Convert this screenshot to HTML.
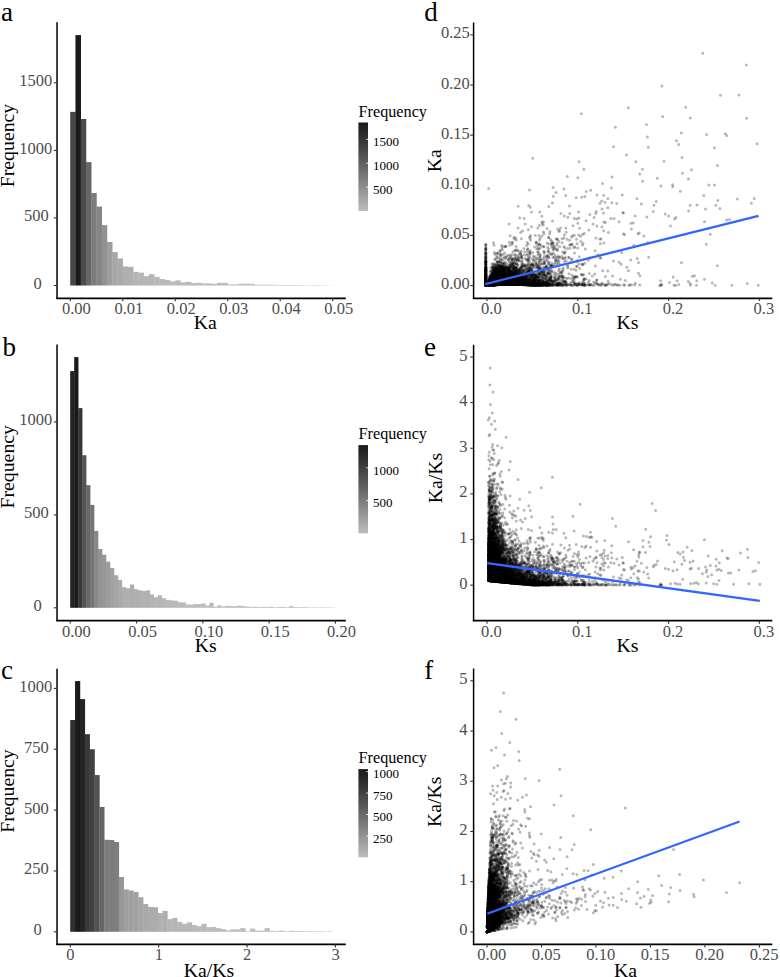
<!DOCTYPE html>
<html><head><meta charset="utf-8"><style>
html,body{margin:0;padding:0;background:#fff;overflow:hidden;width:780px;height:977px;}
svg{display:block;}
text{font-family:"Liberation Serif", serif;}
</style></head><body>
<svg width="780" height="977" viewBox="0 0 780 977">
<rect width="780" height="977" fill="#fff"/>
<rect x="70.20" y="111.85" width="5.55" height="173.65" fill="#474747"/>
<rect x="75.45" y="35.09" width="5.55" height="250.41" fill="#1a1a1a"/>
<rect x="80.70" y="119.01" width="5.55" height="166.49" fill="#4b4b4b"/>
<rect x="85.94" y="162.12" width="5.55" height="123.38" fill="#676767"/>
<rect x="91.19" y="193.06" width="5.55" height="92.44" fill="#7c7c7c"/>
<rect x="96.44" y="206.58" width="5.55" height="78.92" fill="#858585"/>
<rect x="101.69" y="225.09" width="5.55" height="60.41" fill="#929292"/>
<rect x="106.94" y="241.98" width="5.55" height="43.52" fill="#9e9e9e"/>
<rect x="112.18" y="252.12" width="5.55" height="33.38" fill="#a6a6a6"/>
<rect x="117.43" y="258.47" width="5.55" height="27.03" fill="#aaaaaa"/>
<rect x="122.68" y="266.45" width="5.55" height="19.05" fill="#b0b0b0"/>
<rect x="127.93" y="266.85" width="5.55" height="18.65" fill="#b0b0b0"/>
<rect x="133.18" y="271.85" width="5.55" height="13.65" fill="#b4b4b4"/>
<rect x="138.42" y="272.66" width="5.55" height="12.84" fill="#b5b5b5"/>
<rect x="143.67" y="276.18" width="5.55" height="9.32" fill="#b7b7b7"/>
<rect x="148.92" y="274.15" width="5.55" height="11.35" fill="#b6b6b6"/>
<rect x="154.17" y="276.85" width="5.55" height="8.65" fill="#b8b8b8"/>
<rect x="159.42" y="279.01" width="5.55" height="6.49" fill="#b9b9b9"/>
<rect x="164.66" y="279.96" width="5.55" height="5.54" fill="#bababa"/>
<rect x="169.91" y="281.31" width="5.55" height="4.19" fill="#bbbbbb"/>
<rect x="175.16" y="280.36" width="5.55" height="5.14" fill="#bababa"/>
<rect x="180.41" y="282.26" width="5.55" height="3.24" fill="#bcbcbc"/>
<rect x="185.66" y="281.85" width="5.55" height="3.65" fill="#bbbbbb"/>
<rect x="190.90" y="283.07" width="5.55" height="2.43" fill="#bcbcbc"/>
<rect x="196.15" y="282.80" width="5.55" height="2.70" fill="#bcbcbc"/>
<rect x="201.40" y="283.34" width="5.55" height="2.16" fill="#bcbcbc"/>
<rect x="206.65" y="283.34" width="5.55" height="2.16" fill="#bcbcbc"/>
<rect x="211.90" y="283.74" width="5.55" height="1.76" fill="#bdbdbd"/>
<rect x="217.14" y="282.80" width="5.55" height="2.70" fill="#bcbcbc"/>
<rect x="222.39" y="282.80" width="5.55" height="2.70" fill="#bcbcbc"/>
<rect x="227.64" y="284.42" width="5.55" height="1.08" fill="#bdbdbd"/>
<rect x="232.89" y="284.42" width="5.55" height="1.08" fill="#bdbdbd"/>
<rect x="238.14" y="283.74" width="5.55" height="1.76" fill="#bdbdbd"/>
<rect x="243.38" y="283.74" width="5.55" height="1.76" fill="#bdbdbd"/>
<rect x="248.63" y="283.74" width="5.55" height="1.76" fill="#bdbdbd"/>
<rect x="253.88" y="284.69" width="5.55" height="0.81" fill="#bdbdbd"/>
<rect x="259.13" y="284.69" width="5.55" height="0.81" fill="#bdbdbd"/>
<rect x="264.38" y="284.69" width="5.55" height="0.81" fill="#bdbdbd"/>
<rect x="269.62" y="284.69" width="5.55" height="0.81" fill="#bdbdbd"/>
<rect x="274.87" y="284.96" width="5.55" height="0.54" fill="#bebebe"/>
<rect x="280.12" y="284.96" width="5.55" height="0.54" fill="#bebebe"/>
<rect x="285.37" y="285.09" width="5.55" height="0.41" fill="#bebebe"/>
<rect x="290.62" y="284.96" width="5.55" height="0.54" fill="#bebebe"/>
<rect x="295.86" y="285.09" width="5.55" height="0.41" fill="#bebebe"/>
<rect x="301.11" y="285.09" width="5.55" height="0.41" fill="#bebebe"/>
<rect x="306.36" y="285.23" width="5.55" height="0.27" fill="#bebebe"/>
<rect x="311.61" y="285.09" width="5.55" height="0.41" fill="#bebebe"/>
<rect x="316.86" y="285.23" width="5.55" height="0.27" fill="#bebebe"/>
<rect x="322.10" y="285.23" width="5.55" height="0.27" fill="#bebebe"/>
<rect x="327.35" y="285.36" width="5.55" height="0.14" fill="#bebebe"/>
<path d="M57.03 22.30V298.80" fill="none" stroke="#000" stroke-width="1.5"/>
<path d="M56.28 298.30H345.80" fill="none" stroke="#000" stroke-width="1.7"/>
<line x1="53.80" y1="285.50" x2="57.00" y2="285.50" stroke="#333" stroke-width="1.1"/>
<text x="41.65" y="289.00" font-size="16.5" fill="#4D4D4D" text-anchor="end" >0</text>
<line x1="53.80" y1="217.90" x2="57.00" y2="217.90" stroke="#333" stroke-width="1.1"/>
<text x="48.85" y="221.40" font-size="16.5" fill="#4D4D4D" text-anchor="end" >500</text>
<line x1="53.80" y1="150.40" x2="57.00" y2="150.40" stroke="#333" stroke-width="1.1"/>
<text x="52.15" y="153.90" font-size="16.5" fill="#4D4D4D" text-anchor="end" >1000</text>
<line x1="53.80" y1="82.80" x2="57.00" y2="82.80" stroke="#333" stroke-width="1.1"/>
<text x="52.15" y="86.30" font-size="16.5" fill="#4D4D4D" text-anchor="end" >1500</text>
<line x1="70.30" y1="298.00" x2="70.30" y2="301.20" stroke="#333" stroke-width="1.1"/>
<text x="61.90" y="314.10" font-size="16.5" fill="#4D4D4D" text-anchor="start" >0.00</text>
<line x1="122.78" y1="298.00" x2="122.78" y2="301.20" stroke="#333" stroke-width="1.1"/>
<text x="114.38" y="314.10" font-size="16.5" fill="#4D4D4D" text-anchor="start" >0.01</text>
<line x1="175.26" y1="298.00" x2="175.26" y2="301.20" stroke="#333" stroke-width="1.1"/>
<text x="166.86" y="314.10" font-size="16.5" fill="#4D4D4D" text-anchor="start" >0.02</text>
<line x1="227.74" y1="298.00" x2="227.74" y2="301.20" stroke="#333" stroke-width="1.1"/>
<text x="219.34" y="314.10" font-size="16.5" fill="#4D4D4D" text-anchor="start" >0.03</text>
<line x1="280.22" y1="298.00" x2="280.22" y2="301.20" stroke="#333" stroke-width="1.1"/>
<text x="271.82" y="314.10" font-size="16.5" fill="#4D4D4D" text-anchor="start" >0.04</text>
<line x1="332.70" y1="298.00" x2="332.70" y2="301.20" stroke="#333" stroke-width="1.1"/>
<text x="324.30" y="314.10" font-size="16.5" fill="#4D4D4D" text-anchor="start" >0.05</text>
<text x="358.60" y="117.10" font-size="16.2" fill="#000" text-anchor="start" >Frequency</text>
<defs><linearGradient id="g122" x1="0" y1="1" x2="0" y2="0">
<stop offset="0.00" stop-color="#bebebe"/>
<stop offset="0.10" stop-color="#acacac"/>
<stop offset="0.20" stop-color="#9a9a9a"/>
<stop offset="0.30" stop-color="#888888"/>
<stop offset="0.40" stop-color="#777777"/>
<stop offset="0.50" stop-color="#666666"/>
<stop offset="0.60" stop-color="#555555"/>
<stop offset="0.70" stop-color="#464646"/>
<stop offset="0.80" stop-color="#363636"/>
<stop offset="0.90" stop-color="#282828"/>
<stop offset="1.00" stop-color="#1a1a1a"/>
</linearGradient></defs>
<rect x="358.4" y="122.50" width="9.6" height="88.50" fill="url(#g122)"/>
<line x1="366.1" y1="187.12" x2="368" y2="187.12" stroke="#fff" stroke-width="0.8"/>
<text x="373.00" y="193.92" font-size="13.0" fill="#000" text-anchor="start" >500</text>
<line x1="366.1" y1="163.24" x2="368" y2="163.24" stroke="#fff" stroke-width="0.8"/>
<text x="373.00" y="170.04" font-size="13.0" fill="#000" text-anchor="start" >1000</text>
<line x1="366.1" y1="139.36" x2="368" y2="139.36" stroke="#fff" stroke-width="0.8"/>
<text x="373.00" y="146.16" font-size="13.0" fill="#000" text-anchor="start" >1500</text>
<rect x="70.20" y="371.08" width="4.28" height="236.72" fill="#222222"/>
<rect x="74.18" y="357.12" width="4.28" height="250.68" fill="#1a1a1a"/>
<rect x="78.15" y="408.11" width="4.28" height="199.69" fill="#373737"/>
<rect x="82.13" y="455.20" width="4.28" height="152.60" fill="#545454"/>
<rect x="86.11" y="485.16" width="4.28" height="122.64" fill="#686868"/>
<rect x="90.09" y="504.89" width="4.28" height="102.91" fill="#757575"/>
<rect x="94.06" y="530.94" width="4.28" height="76.86" fill="#878787"/>
<rect x="98.04" y="548.99" width="4.28" height="58.81" fill="#939393"/>
<rect x="102.02" y="554.76" width="4.28" height="53.04" fill="#979797"/>
<rect x="105.99" y="561.65" width="4.28" height="46.15" fill="#9c9c9c"/>
<rect x="109.97" y="567.97" width="4.28" height="39.83" fill="#a1a1a1"/>
<rect x="113.95" y="575.23" width="4.28" height="32.57" fill="#a6a6a6"/>
<rect x="117.92" y="579.88" width="4.28" height="27.91" fill="#aaaaaa"/>
<rect x="121.90" y="587.14" width="4.28" height="20.66" fill="#afafaf"/>
<rect x="125.88" y="588.26" width="4.28" height="19.54" fill="#b0b0b0"/>
<rect x="129.86" y="584.54" width="4.28" height="23.26" fill="#adadad"/>
<rect x="133.83" y="589.19" width="4.28" height="18.61" fill="#b0b0b0"/>
<rect x="137.81" y="590.31" width="4.28" height="17.49" fill="#b1b1b1"/>
<rect x="141.79" y="591.05" width="4.28" height="16.75" fill="#b2b2b2"/>
<rect x="145.76" y="590.31" width="4.28" height="17.49" fill="#b1b1b1"/>
<rect x="149.74" y="594.40" width="4.28" height="13.40" fill="#b4b4b4"/>
<rect x="153.72" y="597.19" width="4.28" height="10.61" fill="#b6b6b6"/>
<rect x="157.69" y="595.33" width="4.28" height="12.47" fill="#b5b5b5"/>
<rect x="161.67" y="598.12" width="4.28" height="9.68" fill="#b7b7b7"/>
<rect x="165.65" y="599.80" width="4.28" height="8.00" fill="#b8b8b8"/>
<rect x="169.62" y="600.36" width="4.28" height="7.44" fill="#b8b8b8"/>
<rect x="173.60" y="600.73" width="4.28" height="7.07" fill="#b9b9b9"/>
<rect x="177.58" y="602.22" width="4.28" height="5.58" fill="#bababa"/>
<rect x="181.56" y="602.40" width="4.28" height="5.40" fill="#bababa"/>
<rect x="185.53" y="604.45" width="4.28" height="3.35" fill="#bcbcbc"/>
<rect x="189.51" y="604.64" width="4.28" height="3.16" fill="#bcbcbc"/>
<rect x="193.49" y="604.08" width="4.28" height="3.72" fill="#bbbbbb"/>
<rect x="197.46" y="604.08" width="4.28" height="3.72" fill="#bbbbbb"/>
<rect x="201.44" y="603.52" width="4.28" height="4.28" fill="#bbbbbb"/>
<rect x="205.42" y="605.57" width="4.28" height="2.23" fill="#bcbcbc"/>
<rect x="209.39" y="602.78" width="4.28" height="5.02" fill="#bababa"/>
<rect x="213.37" y="606.68" width="4.28" height="1.12" fill="#bdbdbd"/>
<rect x="217.35" y="605.38" width="4.28" height="2.42" fill="#bcbcbc"/>
<rect x="221.33" y="606.50" width="4.28" height="1.30" fill="#bdbdbd"/>
<rect x="225.30" y="605.94" width="4.28" height="1.86" fill="#bdbdbd"/>
<rect x="229.28" y="605.94" width="4.28" height="1.86" fill="#bdbdbd"/>
<rect x="233.26" y="606.13" width="4.28" height="1.67" fill="#bdbdbd"/>
<rect x="237.23" y="605.57" width="4.28" height="2.23" fill="#bcbcbc"/>
<rect x="241.21" y="606.13" width="4.28" height="1.67" fill="#bdbdbd"/>
<rect x="245.19" y="606.50" width="4.28" height="1.30" fill="#bdbdbd"/>
<rect x="249.17" y="606.87" width="4.28" height="0.93" fill="#bdbdbd"/>
<rect x="253.14" y="606.68" width="4.28" height="1.12" fill="#bdbdbd"/>
<rect x="257.12" y="607.06" width="4.28" height="0.74" fill="#bdbdbd"/>
<rect x="261.10" y="606.87" width="4.28" height="0.93" fill="#bdbdbd"/>
<rect x="265.07" y="607.06" width="4.28" height="0.74" fill="#bdbdbd"/>
<rect x="269.05" y="606.68" width="4.28" height="1.12" fill="#bdbdbd"/>
<rect x="273.03" y="607.24" width="4.28" height="0.56" fill="#bebebe"/>
<rect x="277.00" y="607.06" width="4.28" height="0.74" fill="#bdbdbd"/>
<rect x="280.98" y="606.87" width="4.28" height="0.93" fill="#bdbdbd"/>
<rect x="284.96" y="607.24" width="4.28" height="0.56" fill="#bebebe"/>
<rect x="288.94" y="606.13" width="4.28" height="1.67" fill="#bdbdbd"/>
<rect x="292.91" y="607.06" width="4.28" height="0.74" fill="#bdbdbd"/>
<rect x="296.89" y="607.24" width="4.28" height="0.56" fill="#bebebe"/>
<rect x="300.87" y="607.06" width="4.28" height="0.74" fill="#bdbdbd"/>
<rect x="304.84" y="607.24" width="4.28" height="0.56" fill="#bebebe"/>
<rect x="308.82" y="607.43" width="4.28" height="0.37" fill="#bebebe"/>
<rect x="312.80" y="607.24" width="4.28" height="0.56" fill="#bebebe"/>
<rect x="316.77" y="607.43" width="4.28" height="0.37" fill="#bebebe"/>
<rect x="320.75" y="607.24" width="4.28" height="0.56" fill="#bebebe"/>
<rect x="324.73" y="607.43" width="4.28" height="0.37" fill="#bebebe"/>
<rect x="328.70" y="607.43" width="4.28" height="0.37" fill="#bebebe"/>
<rect x="332.68" y="607.61" width="4.28" height="0.19" fill="#bebebe"/>
<path d="M57.03 344.50V621.15" fill="none" stroke="#000" stroke-width="1.5"/>
<path d="M56.28 620.65H345.80" fill="none" stroke="#000" stroke-width="1.7"/>
<line x1="53.80" y1="607.80" x2="57.00" y2="607.80" stroke="#333" stroke-width="1.1"/>
<text x="41.65" y="611.30" font-size="16.5" fill="#4D4D4D" text-anchor="end" >0</text>
<line x1="53.80" y1="514.90" x2="57.00" y2="514.90" stroke="#333" stroke-width="1.1"/>
<text x="48.85" y="518.40" font-size="16.5" fill="#4D4D4D" text-anchor="end" >500</text>
<line x1="53.80" y1="421.90" x2="57.00" y2="421.90" stroke="#333" stroke-width="1.1"/>
<text x="52.15" y="425.40" font-size="16.5" fill="#4D4D4D" text-anchor="end" >1000</text>
<line x1="70.30" y1="620.40" x2="70.30" y2="623.60" stroke="#333" stroke-width="1.1"/>
<text x="61.90" y="636.50" font-size="16.5" fill="#4D4D4D" text-anchor="start" >0.00</text>
<line x1="136.59" y1="620.40" x2="136.59" y2="623.60" stroke="#333" stroke-width="1.1"/>
<text x="128.19" y="636.50" font-size="16.5" fill="#4D4D4D" text-anchor="start" >0.05</text>
<line x1="202.88" y1="620.40" x2="202.88" y2="623.60" stroke="#333" stroke-width="1.1"/>
<text x="194.48" y="636.50" font-size="16.5" fill="#4D4D4D" text-anchor="start" >0.10</text>
<line x1="269.17" y1="620.40" x2="269.17" y2="623.60" stroke="#333" stroke-width="1.1"/>
<text x="260.77" y="636.50" font-size="16.5" fill="#4D4D4D" text-anchor="start" >0.15</text>
<line x1="335.46" y1="620.40" x2="335.46" y2="623.60" stroke="#333" stroke-width="1.1"/>
<text x="327.06" y="636.50" font-size="16.5" fill="#4D4D4D" text-anchor="start" >0.20</text>
<text x="358.60" y="439.10" font-size="16.2" fill="#000" text-anchor="start" >Frequency</text>
<defs><linearGradient id="g445" x1="0" y1="1" x2="0" y2="0">
<stop offset="0.00" stop-color="#bebebe"/>
<stop offset="0.10" stop-color="#acacac"/>
<stop offset="0.20" stop-color="#9a9a9a"/>
<stop offset="0.30" stop-color="#888888"/>
<stop offset="0.40" stop-color="#777777"/>
<stop offset="0.50" stop-color="#666666"/>
<stop offset="0.60" stop-color="#555555"/>
<stop offset="0.70" stop-color="#464646"/>
<stop offset="0.80" stop-color="#363636"/>
<stop offset="0.90" stop-color="#282828"/>
<stop offset="1.00" stop-color="#1a1a1a"/>
</linearGradient></defs>
<rect x="358.4" y="445.10" width="9.6" height="88.30" fill="url(#g445)"/>
<line x1="366.1" y1="500.62" x2="368" y2="500.62" stroke="#fff" stroke-width="0.8"/>
<text x="373.00" y="507.42" font-size="13.0" fill="#000" text-anchor="start" >500</text>
<line x1="366.1" y1="467.85" x2="368" y2="467.85" stroke="#fff" stroke-width="0.8"/>
<text x="373.00" y="474.65" font-size="13.0" fill="#000" text-anchor="start" >1000</text>
<rect x="70.20" y="720.04" width="5.16" height="211.76" fill="#303030"/>
<rect x="75.06" y="681.10" width="5.16" height="250.70" fill="#1a1a1a"/>
<rect x="79.92" y="699.11" width="5.16" height="232.69" fill="#242424"/>
<rect x="84.78" y="734.16" width="5.16" height="197.64" fill="#383838"/>
<rect x="89.64" y="749.25" width="5.16" height="182.55" fill="#414141"/>
<rect x="94.50" y="775.05" width="5.16" height="156.75" fill="#515151"/>
<rect x="99.36" y="806.94" width="5.16" height="124.86" fill="#666666"/>
<rect x="104.22" y="839.79" width="5.16" height="92.01" fill="#7c7c7c"/>
<rect x="109.08" y="840.04" width="5.16" height="91.76" fill="#7c7c7c"/>
<rect x="113.94" y="841.99" width="5.16" height="89.81" fill="#7e7e7e"/>
<rect x="118.80" y="877.03" width="5.16" height="54.77" fill="#969696"/>
<rect x="123.66" y="889.45" width="5.16" height="42.35" fill="#9f9f9f"/>
<rect x="128.52" y="890.42" width="5.16" height="41.38" fill="#a0a0a0"/>
<rect x="133.38" y="891.88" width="5.16" height="39.92" fill="#a1a1a1"/>
<rect x="138.24" y="897.24" width="5.16" height="34.56" fill="#a5a5a5"/>
<rect x="143.10" y="904.05" width="5.16" height="27.75" fill="#aaaaaa"/>
<rect x="147.96" y="906.97" width="5.16" height="24.83" fill="#acacac"/>
<rect x="152.82" y="907.22" width="5.16" height="24.58" fill="#acacac"/>
<rect x="157.68" y="913.06" width="5.16" height="18.74" fill="#b0b0b0"/>
<rect x="162.54" y="910.87" width="5.16" height="20.93" fill="#afafaf"/>
<rect x="167.40" y="919.14" width="5.16" height="12.66" fill="#b5b5b5"/>
<rect x="172.26" y="917.93" width="5.16" height="13.87" fill="#b4b4b4"/>
<rect x="177.12" y="921.82" width="5.16" height="9.98" fill="#b7b7b7"/>
<rect x="181.98" y="923.77" width="5.16" height="8.03" fill="#b8b8b8"/>
<rect x="186.84" y="922.31" width="5.16" height="9.49" fill="#b7b7b7"/>
<rect x="191.70" y="924.98" width="5.16" height="6.82" fill="#b9b9b9"/>
<rect x="196.56" y="926.20" width="5.16" height="5.60" fill="#bababa"/>
<rect x="201.42" y="923.77" width="5.16" height="8.03" fill="#b8b8b8"/>
<rect x="206.28" y="927.18" width="5.16" height="4.62" fill="#bbbbbb"/>
<rect x="211.14" y="926.93" width="5.16" height="4.87" fill="#bababa"/>
<rect x="216.00" y="928.15" width="5.16" height="3.65" fill="#bbbbbb"/>
<rect x="220.86" y="929.12" width="5.16" height="2.68" fill="#bcbcbc"/>
<rect x="225.72" y="930.34" width="5.16" height="1.46" fill="#bdbdbd"/>
<rect x="230.58" y="929.37" width="5.16" height="2.43" fill="#bcbcbc"/>
<rect x="235.44" y="929.37" width="5.16" height="2.43" fill="#bcbcbc"/>
<rect x="240.30" y="928.15" width="5.16" height="3.65" fill="#bbbbbb"/>
<rect x="245.16" y="931.07" width="5.16" height="0.73" fill="#bdbdbd"/>
<rect x="250.02" y="928.64" width="5.16" height="3.16" fill="#bcbcbc"/>
<rect x="254.88" y="930.58" width="5.16" height="1.22" fill="#bdbdbd"/>
<rect x="259.74" y="930.58" width="5.16" height="1.22" fill="#bdbdbd"/>
<rect x="264.60" y="928.15" width="5.16" height="3.65" fill="#bbbbbb"/>
<rect x="269.46" y="930.83" width="5.16" height="0.97" fill="#bdbdbd"/>
<rect x="274.32" y="931.07" width="5.16" height="0.73" fill="#bdbdbd"/>
<rect x="279.18" y="930.58" width="5.16" height="1.22" fill="#bdbdbd"/>
<rect x="284.04" y="931.31" width="5.16" height="0.49" fill="#bebebe"/>
<rect x="288.90" y="930.83" width="5.16" height="0.97" fill="#bdbdbd"/>
<rect x="293.76" y="931.07" width="5.16" height="0.73" fill="#bdbdbd"/>
<rect x="298.62" y="931.07" width="5.16" height="0.73" fill="#bdbdbd"/>
<rect x="303.48" y="931.31" width="5.16" height="0.49" fill="#bebebe"/>
<rect x="308.34" y="931.07" width="5.16" height="0.73" fill="#bdbdbd"/>
<rect x="313.20" y="931.31" width="5.16" height="0.49" fill="#bebebe"/>
<rect x="318.06" y="931.31" width="5.16" height="0.49" fill="#bebebe"/>
<rect x="322.92" y="931.56" width="5.16" height="0.24" fill="#bebebe"/>
<rect x="327.78" y="931.31" width="5.16" height="0.49" fill="#bebebe"/>
<path d="M57.03 668.70V944.80" fill="none" stroke="#000" stroke-width="1.5"/>
<path d="M56.28 944.30H345.80" fill="none" stroke="#000" stroke-width="1.7"/>
<line x1="53.80" y1="931.80" x2="57.00" y2="931.80" stroke="#333" stroke-width="1.1"/>
<text x="41.65" y="935.30" font-size="16.5" fill="#4D4D4D" text-anchor="end" >0</text>
<line x1="53.80" y1="870.95" x2="57.00" y2="870.95" stroke="#333" stroke-width="1.1"/>
<text x="48.85" y="874.45" font-size="16.5" fill="#4D4D4D" text-anchor="end" >250</text>
<line x1="53.80" y1="810.10" x2="57.00" y2="810.10" stroke="#333" stroke-width="1.1"/>
<text x="48.85" y="813.60" font-size="16.5" fill="#4D4D4D" text-anchor="end" >500</text>
<line x1="53.80" y1="749.25" x2="57.00" y2="749.25" stroke="#333" stroke-width="1.1"/>
<text x="48.85" y="752.75" font-size="16.5" fill="#4D4D4D" text-anchor="end" >750</text>
<line x1="53.80" y1="688.40" x2="57.00" y2="688.40" stroke="#333" stroke-width="1.1"/>
<text x="52.15" y="691.90" font-size="16.5" fill="#4D4D4D" text-anchor="end" >1000</text>
<line x1="70.30" y1="944.30" x2="70.30" y2="947.50" stroke="#333" stroke-width="1.1"/>
<text x="70.40" y="960.40" font-size="16.5" fill="#4D4D4D" text-anchor="middle" >0</text>
<line x1="158.68" y1="944.30" x2="158.68" y2="947.50" stroke="#333" stroke-width="1.1"/>
<text x="158.78" y="960.40" font-size="16.5" fill="#4D4D4D" text-anchor="middle" >1</text>
<line x1="247.06" y1="944.30" x2="247.06" y2="947.50" stroke="#333" stroke-width="1.1"/>
<text x="247.16" y="960.40" font-size="16.5" fill="#4D4D4D" text-anchor="middle" >2</text>
<line x1="335.44" y1="944.30" x2="335.44" y2="947.50" stroke="#333" stroke-width="1.1"/>
<text x="335.54" y="960.40" font-size="16.5" fill="#4D4D4D" text-anchor="middle" >3</text>
<text x="358.60" y="762.90" font-size="16.2" fill="#000" text-anchor="start" >Frequency</text>
<defs><linearGradient id="g769" x1="0" y1="1" x2="0" y2="0">
<stop offset="0.00" stop-color="#bebebe"/>
<stop offset="0.10" stop-color="#acacac"/>
<stop offset="0.20" stop-color="#9a9a9a"/>
<stop offset="0.30" stop-color="#888888"/>
<stop offset="0.40" stop-color="#777777"/>
<stop offset="0.50" stop-color="#666666"/>
<stop offset="0.60" stop-color="#555555"/>
<stop offset="0.70" stop-color="#464646"/>
<stop offset="0.80" stop-color="#363636"/>
<stop offset="0.90" stop-color="#282828"/>
<stop offset="1.00" stop-color="#1a1a1a"/>
</linearGradient></defs>
<rect x="358.4" y="769.10" width="9.6" height="88.30" fill="url(#g769)"/>
<line x1="366.1" y1="835.97" x2="368" y2="835.97" stroke="#fff" stroke-width="0.8"/>
<text x="373.00" y="842.77" font-size="13.0" fill="#000" text-anchor="start" >250</text>
<line x1="366.1" y1="814.54" x2="368" y2="814.54" stroke="#fff" stroke-width="0.8"/>
<text x="373.00" y="821.34" font-size="13.0" fill="#000" text-anchor="start" >500</text>
<line x1="366.1" y1="793.10" x2="368" y2="793.10" stroke="#fff" stroke-width="0.8"/>
<text x="373.00" y="799.90" font-size="13.0" fill="#000" text-anchor="start" >750</text>
<line x1="366.1" y1="771.67" x2="368" y2="771.67" stroke="#fff" stroke-width="0.8"/>
<text x="373.00" y="778.47" font-size="13.0" fill="#000" text-anchor="start" >1000</text>
<g fill="none" stroke="#000" stroke-opacity="0.28" stroke-width="3.0" stroke-linecap="round">
<path d="M518.0 228.0h0M501.7 265.9h0M496.4 271.4h0M497.7 283.2h0M538.3 285.5h0M534.4 279.6h0M549.3 279.1h0M548.8 267.8h0M502.0 284.5h0M564.3 216.1h0M485.8 285.4h0M536.5 258.6h0M538.5 284.0h0M510.0 280.5h0M498.6 281.8h0M581.8 264.2h0M499.1 273.0h0M521.2 251.0h0M542.2 283.1h0M493.4 266.5h0M492.3 285.1h0M489.5 279.7h0M548.7 263.9h0M519.8 270.9h0M485.8 264.1h0M525.4 274.8h0M499.7 284.3h0M491.0 285.2h0M517.1 279.0h0M501.5 245.6h0M528.0 283.3h0M505.0 259.1h0M492.3 273.8h0M491.4 283.7h0M512.9 277.8h0M507.5 268.8h0M489.2 280.5h0M489.7 282.3h0M512.5 284.1h0M527.8 273.5h0M574.3 284.2h0M512.4 282.5h0M533.9 283.0h0M509.9 284.3h0M497.9 273.5h0M527.9 282.5h0M488.7 283.1h0M496.4 279.4h0M577.9 177.8h0M524.7 266.1h0M560.6 273.1h0M544.7 282.4h0M491.7 276.7h0M536.3 243.4h0M491.7 277.2h0M546.9 284.2h0M491.3 276.6h0M530.6 240.2h0M491.0 285.2h0M492.4 274.9h0M499.0 277.7h0M533.5 274.0h0M537.4 245.9h0M485.8 281.7h0M560.6 284.2h0M514.4 274.1h0M508.9 284.3h0M490.2 285.2h0M505.9 272.9h0M550.0 284.2h0M494.6 283.8h0M508.7 283.3h0M485.8 276.3h0M497.4 266.0h0M532.4 264.9h0M494.0 263.7h0M496.0 281.7h0M533.4 284.1h0M489.5 283.0h0M533.9 258.1h0M505.1 279.6h0M545.2 275.9h0"/>
<path d="M593.0 224.1h0M524.6 278.2h0M527.6 274.0h0M491.2 282.2h0M521.9 282.1h0M544.5 275.3h0M535.5 282.8h0M577.2 260.8h0M504.5 284.3h0M489.3 283.0h0M506.7 284.3h0M510.3 275.1h0M490.2 284.8h0M504.1 280.8h0M501.7 284.5h0M508.1 275.8h0M571.6 237.1h0M509.6 278.3h0M519.1 278.8h0M513.8 277.2h0M519.6 283.2h0M712.2 282.9h0M516.8 284.4h0M485.8 268.9h0M485.8 278.0h0M548.7 244.0h0M485.8 280.8h0M507.7 280.2h0M496.8 256.1h0M508.4 284.2h0M496.1 277.7h0M520.9 274.4h0M562.9 271.1h0M493.9 275.1h0M485.8 285.2h0M549.8 265.4h0M557.4 283.3h0M515.4 267.0h0M492.0 279.0h0M508.5 280.7h0M531.9 258.9h0M502.1 284.3h0M485.8 284.3h0M505.6 273.5h0M565.7 281.5h0M534.4 278.9h0M500.0 283.5h0M637.9 233.7h0M510.2 278.1h0M501.9 248.4h0M503.3 275.7h0M514.6 283.5h0M491.2 282.3h0M503.0 278.4h0M513.9 283.1h0M492.3 273.4h0M515.6 284.4h0M515.7 280.7h0M530.1 271.8h0M583.5 284.5h0M538.1 248.2h0M560.3 264.6h0M527.4 284.6h0M505.5 278.7h0M611.8 202.8h0M536.0 283.2h0M545.1 283.3h0M509.9 275.1h0M513.9 282.4h0M525.6 284.4h0M519.0 283.0h0M568.0 266.2h0M539.5 273.8h0M528.6 284.7h0M489.0 282.6h0M497.0 273.4h0M509.1 282.0h0M497.5 276.8h0M485.8 272.2h0M551.6 241.0h0M610.9 218.4h0M517.3 272.6h0"/>
<path d="M541.2 271.6h0M537.5 284.1h0M488.6 284.9h0M527.1 242.6h0M494.8 284.8h0M510.1 273.7h0M516.4 284.3h0M493.6 281.4h0M497.9 277.2h0M514.2 280.8h0M506.4 284.3h0M515.6 272.7h0M637.3 258.6h0M522.0 268.1h0M518.8 276.1h0M485.8 283.4h0M564.4 261.6h0M522.6 280.1h0M510.6 283.5h0M521.3 238.7h0M616.7 203.6h0M508.8 278.6h0M550.2 284.8h0M562.8 269.6h0M491.5 279.9h0M485.8 285.0h0M519.3 284.1h0M490.8 278.6h0M506.0 283.3h0M538.0 255.0h0M489.2 284.1h0M531.5 275.6h0M511.3 279.8h0M490.0 285.3h0M492.8 277.1h0M513.5 268.6h0M489.6 285.3h0M485.8 273.2h0M717.4 165.6h0M513.2 271.3h0M506.0 284.3h0M539.3 284.6h0M513.5 276.6h0M506.8 279.4h0M523.5 284.7h0M539.0 275.7h0M555.8 257.7h0M505.0 279.2h0M614.0 218.6h0M499.1 278.5h0M565.2 251.8h0M510.4 271.1h0M681.4 133.1h0M521.5 278.9h0M546.6 265.6h0M485.8 271.6h0M514.7 273.1h0M517.7 274.7h0M581.3 284.6h0M508.2 279.7h0M501.6 284.2h0M503.4 281.9h0M494.0 271.8h0M544.7 274.1h0M522.4 278.2h0M499.5 265.5h0M507.8 282.4h0M485.8 279.2h0M537.7 284.4h0M559.6 284.9h0M495.4 272.9h0M507.8 282.7h0M507.2 281.8h0M503.4 284.4h0M520.6 275.9h0M496.7 273.0h0M496.9 283.7h0M485.8 261.6h0M507.5 255.3h0M513.1 273.0h0M510.1 268.4h0M520.2 273.0h0"/>
<path d="M502.3 250.1h0M512.4 283.9h0M502.6 271.7h0M544.8 274.2h0M491.0 277.5h0M517.1 264.2h0M528.3 260.9h0M501.3 266.9h0M552.5 285.0h0M583.6 280.3h0M541.1 259.0h0M500.6 269.9h0M529.5 281.3h0M515.4 260.3h0M522.6 271.1h0M516.1 282.9h0M495.8 273.0h0M497.6 274.3h0M485.8 264.2h0M549.1 272.7h0M527.5 272.5h0M490.0 285.0h0M522.5 283.3h0M512.4 263.0h0M500.0 284.5h0M485.8 261.4h0M543.0 272.7h0M559.0 281.4h0M494.1 275.2h0M497.7 267.4h0M523.0 278.7h0M517.0 278.1h0M520.4 279.9h0M508.4 271.0h0M523.1 284.0h0M527.3 284.7h0M504.7 271.0h0M493.4 284.9h0M536.0 263.7h0M534.2 276.9h0M550.3 273.8h0M489.6 283.9h0M530.7 284.7h0M518.1 283.1h0M529.5 283.1h0M525.1 284.8h0M751.4 203.3h0M606.3 284.5h0M518.1 284.3h0M512.8 279.4h0M495.2 278.9h0M509.5 284.1h0M525.7 278.9h0M499.0 284.5h0M552.9 271.8h0M512.6 284.0h0M508.9 280.8h0M518.9 280.2h0M500.9 278.6h0M494.0 245.3h0M503.3 281.1h0M521.5 280.9h0M596.6 283.2h0M547.3 284.9h0M520.1 276.1h0M513.4 275.3h0M512.6 270.1h0M493.9 280.9h0M499.7 275.4h0M516.1 284.3h0M526.0 281.9h0M510.0 284.1h0M506.0 282.9h0M567.3 176.6h0M543.3 260.4h0M528.2 282.1h0M500.3 278.5h0M533.9 280.1h0M502.6 269.5h0M500.2 250.8h0M489.6 281.5h0M659.7 285.5h0"/>
<path d="M523.3 283.1h0M485.8 282.4h0M547.0 284.0h0M513.7 280.5h0M506.1 270.0h0M541.8 264.0h0M491.7 278.1h0M639.8 285.0h0M509.4 242.2h0M509.1 224.0h0M500.3 284.4h0M569.6 240.3h0M503.1 280.3h0M558.8 283.1h0M504.3 284.2h0M498.4 277.1h0M503.4 284.3h0M583.7 274.4h0M516.4 284.4h0M508.4 265.2h0M515.5 284.4h0M532.1 276.0h0M738.9 95.1h0M520.6 254.2h0M494.4 282.2h0M500.7 269.4h0M677.1 280.7h0M516.5 276.8h0M508.1 269.5h0M496.2 272.0h0M489.2 284.9h0M511.3 279.6h0M533.3 267.9h0M531.0 284.9h0M503.2 267.7h0M503.2 275.8h0M491.5 281.4h0M530.1 277.4h0M558.4 278.4h0M501.6 266.6h0M491.0 282.9h0M495.8 265.6h0M567.9 217.3h0M500.6 279.7h0M491.8 279.7h0M527.5 279.8h0M499.2 284.4h0M572.5 281.4h0M596.3 211.6h0M504.8 282.5h0M536.6 285.3h0M520.1 282.4h0M512.9 284.3h0M485.8 276.7h0M571.0 269.2h0M506.7 273.6h0M546.2 266.6h0M485.8 269.7h0M522.6 272.5h0M518.0 283.9h0M497.1 271.1h0M519.2 284.5h0M519.9 284.2h0M647.6 242.5h0M546.2 275.2h0M539.1 266.1h0M507.3 275.8h0M546.8 282.1h0M603.9 242.9h0M603.6 230.8h0M639.2 233.0h0M580.8 241.6h0M643.8 236.0h0M587.1 284.8h0M509.5 280.9h0M485.8 275.0h0M517.1 259.9h0M517.7 278.1h0M513.0 278.1h0M503.2 283.0h0M492.8 270.8h0M485.8 271.2h0"/>
<path d="M510.5 260.1h0M542.7 285.3h0M508.5 282.8h0M494.6 281.0h0M691.5 169.7h0M551.4 254.3h0M527.9 275.7h0M531.5 226.8h0M488.9 281.6h0M510.6 275.0h0M547.6 284.1h0M518.3 284.5h0M485.8 277.4h0M491.9 282.2h0M559.5 230.4h0M497.4 279.3h0M528.3 272.1h0M503.9 274.3h0M485.8 283.4h0M590.7 285.0h0M542.0 284.8h0M508.8 284.3h0M557.7 239.5h0M510.9 265.1h0M571.1 285.1h0M485.8 284.6h0M548.4 280.8h0M564.7 281.2h0M518.4 282.3h0M504.5 270.7h0M540.6 259.9h0M509.5 272.6h0M502.1 284.4h0M512.6 242.3h0M692.4 276.3h0M531.5 283.0h0M508.8 260.9h0M497.7 280.5h0M509.0 278.4h0M494.3 270.5h0M485.8 262.4h0M519.1 260.3h0M523.2 280.6h0M524.0 280.7h0M497.2 273.9h0M502.9 278.7h0M501.2 272.9h0M531.7 269.7h0M495.0 280.4h0M493.5 284.9h0M497.9 273.2h0M524.0 280.4h0M562.3 258.4h0M519.8 284.1h0M536.1 242.0h0M522.5 274.3h0M485.8 253.4h0M531.9 282.0h0M521.8 267.3h0M523.3 275.2h0M499.9 284.5h0M520.7 268.0h0M491.0 285.0h0M510.3 265.0h0M510.1 258.7h0M590.6 190.3h0M520.2 254.0h0M505.1 277.7h0M496.3 283.4h0M554.3 246.1h0M526.8 278.5h0M504.4 278.9h0M499.6 284.3h0M543.6 246.7h0M539.5 284.9h0M488.8 285.4h0M520.9 279.0h0M495.3 276.7h0M503.5 284.4h0M512.6 264.7h0M529.2 284.9h0"/>
<path d="M506.8 279.5h0M536.8 284.4h0M498.5 274.9h0M561.9 256.2h0M510.8 266.5h0M520.5 284.4h0M559.0 231.4h0M576.1 270.3h0M490.4 277.6h0M537.6 284.5h0M527.0 282.2h0M642.4 169.3h0M497.9 273.4h0M500.7 277.1h0M521.5 265.4h0M511.9 272.7h0M505.6 282.1h0M509.5 280.0h0M499.0 276.9h0M491.3 282.0h0M499.4 279.8h0M491.6 282.1h0M494.4 267.5h0M567.5 284.8h0M485.8 269.5h0M493.9 284.6h0M518.8 274.6h0M518.3 270.5h0M502.3 280.8h0M518.4 284.2h0M526.7 283.1h0M525.2 271.4h0M580.7 236.3h0M508.8 284.2h0M547.1 273.0h0M525.3 284.6h0M534.9 277.6h0M526.4 265.8h0M503.0 270.6h0M563.9 246.4h0M495.7 270.4h0M560.5 228.0h0M492.0 280.9h0M505.8 279.6h0M517.9 277.7h0M675.7 285.3h0M497.7 281.0h0M538.1 273.9h0M509.7 273.6h0M513.6 282.7h0M521.5 284.5h0M503.2 264.6h0M492.4 282.9h0M492.9 284.9h0M682.0 157.4h0M492.5 284.7h0M574.8 247.0h0M532.4 284.3h0M494.5 273.4h0M485.8 262.7h0M485.8 267.4h0M490.5 274.8h0M581.3 274.5h0M506.7 284.4h0M510.3 276.4h0M504.5 278.6h0M527.9 283.8h0M503.4 276.4h0M503.6 284.1h0M545.9 285.5h0M492.1 269.6h0M500.3 262.6h0M518.3 284.3h0M590.3 284.5h0M505.9 274.8h0M553.7 266.5h0M513.0 282.6h0M490.9 279.6h0M535.6 283.4h0M509.8 267.6h0M485.8 260.4h0"/>
<path d="M485.8 266.0h0M485.8 279.0h0M504.3 282.8h0M704.5 221.8h0M508.8 270.4h0M493.7 268.6h0M528.7 259.7h0M519.3 275.9h0M539.7 280.7h0M514.7 258.3h0M546.6 258.6h0M485.8 270.3h0M530.0 280.9h0M489.2 285.3h0M500.7 284.3h0M523.5 284.6h0M485.8 273.8h0M564.6 281.8h0M527.5 271.4h0M505.4 275.8h0M511.3 283.6h0M502.2 280.9h0M508.1 277.5h0M533.1 285.2h0M493.9 276.6h0M549.1 285.3h0M497.2 281.5h0M502.8 273.8h0M505.2 284.3h0M485.8 282.7h0M485.8 255.2h0M534.7 247.1h0M544.4 281.3h0M515.0 284.3h0M502.5 264.8h0M493.6 284.8h0M510.5 255.8h0M558.2 284.3h0M488.9 284.5h0M536.0 280.1h0M489.4 280.7h0M514.4 275.7h0M485.8 269.7h0M543.6 285.2h0M547.1 268.0h0M496.5 268.6h0M522.5 283.1h0M499.8 279.5h0M534.5 274.5h0M696.5 285.3h0M485.8 247.9h0M535.0 285.5h0M485.8 264.6h0M526.3 279.7h0M528.3 229.8h0M517.0 284.3h0M508.1 274.3h0M546.7 285.4h0M516.5 256.0h0M485.8 283.4h0M532.8 285.4h0M494.5 284.4h0M534.9 280.6h0M576.5 266.5h0M520.1 282.8h0M626.8 267.2h0M492.6 272.0h0M495.8 271.6h0M505.3 284.4h0M543.9 271.7h0M498.3 282.7h0M504.6 266.0h0M531.2 265.1h0M509.1 276.5h0M506.7 277.4h0M532.9 282.8h0M519.3 283.7h0M488.6 188.4h0M669.5 282.5h0M535.7 277.6h0M504.6 278.5h0"/>
<path d="M544.9 282.3h0M485.8 276.0h0M485.8 249.8h0M501.7 276.1h0M528.6 263.9h0M495.2 275.2h0M488.6 282.9h0M501.3 272.4h0M557.6 279.5h0M512.7 259.4h0M485.8 267.0h0M517.3 277.3h0M571.9 244.9h0M518.3 269.8h0M531.9 276.0h0M553.4 253.2h0M529.3 280.1h0M523.7 274.3h0M494.9 279.8h0M642.6 181.2h0M485.8 276.5h0M498.3 273.2h0M494.9 284.9h0M490.7 279.0h0M504.3 284.3h0M488.7 282.3h0M507.1 279.1h0M485.8 274.8h0M544.6 267.9h0M595.9 238.0h0M485.8 272.3h0M490.2 285.3h0M515.7 237.7h0M494.8 276.7h0M499.2 261.6h0M535.2 275.3h0M514.0 284.3h0M612.6 276.1h0M489.3 280.9h0M501.5 277.3h0M529.2 279.7h0M542.9 283.1h0M500.4 259.7h0M485.8 276.4h0M503.4 284.4h0M565.8 195.4h0M543.6 282.0h0M544.1 251.4h0M532.6 263.0h0M511.4 284.0h0M524.8 276.0h0M515.1 283.0h0M511.7 284.2h0M500.0 267.5h0M489.3 281.1h0M589.7 257.7h0M514.5 283.8h0M521.7 280.4h0M512.1 282.1h0M485.8 267.3h0M510.6 282.5h0M525.4 284.3h0M520.6 282.4h0M485.8 275.1h0M536.7 276.8h0M546.4 276.2h0M542.1 280.2h0M503.1 277.0h0M550.8 277.6h0M529.3 272.8h0M495.3 284.8h0M502.4 284.5h0M550.3 279.6h0M524.6 264.8h0M532.0 274.8h0M498.3 284.6h0M565.5 284.3h0M543.7 284.8h0M528.7 284.4h0M513.8 271.5h0M607.7 284.5h0"/>
<path d="M485.8 282.0h0M485.8 269.8h0M545.8 284.7h0M563.2 277.0h0M501.6 284.4h0M495.5 275.3h0M537.2 265.3h0M516.8 282.6h0M514.9 281.2h0M497.4 281.0h0M490.7 279.1h0M523.4 275.7h0M488.7 285.1h0M528.4 269.9h0M548.7 269.4h0M528.6 272.0h0M506.0 284.4h0M485.8 267.9h0M494.9 284.8h0M488.5 284.9h0M489.2 285.0h0M485.8 251.5h0M543.2 285.2h0M515.3 284.1h0M511.9 284.3h0M536.1 285.4h0M530.4 274.9h0M498.0 280.4h0M516.2 271.0h0M511.8 242.7h0M533.9 264.7h0M493.1 284.8h0M488.8 284.8h0M510.0 284.3h0M488.6 285.3h0M512.1 272.4h0M491.2 274.9h0M485.8 277.6h0M491.2 280.4h0M485.8 271.2h0M497.6 269.5h0M510.0 267.8h0M719.9 208.5h0M490.9 284.8h0M539.8 280.1h0M492.9 271.9h0M505.4 284.3h0M494.5 266.4h0M489.8 283.9h0M513.5 279.6h0M547.7 285.6h0M528.0 249.3h0M506.9 279.0h0M505.3 276.7h0M492.2 275.7h0M498.5 277.9h0M492.1 274.8h0M489.9 279.6h0M485.8 268.6h0M528.0 281.5h0M528.7 282.9h0M548.2 283.4h0M540.4 284.6h0M558.5 274.1h0M514.9 276.1h0M512.6 271.9h0M559.3 268.8h0M516.8 283.3h0M494.8 264.5h0M490.9 281.4h0M534.0 274.7h0M488.7 285.2h0M500.1 284.5h0M521.8 261.8h0M517.9 282.0h0M507.7 269.3h0M509.7 278.1h0M551.7 247.3h0M502.5 284.4h0M543.4 284.9h0M592.3 276.0h0"/>
<path d="M499.0 269.3h0M569.2 257.6h0M526.5 245.5h0M492.5 284.4h0M512.6 277.9h0M508.8 267.3h0M543.9 251.8h0M534.3 280.1h0M528.8 273.3h0M521.1 278.9h0M537.6 268.1h0M494.7 270.0h0M550.9 276.6h0M576.5 239.2h0M485.8 275.9h0M496.8 279.8h0M499.3 282.9h0M540.1 279.6h0M629.8 284.9h0M558.2 278.8h0M518.4 277.5h0M534.1 285.1h0M541.1 272.4h0M546.7 276.1h0M558.3 284.6h0M497.2 282.6h0M556.8 284.6h0M497.6 284.4h0M489.9 281.3h0M521.8 282.8h0M551.2 281.3h0M510.9 281.8h0M485.8 281.6h0M485.8 281.9h0M529.3 273.0h0M501.5 284.4h0M521.6 255.7h0M525.3 281.0h0M488.5 281.8h0M512.3 283.0h0M531.0 268.7h0M510.8 284.2h0M500.7 284.4h0M490.0 285.3h0M495.5 267.4h0M581.7 284.5h0M595.4 265.9h0M527.3 248.7h0M503.4 279.2h0M516.9 278.3h0M503.0 266.7h0M500.9 284.4h0M562.5 282.9h0M521.4 284.1h0M600.9 285.3h0M516.5 282.1h0M550.0 231.4h0M547.9 277.2h0M521.5 284.1h0M553.1 187.6h0M551.8 254.2h0M485.8 256.3h0M502.3 275.9h0M574.8 276.9h0M512.7 270.6h0M516.3 273.9h0M526.5 275.8h0M535.6 285.4h0M506.1 277.4h0M547.1 260.4h0M493.6 284.9h0M489.4 282.1h0M506.6 284.0h0M498.2 258.3h0M588.9 284.9h0M497.9 271.8h0M532.9 280.5h0M513.2 283.8h0M515.1 274.8h0M490.4 278.5h0M525.3 280.9h0"/>
<path d="M485.8 277.2h0M550.5 283.0h0M556.1 280.4h0M485.8 277.3h0M521.1 284.3h0M539.0 284.6h0M555.2 260.3h0M497.7 277.0h0M523.2 283.1h0M489.5 283.7h0M521.5 269.9h0M509.4 279.1h0M489.2 285.3h0M546.2 266.5h0M505.6 284.2h0M505.4 278.5h0M538.6 284.7h0M493.6 284.8h0M602.5 183.5h0M530.0 282.2h0M485.8 278.1h0M510.5 276.7h0M485.8 281.1h0M514.5 269.1h0M646.5 124.5h0M514.9 250.2h0M516.3 240.1h0M493.4 283.6h0M499.1 280.8h0M502.6 280.1h0M586.1 220.7h0M537.6 267.3h0M527.2 283.6h0M516.6 273.2h0M510.0 284.3h0M485.8 270.0h0M501.9 276.9h0M502.1 284.3h0M493.2 280.3h0M536.7 285.4h0M501.1 282.3h0M517.7 250.5h0M505.9 246.2h0M688.3 281.5h0M515.1 261.5h0M557.8 284.0h0M506.4 266.8h0M490.0 285.1h0M529.2 284.4h0M492.3 279.5h0M500.3 267.5h0M518.5 284.5h0M543.6 258.5h0M511.7 276.0h0M495.3 284.2h0M503.3 280.3h0M503.5 271.1h0M548.9 274.0h0M517.8 282.5h0M503.9 270.9h0M510.2 275.7h0M542.6 282.2h0M498.2 275.5h0M494.6 271.1h0M548.9 285.5h0M522.6 231.0h0M519.4 270.1h0M523.4 279.1h0M537.1 278.7h0M494.2 283.4h0M528.3 244.0h0M546.6 277.0h0M506.7 284.2h0M485.8 275.2h0M526.4 284.5h0M597.3 283.8h0M515.4 283.8h0M506.8 282.1h0M495.0 271.9h0M536.8 285.4h0M491.2 276.5h0"/>
<path d="M551.5 284.8h0M540.4 277.1h0M584.9 284.9h0M538.0 264.5h0M485.8 258.4h0M496.2 280.3h0M504.4 278.8h0M577.0 266.3h0M638.5 262.8h0M493.2 275.1h0M624.5 285.3h0M496.0 280.4h0M500.4 267.9h0M514.8 284.2h0M505.8 283.1h0M547.2 256.0h0M498.4 276.6h0M536.8 285.3h0M485.8 264.2h0M532.6 275.8h0M530.0 238.2h0M654.0 205.2h0M501.0 281.0h0M505.2 284.4h0M533.8 285.4h0M534.7 284.2h0M525.9 273.0h0M518.8 273.1h0M521.3 273.1h0M538.0 284.8h0M518.7 284.0h0M490.5 285.0h0M543.8 274.8h0M536.1 276.3h0M509.8 271.9h0M489.5 284.0h0M508.6 277.3h0M509.6 269.9h0M488.5 285.4h0M538.8 277.3h0M563.4 281.1h0M503.3 280.9h0M506.5 271.9h0M556.2 262.1h0M524.1 218.4h0M531.8 270.7h0M485.8 285.0h0M504.1 284.4h0M496.0 276.6h0M489.4 285.3h0M503.9 284.3h0M497.3 284.7h0M540.3 247.7h0M521.2 284.3h0M535.6 284.3h0M507.6 284.3h0M514.4 283.1h0M515.6 284.4h0M489.7 285.0h0M490.4 279.2h0M497.6 278.3h0M507.0 282.8h0M488.7 280.5h0M527.5 284.8h0M485.8 272.8h0M489.5 280.3h0M503.3 275.9h0M529.1 282.9h0M533.8 282.8h0M529.6 261.8h0M518.3 284.5h0M542.9 281.5h0M503.8 278.4h0M522.0 276.7h0M485.8 280.5h0M488.5 283.3h0M485.8 274.7h0M528.8 279.8h0M499.6 279.9h0M544.6 262.8h0M551.3 274.3h0"/>
<path d="M509.9 283.4h0M508.7 278.7h0M582.5 282.0h0M520.6 276.7h0M548.6 257.3h0M521.4 257.4h0M546.6 284.6h0M488.5 284.0h0M516.1 267.8h0M536.2 284.5h0M493.9 283.5h0M538.9 281.7h0M505.7 270.5h0M520.5 281.9h0M569.5 205.9h0M496.3 272.7h0M532.6 285.5h0M485.8 284.1h0M511.3 273.0h0M573.7 278.6h0M556.2 280.9h0M523.6 283.8h0M492.8 264.1h0M561.4 271.8h0M490.9 284.5h0M509.8 272.2h0M533.0 282.6h0M489.6 280.3h0M518.6 282.0h0M499.3 277.7h0M559.9 283.4h0M577.2 285.4h0M491.7 282.9h0M554.3 277.9h0M518.3 280.8h0M536.2 276.6h0M490.9 271.0h0M508.3 284.2h0M531.2 278.0h0M530.7 282.4h0M548.0 274.5h0M513.4 267.2h0M515.2 271.6h0M545.7 284.6h0M493.9 270.8h0M515.1 282.3h0M511.8 284.3h0M498.9 271.2h0M622.3 195.0h0M601.9 284.4h0M567.4 248.6h0M507.0 270.5h0M485.8 282.7h0M491.5 281.9h0M582.9 264.2h0M496.6 268.1h0M536.1 282.4h0M567.8 284.6h0M523.9 284.4h0M550.4 279.8h0M567.3 284.5h0M539.8 269.1h0M493.3 284.0h0M522.3 277.6h0M529.5 279.6h0M492.3 277.1h0M508.0 284.3h0M534.7 281.0h0M502.6 263.1h0M556.2 239.1h0M706.7 134.4h0M630.8 260.1h0M524.9 284.5h0M546.4 278.8h0M506.9 264.1h0M516.1 281.5h0M531.1 280.1h0M516.6 271.6h0M547.9 251.4h0M485.8 281.1h0M534.4 280.5h0"/>
<path d="M496.8 284.7h0M561.1 276.2h0M519.1 281.2h0M491.6 280.0h0M497.9 275.2h0M527.2 264.6h0M496.7 272.0h0M526.9 277.2h0M485.8 274.6h0M611.2 284.6h0M497.4 281.5h0M524.2 284.5h0M497.7 276.1h0M488.7 284.0h0M522.3 283.0h0M499.4 273.7h0M497.6 272.0h0M485.8 279.9h0M533.2 256.0h0M497.7 274.1h0M485.8 285.3h0M495.6 259.1h0M523.6 277.3h0M498.5 276.6h0M538.1 281.5h0M512.4 282.5h0M605.1 285.3h0M485.8 263.7h0M502.4 268.8h0M518.6 284.2h0M546.3 281.9h0M488.5 284.2h0M660.6 285.5h0M525.5 267.8h0M494.4 273.8h0M519.6 276.3h0M488.5 284.5h0M499.7 275.9h0M497.9 268.5h0M508.8 280.6h0M526.1 284.0h0M524.7 278.1h0M551.6 283.6h0M530.5 235.4h0M509.0 284.2h0M494.2 281.0h0M639.7 174.0h0M502.7 284.3h0M491.4 285.0h0M558.2 284.0h0M494.5 278.1h0M533.6 260.3h0M563.8 284.9h0M516.2 284.4h0M524.9 281.1h0M562.2 242.7h0M493.8 284.9h0M512.5 268.9h0M551.8 284.6h0M513.1 284.3h0M497.2 270.0h0M508.0 259.4h0M513.6 280.1h0M562.9 279.0h0M496.2 280.6h0M557.6 263.9h0M530.9 282.5h0M521.2 283.8h0M485.8 274.9h0M618.1 285.1h0M527.1 259.8h0M489.2 282.8h0M505.1 275.4h0M485.8 276.9h0M512.9 278.3h0M493.8 278.5h0M499.1 283.3h0M524.7 283.2h0M494.5 281.5h0M507.4 276.3h0M509.7 273.3h0"/>
<path d="M509.6 273.1h0M521.5 281.3h0M508.8 266.5h0M601.8 283.1h0M485.8 275.8h0M491.9 279.2h0M584.9 285.3h0M502.6 284.3h0M505.3 284.4h0M542.1 223.7h0M525.3 274.4h0M550.3 285.2h0M539.0 267.9h0M515.8 271.9h0M518.1 265.0h0M532.6 285.1h0M535.5 268.2h0M533.0 282.5h0M543.1 284.6h0M493.9 279.9h0M523.0 284.2h0M510.4 284.1h0M576.2 197.7h0M529.6 284.1h0M532.3 285.2h0M685.7 107.3h0M523.5 284.8h0M507.8 275.2h0M545.2 282.7h0M496.8 272.3h0M485.8 284.6h0M498.6 265.0h0M501.2 271.2h0M528.2 284.6h0M547.4 282.3h0M519.5 278.1h0M540.5 264.2h0M549.6 233.7h0M512.5 278.8h0M540.3 283.5h0M545.3 271.8h0M506.8 283.8h0M507.2 279.2h0M502.7 279.8h0M493.7 273.8h0M527.0 284.6h0M503.0 277.3h0M502.9 283.9h0M571.1 278.7h0M527.2 284.5h0M493.1 284.0h0M509.8 265.4h0M568.6 278.0h0M522.1 260.8h0M514.2 273.6h0M502.3 273.7h0M504.9 284.1h0M534.9 284.8h0M489.8 281.3h0M493.1 272.4h0M502.6 273.6h0M489.0 282.9h0M504.7 253.0h0M504.8 284.3h0M488.8 284.9h0M485.8 277.8h0M515.6 284.3h0M726.7 220.0h0M504.9 246.7h0M556.3 284.4h0M498.3 278.2h0M553.5 284.6h0M513.9 268.6h0M520.0 275.9h0M496.2 283.0h0M543.1 285.6h0M557.5 250.5h0M534.0 260.7h0M553.9 257.3h0M503.7 275.7h0M500.4 279.2h0"/>
<path d="M546.8 281.8h0M538.4 281.2h0M538.1 277.3h0M511.9 284.1h0M529.4 271.1h0M514.5 239.1h0M491.4 278.6h0M528.0 276.8h0M528.5 284.2h0M499.1 273.0h0M563.3 268.1h0M504.6 277.6h0M506.2 275.9h0M485.8 278.8h0M514.5 280.3h0M548.6 249.0h0M489.2 280.3h0M548.2 283.7h0M522.1 284.3h0M494.3 275.5h0M512.0 283.3h0M541.5 284.5h0M490.3 279.5h0M505.5 246.4h0M540.0 266.9h0M493.2 274.5h0M539.0 235.4h0M488.7 282.2h0M525.7 277.0h0M488.5 285.1h0M505.4 284.3h0M490.1 272.1h0M521.6 266.5h0M541.7 284.3h0M520.9 276.0h0M565.2 284.6h0M524.1 278.3h0M510.4 284.2h0M511.1 284.0h0M485.8 282.9h0M485.8 250.1h0M512.7 282.8h0M509.5 281.5h0M607.8 271.0h0M501.3 274.4h0M485.8 282.0h0M510.4 276.5h0M523.0 283.4h0M485.8 269.2h0M529.7 236.9h0M490.0 279.6h0M539.4 225.6h0M503.9 275.0h0M530.4 253.5h0M529.0 284.8h0M507.4 272.1h0M512.0 277.0h0M526.3 259.4h0M514.7 272.7h0M544.6 284.6h0M508.8 273.2h0M514.7 284.1h0M490.5 278.0h0M496.9 271.6h0M504.3 277.5h0M547.2 255.9h0M493.1 284.9h0M619.1 262.3h0M496.9 278.6h0M524.2 265.9h0M607.9 198.6h0M717.3 265.7h0M522.3 283.8h0M513.9 262.8h0M499.8 275.1h0M529.3 273.6h0M532.2 283.6h0M613.5 146.8h0M544.3 264.2h0M495.4 284.8h0M494.1 270.5h0"/>
<path d="M503.2 284.4h0M656.2 201.4h0M523.7 277.8h0M505.5 262.2h0M524.4 283.0h0M582.6 283.5h0M500.0 267.8h0M499.9 271.7h0M527.5 283.5h0M534.9 285.4h0M499.7 277.1h0M519.2 284.3h0M508.8 275.3h0M515.5 277.7h0M505.1 263.8h0M525.1 282.7h0M530.2 250.8h0M506.3 273.4h0M494.1 284.8h0M525.8 284.2h0M517.0 284.3h0M511.0 257.2h0M485.8 283.8h0M541.8 285.2h0M516.6 274.1h0M715.8 205.2h0M516.2 264.1h0M488.8 285.4h0M499.8 276.4h0M507.2 279.2h0M511.6 282.5h0M572.1 244.1h0M519.0 281.6h0M714.5 185.1h0M758.3 285.3h0M485.8 257.5h0M510.4 280.5h0M515.4 274.9h0M498.9 264.7h0M726.8 135.4h0M515.1 277.8h0M489.8 281.5h0M538.0 266.6h0M533.0 280.1h0M509.7 270.1h0M497.2 279.4h0M537.2 276.7h0M539.6 285.5h0M485.8 266.7h0M575.1 282.4h0M485.8 267.3h0M485.8 262.0h0M490.8 282.1h0M533.8 283.2h0M540.6 261.7h0M515.1 282.3h0M519.7 279.3h0M511.9 284.3h0M557.2 284.4h0M503.1 271.7h0M485.8 278.1h0M516.6 274.4h0M696.8 280.7h0M493.6 284.9h0M511.2 284.3h0M538.6 283.7h0M485.8 273.5h0M635.4 283.3h0M583.9 282.8h0M534.7 284.4h0M523.6 283.7h0M551.9 281.5h0M494.7 279.6h0M509.1 272.3h0M532.9 266.3h0M504.0 279.7h0M485.8 257.0h0M512.8 278.1h0M502.5 281.8h0M574.0 279.5h0M544.0 275.1h0"/>
<path d="M521.8 256.2h0M511.9 275.9h0M541.0 275.1h0M485.8 282.6h0M502.9 267.4h0M515.2 269.2h0M526.5 284.5h0M559.1 276.6h0M502.5 270.3h0M544.4 281.6h0M543.4 281.0h0M489.8 285.2h0M552.5 221.0h0M535.8 260.3h0M536.6 277.4h0M492.4 274.7h0M485.8 277.3h0M511.9 273.2h0M520.6 283.2h0M489.1 285.4h0M523.0 272.1h0M542.6 284.8h0M552.1 285.5h0M507.5 283.7h0M516.5 280.5h0M485.8 253.7h0M497.6 281.4h0M521.5 281.3h0M488.8 284.3h0M521.3 283.4h0M495.2 284.9h0M556.0 275.7h0M493.3 284.8h0M533.0 275.9h0M518.6 278.3h0M499.7 278.0h0M521.9 276.7h0M519.3 284.4h0M504.1 273.5h0M566.9 278.6h0M536.3 266.4h0M526.0 283.2h0M485.8 270.2h0M492.3 282.8h0M514.6 276.6h0M551.2 269.9h0M591.5 284.7h0M552.5 280.9h0M512.9 277.3h0M515.9 279.1h0M498.1 273.5h0M500.2 265.9h0M535.5 271.3h0M514.6 275.1h0M495.9 284.7h0M497.5 280.3h0M514.7 278.3h0M515.4 281.6h0M531.9 284.7h0M524.1 284.4h0M491.2 278.5h0M521.5 282.7h0M504.4 270.4h0M562.1 238.7h0M490.1 277.7h0M514.1 273.2h0M514.2 284.3h0M511.1 282.6h0M555.2 284.5h0M623.8 284.8h0M543.2 281.4h0M614.4 284.3h0M537.4 280.3h0M501.5 271.2h0M531.2 284.9h0M519.5 280.7h0M485.8 266.1h0M492.6 266.7h0M504.1 284.4h0M532.6 285.0h0M497.8 262.2h0"/>
<path d="M530.1 285.0h0M585.3 248.9h0M553.3 196.2h0M518.1 206.2h0M535.4 235.3h0M522.8 283.5h0M567.6 284.7h0M511.6 272.4h0M538.4 285.3h0M503.0 282.5h0M489.8 282.6h0M519.7 217.7h0M492.3 277.1h0M599.7 284.6h0M519.9 283.7h0M537.6 252.0h0M528.4 282.9h0M539.2 274.8h0M510.6 284.3h0M492.8 276.6h0M485.8 280.8h0M514.0 266.9h0M553.2 248.4h0M536.5 285.0h0M493.2 284.9h0M485.8 283.1h0M570.6 262.4h0M490.9 280.0h0M546.5 285.5h0M521.9 284.6h0M517.0 259.6h0M602.7 270.8h0M495.9 269.7h0M553.2 246.7h0M532.5 271.6h0M485.8 282.1h0M629.0 285.3h0M563.9 189.1h0M490.2 277.4h0M498.9 284.6h0M510.4 281.6h0M495.4 270.2h0M502.0 277.5h0M511.6 279.1h0M495.5 284.8h0M512.1 283.8h0M498.4 278.1h0M516.5 281.7h0M485.8 281.4h0M548.6 262.8h0M517.5 284.3h0M536.1 263.4h0M512.8 278.6h0M485.8 277.0h0M521.9 284.2h0M491.1 284.9h0M523.0 280.1h0M492.7 284.9h0M517.6 274.7h0M485.8 275.9h0M494.3 279.0h0M494.5 272.6h0M535.1 256.8h0M490.2 285.3h0M532.5 265.0h0M495.6 282.1h0M523.4 264.6h0M489.2 278.1h0M501.6 273.5h0M504.7 256.8h0M525.4 264.9h0M549.0 263.4h0M494.0 278.8h0M485.8 284.2h0M510.2 278.1h0M520.7 253.0h0M508.9 273.8h0M538.8 284.7h0M494.1 284.7h0M499.3 275.3h0M527.7 261.4h0"/>
<path d="M504.1 278.1h0M499.4 268.3h0M501.7 284.4h0M492.5 285.0h0M491.8 279.7h0M485.8 258.9h0M516.8 284.1h0M676.0 217.6h0M599.8 239.1h0M494.3 272.7h0M529.6 252.8h0M485.8 274.0h0M537.5 283.4h0M515.5 267.6h0M569.8 213.4h0M680.4 191.2h0M516.0 273.1h0M514.8 284.3h0M508.1 276.6h0M523.6 271.4h0M498.0 268.7h0M496.9 282.3h0M548.8 206.4h0M517.8 270.8h0M552.6 244.1h0M577.5 284.7h0M492.4 267.3h0M547.0 268.4h0M506.7 284.0h0M501.0 283.6h0M530.5 274.0h0M538.5 280.5h0M501.5 268.1h0M504.9 275.1h0M489.7 285.3h0M488.6 285.0h0M547.6 247.2h0M520.6 232.6h0M509.8 280.4h0M495.5 275.6h0M526.7 268.8h0M489.6 284.7h0M506.3 284.2h0M494.9 284.8h0M513.6 266.5h0M554.9 272.7h0M485.8 249.1h0M493.5 276.8h0M605.4 222.4h0M519.9 284.0h0M541.9 284.6h0M501.7 284.4h0M563.3 276.8h0M635.1 216.1h0M547.8 271.6h0M521.7 281.2h0M503.2 284.1h0M488.9 284.2h0M488.7 285.4h0M529.0 269.9h0M496.2 268.0h0M503.1 279.6h0M574.3 218.6h0M511.0 278.1h0M525.0 258.6h0M510.8 283.6h0M499.3 272.5h0M535.8 282.4h0M503.3 264.8h0M500.0 277.0h0M507.4 284.1h0M506.6 276.7h0M493.3 280.5h0M485.8 270.9h0M503.0 264.2h0M492.8 280.2h0M491.2 276.9h0M519.0 284.5h0M512.8 273.0h0M519.1 271.9h0M495.1 273.6h0"/>
<path d="M528.8 270.6h0M499.1 279.2h0M553.8 264.6h0M528.9 284.7h0M530.2 284.5h0M485.8 278.9h0M537.7 258.6h0M588.9 284.8h0M494.6 275.2h0M499.2 284.5h0M492.8 268.6h0M534.1 284.2h0M498.4 273.6h0M499.9 281.9h0M494.5 284.7h0M498.5 280.4h0M504.2 278.3h0M539.9 280.5h0M575.1 284.1h0M506.4 281.1h0M509.2 271.0h0M502.5 270.9h0M502.9 277.1h0M500.6 280.0h0M579.5 228.2h0M485.8 279.7h0M554.2 282.2h0M501.0 269.1h0M551.8 266.1h0M500.9 283.7h0M561.7 276.8h0M515.3 280.2h0M490.1 281.8h0M533.6 282.7h0M521.2 279.8h0M513.0 283.0h0M536.3 279.7h0M498.7 273.2h0M485.8 281.2h0M623.5 233.7h0M528.2 279.1h0M506.9 282.2h0M508.8 284.3h0M540.1 279.0h0M522.4 281.1h0M492.3 285.0h0M548.8 237.4h0M499.9 262.1h0M485.8 277.2h0M485.8 276.1h0M490.3 275.5h0M514.9 278.0h0M501.1 266.2h0M515.4 250.4h0M547.4 282.0h0M489.7 285.3h0M538.9 284.8h0M522.2 283.2h0M520.2 281.3h0M574.1 283.2h0M580.7 285.1h0M500.5 266.7h0M502.2 284.3h0M543.4 232.0h0M528.4 284.9h0M630.9 223.2h0M494.3 284.6h0M505.2 281.7h0M490.5 280.6h0M564.5 284.3h0M530.6 264.8h0M501.9 279.5h0M497.6 253.0h0M518.8 260.3h0M530.6 283.5h0M690.3 117.9h0M757.2 143.8h0M527.2 282.8h0M505.9 282.9h0M488.8 283.2h0M511.4 284.1h0"/>
<path d="M505.7 274.0h0M516.5 283.5h0M488.9 281.4h0M523.7 284.5h0M501.9 281.4h0M501.8 273.8h0M491.7 276.6h0M485.8 281.3h0M485.8 262.1h0M515.4 274.4h0M507.6 269.7h0M514.4 275.4h0M498.3 284.6h0M539.4 270.8h0M520.2 273.5h0M497.4 284.6h0M502.2 270.0h0M510.0 283.9h0M516.5 270.3h0M584.4 278.4h0M517.0 284.4h0M607.8 207.7h0M497.4 284.5h0M504.8 284.3h0M519.8 284.5h0M532.6 281.4h0M489.1 285.3h0M534.4 285.6h0M509.4 274.6h0M494.7 264.7h0M499.0 279.0h0M516.9 276.5h0M498.3 284.5h0M521.2 271.5h0M493.7 277.3h0M485.8 268.7h0M485.8 268.9h0M549.0 273.3h0M506.4 280.9h0M518.1 281.8h0M595.3 282.6h0M529.8 284.8h0M558.6 270.4h0M539.3 243.8h0M532.1 284.5h0M551.7 279.7h0M493.0 273.8h0M505.7 279.3h0M518.2 279.3h0M504.5 263.4h0M520.4 274.6h0M504.1 284.4h0M489.9 285.3h0M485.8 274.3h0M526.7 280.2h0M495.1 276.9h0M488.6 283.8h0M497.5 271.0h0M570.5 285.0h0M505.8 270.9h0M519.8 268.7h0M540.9 284.6h0M562.1 272.4h0M572.4 285.5h0M511.6 274.5h0M488.7 283.2h0M530.5 269.0h0M503.0 284.4h0M492.0 273.5h0M539.4 274.0h0M506.0 277.4h0M501.5 274.5h0M500.8 273.3h0M492.7 285.0h0M529.1 271.0h0M513.4 279.0h0M529.8 279.2h0M499.3 275.2h0M550.1 253.1h0M510.1 276.7h0M554.8 255.0h0"/>
<path d="M546.1 285.5h0M485.8 285.6h0M504.2 267.5h0M557.8 282.9h0M531.6 284.5h0M488.5 285.4h0M500.2 266.4h0M500.3 266.4h0M529.6 254.5h0M502.1 279.0h0M514.0 277.4h0M493.4 284.7h0M549.5 285.1h0M514.2 284.1h0M500.8 277.8h0M664.0 161.3h0M519.2 271.2h0M596.6 280.2h0M512.5 284.4h0M490.7 284.3h0M502.6 269.5h0M578.6 211.9h0M549.1 284.0h0M512.2 274.0h0M496.7 265.2h0M496.6 269.0h0M594.8 274.0h0M489.2 282.9h0M530.3 275.3h0M544.7 263.0h0M615.4 127.2h0M524.3 283.9h0M518.5 281.3h0M485.8 259.1h0M485.8 284.7h0M494.1 272.5h0M485.8 272.4h0M502.9 280.5h0M498.6 284.6h0M542.7 281.8h0M552.9 282.2h0M518.0 273.9h0M521.7 267.1h0M499.8 278.0h0M513.3 263.4h0M485.8 279.2h0M489.2 283.8h0M550.5 278.1h0M527.2 276.4h0M485.8 271.7h0M495.4 269.6h0M625.3 280.6h0M488.6 285.3h0M502.2 282.8h0M541.2 285.0h0M508.1 283.0h0M513.2 278.4h0M497.2 281.3h0M492.7 282.9h0M565.2 278.0h0M553.0 257.6h0M514.8 277.1h0M497.6 269.7h0M495.3 284.8h0M485.8 276.4h0M541.0 272.6h0M513.4 278.9h0M493.3 274.9h0M499.5 275.7h0M534.4 285.5h0M497.7 268.8h0M527.2 281.2h0M566.7 285.3h0M485.8 277.3h0M505.4 280.1h0M582.7 275.2h0M510.7 284.1h0M485.8 273.0h0M512.4 283.5h0M519.2 278.3h0M485.8 270.3h0"/>
<path d="M512.4 279.8h0M485.8 280.9h0M533.1 285.0h0M502.9 275.4h0M550.7 267.4h0M494.0 283.1h0M513.6 283.6h0M522.7 284.0h0M485.8 272.5h0M513.8 269.9h0M516.9 284.3h0M533.3 265.3h0M503.9 275.6h0M540.0 256.4h0M506.6 273.3h0M516.1 269.3h0M489.2 280.6h0M501.1 273.2h0M500.2 272.9h0M514.6 255.6h0M538.9 281.1h0M496.7 277.2h0M533.3 279.5h0M539.2 261.1h0M505.9 282.2h0M503.2 274.3h0M490.4 281.5h0M633.2 223.1h0M518.0 283.2h0M567.7 268.0h0M527.6 267.3h0M540.8 280.5h0M490.7 277.5h0M507.2 283.9h0M576.8 277.0h0M499.1 274.0h0M576.9 219.0h0M514.1 284.2h0M505.8 269.4h0M500.1 281.8h0M510.1 235.7h0M519.9 283.7h0M543.4 267.6h0M536.5 242.6h0M505.4 279.8h0M496.1 280.6h0M527.3 273.9h0M500.7 253.8h0M507.2 269.6h0M520.6 268.3h0M541.1 283.7h0M485.8 262.3h0M485.8 275.4h0M485.8 279.0h0M586.2 279.0h0M501.0 278.6h0M561.7 282.7h0M492.5 278.4h0M536.2 284.4h0M516.1 284.4h0M530.1 276.1h0M508.5 283.9h0M495.9 283.6h0M541.0 284.8h0M489.4 285.3h0M511.8 284.0h0M754.2 198.5h0M499.1 284.4h0M559.0 260.4h0M509.9 267.4h0M485.8 270.5h0M547.8 282.8h0M501.7 273.4h0M539.0 276.8h0M493.2 277.6h0M527.8 259.1h0M485.8 276.4h0M485.8 252.2h0M517.0 284.5h0M541.9 270.7h0M517.2 274.6h0"/>
<path d="M568.5 257.4h0M492.7 284.8h0M529.8 275.1h0M535.9 262.7h0M485.8 284.0h0M495.9 276.2h0M513.8 284.4h0M519.2 282.7h0M493.3 270.7h0M706.3 244.3h0M497.3 284.6h0M495.8 284.6h0M594.1 217.6h0M571.3 259.3h0M515.0 284.4h0M518.1 279.6h0M506.8 267.8h0M510.0 281.7h0M496.7 257.4h0M494.4 284.8h0M523.1 280.9h0M517.1 284.3h0M485.8 271.5h0M530.9 264.8h0M508.8 277.1h0M494.5 283.0h0M501.5 277.4h0M570.7 244.5h0M493.0 280.7h0M512.1 276.6h0M506.7 277.4h0M548.5 255.1h0M514.2 284.4h0M518.2 277.0h0M502.0 273.7h0M485.8 284.8h0M542.8 278.4h0M615.6 284.4h0M506.4 275.1h0M543.9 262.5h0M499.2 268.2h0M485.8 276.8h0M485.8 276.8h0M485.8 275.0h0M485.8 284.5h0M539.0 249.3h0M504.2 273.8h0M542.6 279.2h0M485.8 261.2h0M497.7 283.7h0M498.8 284.5h0M525.2 224.1h0M489.2 282.5h0M503.2 284.3h0M549.4 278.0h0M492.1 282.5h0M494.5 284.8h0M551.1 280.7h0M540.5 284.6h0M523.3 266.1h0M558.3 277.4h0M488.8 284.4h0M520.3 284.6h0M523.1 270.0h0M579.7 268.4h0M504.2 284.3h0M500.9 255.2h0M492.7 280.0h0M537.5 279.8h0M499.2 277.7h0M539.6 283.8h0M552.5 285.5h0M541.9 236.1h0M507.4 279.7h0M513.0 272.4h0M537.2 283.7h0M504.7 279.0h0M514.7 272.3h0M502.3 282.7h0M485.8 244.3h0M497.1 274.0h0"/>
<path d="M502.9 284.3h0M497.6 284.6h0M529.2 275.8h0M494.7 284.8h0M577.0 243.7h0M550.6 271.1h0M515.1 284.2h0M533.6 277.8h0M572.6 235.8h0M502.6 284.4h0M503.2 277.8h0M575.7 284.3h0M509.1 281.2h0M539.7 284.3h0M515.6 282.4h0M518.0 272.4h0M502.8 270.1h0M501.8 282.8h0M505.1 284.3h0M575.3 284.8h0M538.6 284.2h0M512.3 254.5h0M539.8 273.5h0M517.8 280.7h0M511.8 259.4h0M494.9 278.5h0M533.0 280.4h0M509.9 282.5h0M597.0 280.0h0M540.4 285.3h0M506.6 256.7h0M485.8 280.0h0M504.6 268.5h0M539.6 283.7h0M556.2 273.4h0M525.8 284.7h0M586.2 191.5h0M532.2 281.7h0M564.8 281.5h0M542.8 274.8h0M543.5 222.0h0M714.5 147.7h0M485.8 272.1h0M506.0 283.8h0M489.1 281.9h0M485.8 268.4h0M676.5 140.7h0M525.7 283.0h0M485.8 280.0h0M538.7 284.4h0M532.8 283.8h0M485.8 275.0h0M523.4 283.6h0M529.6 282.9h0M510.5 271.2h0M510.2 271.2h0M512.9 272.1h0M491.6 282.0h0M521.2 276.3h0M489.6 284.2h0M512.9 251.8h0M493.6 278.7h0M511.2 281.5h0M485.8 273.3h0M495.4 268.8h0M601.9 226.8h0M504.4 274.9h0M485.8 282.4h0M496.6 281.4h0M488.9 284.8h0M488.9 282.6h0M506.5 266.5h0M494.3 280.5h0M498.3 280.0h0M513.5 282.2h0M608.1 281.2h0M502.3 283.1h0M558.5 285.3h0M506.9 284.1h0M488.7 285.3h0M657.2 178.3h0"/>
<path d="M514.5 263.2h0M537.8 282.7h0M506.2 281.6h0M485.8 282.5h0M518.2 282.9h0M513.1 274.1h0M485.8 275.9h0M708.9 185.1h0M508.6 284.0h0M518.6 275.6h0M505.8 283.0h0M564.1 252.7h0M549.0 280.2h0M518.5 269.1h0M593.3 285.5h0M509.7 254.9h0M490.6 284.2h0M488.5 284.3h0M526.5 277.2h0M531.2 285.2h0M551.8 266.3h0M542.0 221.9h0M550.8 276.2h0M498.8 279.8h0M507.6 273.1h0M485.8 270.1h0M504.5 282.0h0M538.6 267.2h0M506.6 284.3h0M514.1 266.3h0M498.9 267.1h0M564.4 235.1h0M495.6 275.7h0M509.7 283.9h0M526.4 272.5h0M502.0 266.7h0M531.7 283.5h0M505.4 282.9h0M523.4 283.2h0M507.9 284.1h0M557.6 285.2h0M584.9 196.5h0M518.0 284.3h0M516.2 275.4h0M674.6 218.9h0M511.3 280.1h0M529.7 277.6h0M599.9 257.8h0M524.0 281.8h0M485.8 275.6h0M500.7 265.5h0M518.3 257.5h0M554.9 285.3h0M521.7 282.6h0M547.0 284.2h0M511.1 265.4h0M495.9 277.5h0M508.1 277.8h0M493.5 284.9h0M499.4 283.3h0M495.2 277.4h0M524.8 275.1h0M528.7 283.9h0M536.7 265.7h0M491.3 278.4h0M562.4 285.2h0M623.2 212.8h0M535.0 274.7h0M569.0 273.7h0M725.2 133.7h0M540.0 283.2h0M509.6 276.9h0M507.1 283.6h0M546.7 269.4h0M511.5 280.6h0M529.7 257.1h0M502.7 275.7h0M516.2 246.5h0M504.5 273.3h0M534.6 282.8h0M502.7 275.6h0"/>
<path d="M489.8 284.9h0M543.7 246.5h0M539.8 212.1h0M510.1 284.3h0M496.3 284.7h0M510.2 279.3h0M548.7 283.6h0M504.0 275.1h0M485.8 268.2h0M495.2 279.5h0M508.0 280.1h0M512.1 283.9h0M494.3 275.0h0M522.0 275.5h0M522.2 284.3h0M601.1 239.0h0M507.2 276.7h0M514.2 279.4h0M661.6 284.7h0M589.4 280.6h0M518.4 284.5h0M498.5 282.4h0M597.8 254.8h0M511.6 267.6h0M516.9 277.8h0M505.9 276.9h0M503.2 270.2h0M520.1 284.2h0M539.2 254.1h0M495.0 276.0h0M530.4 282.7h0M514.7 277.9h0M513.0 280.3h0M660.9 186.1h0M489.0 285.3h0M528.8 285.2h0M504.6 283.4h0M524.9 281.6h0M489.7 285.3h0M529.1 281.2h0M665.2 214.0h0M506.0 267.3h0M624.5 234.8h0M551.5 271.4h0M530.2 267.2h0M512.9 264.5h0M535.1 282.8h0M493.8 284.8h0M485.8 282.7h0M545.2 283.1h0M499.9 250.9h0M491.6 285.1h0M485.8 271.5h0M485.8 283.2h0M582.4 284.9h0M493.7 272.6h0M485.8 282.8h0M503.4 284.3h0M495.6 284.8h0M538.5 270.4h0M720.5 95.3h0M488.7 284.7h0M577.8 223.2h0M496.1 280.8h0M555.3 285.6h0M512.8 275.2h0M503.0 254.4h0M495.9 284.8h0M544.7 282.5h0M512.4 282.4h0M485.8 282.2h0M653.3 211.5h0M494.4 252.5h0M510.2 276.8h0M500.3 266.9h0M562.4 276.2h0M485.8 245.1h0M517.0 284.4h0M508.4 283.9h0M499.9 284.4h0M485.8 271.1h0"/>
<path d="M541.2 283.0h0M492.1 273.4h0M494.5 273.9h0M485.8 274.2h0M518.8 284.4h0M495.1 268.1h0M498.1 280.5h0M559.3 257.3h0M526.6 275.8h0M485.8 282.8h0M499.5 266.7h0M510.6 271.3h0M559.3 283.6h0M538.4 285.5h0M567.4 265.2h0M524.4 270.0h0M556.8 257.0h0M559.0 241.6h0M505.0 273.2h0M512.1 265.6h0M619.0 221.7h0M498.0 253.3h0M485.8 278.9h0M512.4 278.7h0M489.1 285.2h0M521.6 280.5h0M494.6 279.1h0M489.7 279.5h0M489.7 284.8h0M496.0 284.3h0M534.9 276.0h0M485.8 274.4h0M507.6 284.2h0M535.1 284.8h0M517.8 283.8h0M498.5 283.1h0M517.1 268.0h0M515.4 283.8h0M505.4 284.3h0M489.1 283.4h0M521.5 284.5h0M485.8 277.4h0M504.9 284.1h0M506.3 268.4h0M492.0 283.4h0M505.5 266.0h0M548.9 285.6h0M495.0 284.8h0M516.3 283.1h0M485.8 269.8h0M512.1 280.6h0M515.6 258.6h0M496.6 284.7h0M502.2 282.3h0M543.5 272.9h0M494.1 283.5h0M500.2 276.1h0M497.9 281.5h0M538.3 252.2h0M542.5 282.2h0M503.2 274.5h0M540.3 280.4h0M494.2 280.8h0M540.4 282.0h0M545.3 260.9h0M501.9 284.4h0M504.7 269.1h0M549.9 284.7h0M508.4 282.9h0M508.7 284.0h0M499.7 281.5h0M496.4 278.3h0M559.7 246.8h0M507.6 282.5h0M506.6 284.0h0M525.6 283.3h0M620.1 285.2h0M488.5 285.1h0M516.0 282.7h0M521.6 279.0h0M494.1 269.9h0"/>
<path d="M514.0 284.3h0M525.0 284.7h0M494.1 276.9h0M516.5 267.6h0M509.4 283.9h0M519.6 270.2h0M553.3 250.3h0M526.6 283.3h0M563.2 258.3h0M493.1 284.9h0M520.4 277.4h0M548.7 284.4h0M535.8 279.5h0M485.8 270.6h0M522.0 278.6h0M528.6 268.4h0M539.3 264.1h0M505.1 274.3h0M485.8 266.7h0M485.8 279.6h0M526.0 277.7h0M495.7 271.7h0M535.4 284.8h0M534.8 280.5h0M501.5 284.5h0M504.8 266.8h0M529.2 285.0h0M537.6 279.8h0M532.1 264.0h0M509.9 278.9h0M541.8 281.7h0M538.5 277.3h0M485.8 277.3h0M528.5 278.2h0M503.4 278.1h0M518.4 284.2h0M494.8 275.8h0M493.5 242.7h0M485.8 285.0h0M505.5 277.0h0M490.1 285.3h0M539.6 280.7h0M529.5 266.6h0M520.3 267.4h0M491.6 284.8h0M485.8 278.2h0M518.4 281.8h0M605.3 276.5h0M559.0 276.1h0M682.5 173.2h0M489.2 285.3h0M492.5 274.5h0M563.1 285.0h0M547.9 274.0h0M488.9 281.5h0M537.9 284.8h0M505.8 277.9h0M508.7 278.8h0M563.6 281.3h0M512.5 284.1h0M717.8 200.4h0M504.3 280.9h0M516.1 278.0h0M557.2 243.2h0M516.8 280.8h0M572.7 285.5h0M485.8 256.8h0M494.5 284.8h0M516.6 284.4h0M500.9 262.7h0M510.4 271.0h0M565.7 285.4h0M521.9 282.2h0M512.5 258.8h0M500.8 272.8h0M508.3 259.3h0M518.2 282.7h0M496.5 263.4h0M514.9 276.8h0M498.3 284.5h0M500.8 272.2h0"/>
<path d="M617.3 284.9h0M552.7 242.8h0M495.0 280.8h0M584.8 263.2h0M526.8 284.1h0M498.5 283.2h0M582.6 234.2h0M491.2 275.2h0M496.0 279.3h0M494.8 276.8h0M532.9 279.0h0M498.6 273.3h0M504.0 284.2h0M489.6 285.3h0M498.7 281.2h0M519.6 278.7h0M500.6 284.2h0M498.9 266.3h0M489.2 283.1h0M542.7 278.3h0M502.2 282.1h0M534.5 282.7h0M526.7 285.0h0M672.6 184.7h0M523.2 276.5h0M498.9 261.6h0M681.5 262.8h0M518.8 281.5h0M504.7 284.1h0M485.8 266.0h0M485.8 280.8h0M485.8 278.1h0M545.2 284.6h0M527.4 272.3h0M485.8 266.5h0M553.6 281.2h0M524.8 275.7h0M510.4 284.3h0M526.0 281.5h0M517.3 283.8h0M518.9 281.4h0M521.2 283.2h0M524.3 278.9h0M549.1 272.3h0M569.6 245.1h0M516.2 276.1h0M511.2 263.3h0M509.0 280.2h0M502.4 283.6h0M527.4 272.8h0M548.8 280.6h0M503.1 276.3h0M494.3 271.0h0M515.8 269.4h0M485.8 267.0h0M530.7 285.0h0M485.8 279.8h0M492.8 282.1h0M556.8 265.8h0M519.5 260.9h0M500.4 280.6h0M596.9 195.1h0M485.8 261.7h0M523.8 278.9h0M500.5 266.7h0M508.4 284.3h0M510.1 274.4h0M524.6 284.3h0M547.0 228.6h0M485.8 257.0h0M490.3 276.1h0M521.4 280.9h0M522.1 273.8h0M500.6 271.6h0M501.3 270.3h0M562.1 285.2h0M504.0 279.2h0M544.2 256.6h0M603.6 195.3h0M578.5 284.2h0M546.5 285.5h0"/>
<path d="M485.8 279.0h0M520.4 284.0h0M521.8 277.6h0M491.9 283.9h0M537.8 228.0h0M499.8 271.4h0M498.7 270.8h0M514.9 284.3h0M520.1 282.4h0M508.0 284.3h0M522.3 258.3h0M495.0 284.8h0M490.8 276.6h0M517.5 275.8h0M515.5 284.4h0M538.7 285.5h0M498.9 280.0h0M577.9 284.9h0M515.9 268.6h0M512.3 276.4h0M518.5 274.0h0M505.3 284.3h0M488.7 283.9h0M488.6 285.3h0M489.3 285.3h0M509.4 275.6h0M621.7 252.6h0M562.6 251.9h0M503.8 280.8h0M485.8 280.3h0M516.5 284.4h0M525.7 284.4h0M485.8 280.0h0M512.5 274.1h0M485.8 285.1h0M539.3 283.7h0M485.8 278.9h0M582.1 284.2h0M500.5 259.1h0M499.2 278.7h0M502.7 246.5h0M495.6 276.1h0M512.4 280.0h0M505.9 273.5h0M521.1 280.9h0M488.5 285.0h0M489.3 282.0h0M542.9 284.7h0M502.3 273.3h0M581.7 197.2h0M541.0 284.9h0M501.3 272.1h0M566.1 283.0h0M490.1 284.5h0M517.3 268.4h0M515.8 277.1h0M540.1 285.1h0M518.8 277.7h0M530.8 284.5h0M524.2 254.7h0M509.6 274.0h0M579.3 282.8h0M597.7 284.5h0M489.1 282.2h0M502.7 284.1h0M543.3 283.7h0M522.3 279.9h0M552.8 284.2h0M504.8 282.6h0M560.2 279.4h0M508.8 274.8h0M546.5 285.2h0M489.0 281.5h0M554.8 247.8h0M532.7 277.3h0M494.0 280.2h0M501.2 269.5h0M506.9 281.4h0M537.4 276.4h0M504.9 284.4h0M528.5 256.4h0"/>
<path d="M515.6 267.5h0M551.6 265.3h0M538.1 283.4h0M518.4 283.8h0M520.0 283.1h0M501.8 284.5h0M539.3 285.4h0M511.2 279.3h0M499.5 284.6h0M513.8 275.1h0M512.5 284.3h0M551.1 277.3h0M502.5 271.7h0M499.7 279.7h0M519.5 270.6h0M552.4 202.9h0M503.0 284.3h0M485.8 264.6h0M493.5 285.0h0M513.9 280.8h0M501.1 280.2h0M485.8 281.0h0M489.8 279.0h0M485.8 278.9h0M511.9 275.4h0M549.9 281.5h0M523.2 284.7h0M494.4 270.5h0M560.9 213.5h0M530.0 284.0h0M517.5 280.8h0M494.2 282.3h0M499.7 275.5h0M519.6 275.7h0M509.8 270.7h0M564.0 238.1h0M569.9 248.3h0M559.2 283.5h0M510.3 264.9h0M509.5 274.1h0M530.8 279.6h0M523.1 283.7h0M510.0 280.2h0M536.8 248.9h0M488.7 283.4h0M485.8 284.8h0M583.5 285.5h0M510.9 284.2h0M489.0 281.4h0M488.5 282.5h0M517.1 283.5h0M494.3 272.0h0M516.7 283.3h0M512.5 282.1h0M553.5 243.0h0M496.5 266.0h0M495.6 284.8h0M485.8 276.0h0M493.9 279.7h0M515.6 276.5h0M496.7 284.6h0M509.8 245.3h0M532.4 280.2h0M528.0 280.5h0M500.9 284.4h0M497.8 274.0h0M517.8 284.0h0M499.5 271.5h0M517.4 280.4h0M504.8 281.4h0M506.0 276.6h0M526.9 279.3h0M485.8 274.3h0M514.1 278.7h0M492.7 273.4h0M489.1 279.7h0M516.6 249.7h0M541.8 276.7h0M485.8 282.4h0M489.8 284.4h0M508.9 284.3h0"/>
<path d="M561.8 284.9h0M588.8 230.0h0M605.0 202.3h0M555.2 279.3h0M485.8 274.0h0M489.8 281.8h0M589.6 284.8h0M660.6 280.8h0M512.6 258.7h0M502.3 269.1h0M543.0 272.1h0M496.5 277.4h0M518.4 275.0h0M485.8 262.0h0M511.8 280.5h0M503.7 284.4h0M506.5 271.9h0M529.7 284.2h0M495.5 271.5h0M494.3 280.0h0M534.7 281.1h0M485.8 276.0h0M520.4 275.5h0M603.9 221.9h0M511.1 281.8h0M496.4 284.6h0M529.8 251.9h0M647.3 137.0h0M496.2 277.9h0M502.7 270.8h0M496.1 279.4h0M532.6 281.4h0M521.0 284.6h0M530.5 283.7h0M504.3 268.6h0M485.8 271.2h0M488.7 285.4h0M510.7 283.3h0M505.6 275.0h0M532.5 284.9h0M512.2 269.6h0M502.0 267.3h0M541.7 276.5h0M668.6 216.1h0M519.2 273.0h0M532.8 278.2h0M488.8 282.9h0M501.9 273.7h0M505.7 284.3h0M489.9 277.9h0M489.6 285.3h0M506.6 274.3h0M518.6 284.2h0M504.6 277.2h0M485.8 280.2h0M485.8 282.6h0M485.8 279.9h0M485.8 276.1h0M547.4 279.3h0M570.7 284.8h0M528.5 283.4h0M528.9 258.5h0M540.5 268.7h0M531.1 280.3h0M518.5 270.8h0M527.1 274.2h0M508.2 267.5h0M520.9 284.1h0M497.9 271.0h0M551.6 262.9h0M526.0 280.0h0M502.6 282.2h0M485.8 278.9h0M485.8 277.5h0M491.1 281.2h0M561.9 274.5h0M508.0 283.0h0M514.7 272.6h0M556.4 284.9h0M636.9 198.8h0M530.7 279.6h0"/>
<path d="M690.5 285.3h0M495.0 276.1h0M485.8 285.2h0M535.9 283.2h0M488.5 284.6h0M500.2 283.6h0M573.3 281.1h0M490.9 271.1h0M516.3 276.1h0M522.8 278.5h0M514.0 268.8h0M497.9 283.5h0M491.2 283.3h0M506.9 271.0h0M540.2 285.4h0M505.0 282.2h0M640.0 275.7h0M516.4 271.8h0M548.5 251.6h0M495.8 281.6h0M497.8 280.6h0M485.8 285.1h0M500.9 279.2h0M505.3 267.7h0M513.8 275.9h0M560.8 285.1h0M562.6 277.7h0M492.2 279.8h0M661.4 284.6h0M512.0 284.1h0M571.9 275.0h0M489.1 280.8h0M530.7 280.3h0M543.1 284.8h0M492.3 267.7h0M538.7 281.1h0M519.3 284.3h0M533.9 274.5h0M628.5 270.8h0M514.6 280.5h0M504.1 270.3h0M516.6 284.4h0M485.8 285.4h0M507.8 267.4h0M493.7 284.9h0M489.7 285.1h0M506.6 274.0h0M548.7 262.1h0M528.6 270.2h0M578.9 284.8h0M613.5 261.0h0M534.1 281.5h0M532.4 282.3h0M488.7 283.5h0M504.3 262.9h0M527.8 280.3h0M499.9 270.2h0M493.7 278.1h0M502.1 260.6h0M496.2 284.8h0M508.7 280.1h0M497.0 261.2h0M510.8 284.1h0M500.6 284.4h0M496.0 276.1h0M521.2 275.2h0M485.8 270.1h0M518.6 284.4h0M544.0 233.7h0M518.3 284.4h0M497.3 271.3h0M518.6 278.5h0M526.4 269.6h0M511.4 276.8h0M493.4 272.4h0M493.7 274.1h0M509.9 270.9h0M492.7 275.0h0M485.8 272.6h0M522.4 284.3h0M492.9 275.4h0"/>
<path d="M502.8 269.0h0M492.2 285.0h0M527.2 253.8h0M648.7 257.2h0M505.1 274.9h0M496.7 268.1h0M502.1 284.2h0M522.4 266.0h0M489.5 281.4h0M526.4 266.3h0M547.5 280.4h0M554.8 276.9h0M513.7 275.1h0M501.5 283.7h0M496.7 278.6h0M512.3 244.4h0M532.4 283.4h0M488.7 285.4h0M501.1 274.4h0M523.4 277.6h0M488.8 283.8h0M490.3 280.4h0M499.9 274.0h0M494.9 284.8h0M501.4 272.8h0M528.7 267.0h0M494.6 284.7h0M525.1 281.3h0M485.8 257.6h0M507.5 283.3h0M493.4 280.6h0M688.6 211.0h0M490.5 278.1h0M511.8 262.2h0M485.8 284.8h0M631.4 229.0h0M555.0 280.8h0M509.4 269.4h0M508.1 279.7h0M521.2 277.5h0M501.3 284.1h0M503.9 268.0h0M525.5 272.9h0M548.0 281.8h0M530.1 285.2h0M499.0 271.0h0M555.7 260.2h0M496.4 272.7h0M512.6 283.5h0M506.8 274.8h0M536.4 275.3h0M578.8 218.1h0M497.9 264.9h0M524.8 280.6h0M548.1 284.5h0M524.1 284.6h0M524.0 278.2h0M485.8 276.6h0M506.8 276.4h0M515.5 281.7h0M600.9 258.0h0M605.0 285.5h0M522.3 283.9h0M512.9 268.2h0M500.9 284.0h0M497.2 275.7h0M578.8 283.6h0M485.8 245.0h0M497.5 262.8h0M503.3 276.7h0M582.5 244.9h0M521.9 284.1h0M541.0 285.0h0M534.9 277.9h0M522.9 283.1h0M534.4 265.9h0M554.0 282.3h0M596.9 226.1h0M513.9 280.8h0M488.6 285.0h0M512.5 284.0h0"/>
<path d="M545.6 279.1h0M491.0 276.4h0M520.4 268.9h0M540.2 237.9h0M527.2 284.7h0M503.3 283.5h0M502.8 272.5h0M499.6 265.1h0M540.1 273.5h0M512.2 275.8h0M499.1 271.7h0M589.9 214.5h0M506.1 273.5h0M511.0 274.5h0M496.2 284.0h0M489.4 284.6h0M485.8 280.7h0M489.5 281.0h0M546.8 284.6h0M511.6 283.7h0M496.7 276.1h0M498.6 278.4h0M583.6 284.6h0M523.8 278.1h0M502.7 280.5h0M517.2 284.1h0M504.4 270.9h0M503.7 284.3h0M553.1 284.8h0M542.9 276.3h0M498.3 271.1h0M530.1 285.0h0M491.5 283.3h0M485.8 284.5h0M678.7 284.5h0M502.6 273.5h0M485.8 269.3h0M490.3 284.8h0M485.8 278.1h0M521.3 282.1h0M529.5 283.8h0M525.3 270.5h0M505.7 282.3h0M501.3 279.2h0M594.6 284.6h0M485.8 285.3h0M504.1 284.3h0M516.0 279.1h0M565.8 228.0h0M514.8 278.5h0M515.7 270.9h0M499.6 270.4h0M485.8 274.5h0M631.4 284.7h0M515.3 274.4h0M584.0 279.5h0M532.4 270.7h0M508.3 268.2h0M524.9 274.1h0M504.6 272.3h0M500.2 276.2h0M526.1 283.5h0M702.8 53.2h0M513.0 262.9h0M522.9 272.9h0M490.0 283.0h0M485.8 281.6h0M509.6 277.6h0M496.0 276.1h0M522.6 284.4h0M498.2 282.8h0M490.4 285.2h0M603.5 212.9h0M536.3 284.2h0M506.0 284.3h0M517.6 284.4h0M547.2 281.4h0M522.6 263.4h0M501.9 267.0h0M545.4 285.3h0M512.1 279.2h0"/>
<path d="M527.0 275.3h0M514.1 283.8h0M518.7 275.5h0M565.5 257.2h0M485.8 280.1h0M512.7 282.8h0M589.2 273.5h0M491.4 285.2h0M534.5 281.4h0M505.3 273.8h0M500.4 280.8h0M641.4 203.9h0M506.6 281.1h0M526.6 284.9h0M512.1 260.5h0M497.8 282.3h0M502.2 265.7h0M541.4 285.2h0M496.7 276.3h0M493.5 284.9h0M485.8 274.6h0M498.0 284.7h0M537.0 281.4h0M510.0 281.3h0M494.6 259.4h0M544.2 268.4h0M516.5 282.4h0M504.8 274.4h0M498.0 265.1h0M542.0 272.0h0M531.5 283.8h0M501.1 283.2h0M515.0 273.4h0M500.7 284.0h0M514.1 284.0h0M510.1 275.5h0M563.1 284.9h0M515.8 270.5h0M539.6 282.2h0M493.0 269.5h0M583.8 169.3h0M513.1 266.0h0M737.4 199.0h0M575.2 276.4h0M673.9 285.3h0M541.2 245.6h0M535.2 275.6h0M525.2 282.6h0M485.8 278.0h0M485.8 260.9h0M507.6 277.7h0M533.5 284.3h0M490.7 284.5h0M515.4 279.7h0M514.0 274.3h0M524.7 274.8h0M551.5 245.1h0M560.4 285.3h0M488.5 285.3h0M493.0 284.9h0M543.1 284.0h0M497.9 278.0h0M494.7 254.2h0M490.9 276.8h0M488.7 284.4h0M533.8 278.4h0M490.6 267.6h0M529.8 285.1h0M557.4 249.0h0M520.3 280.5h0M511.2 276.4h0M496.9 272.2h0M551.2 265.5h0M495.3 282.0h0M544.4 253.5h0M634.4 285.1h0M514.8 273.7h0M485.8 281.3h0M485.8 280.7h0M595.7 213.4h0M488.8 285.0h0"/>
<path d="M532.7 158.2h0M496.4 282.2h0M512.3 267.6h0M499.7 272.7h0M508.9 268.3h0M525.5 278.7h0M690.1 205.2h0M551.3 277.1h0M485.8 281.1h0M502.8 257.9h0M524.7 251.7h0M528.4 268.6h0M500.2 282.5h0M524.0 282.2h0M544.4 270.7h0M496.9 268.5h0M504.1 284.3h0M507.8 271.0h0M564.7 253.5h0M512.1 276.8h0M485.8 273.7h0M535.6 282.0h0M516.1 280.5h0M517.0 279.3h0M552.3 281.0h0M560.3 282.9h0M515.6 284.3h0M545.5 280.0h0M485.8 285.5h0M555.2 278.0h0M534.6 278.1h0M690.1 283.4h0M485.8 271.7h0M527.5 272.2h0M525.8 279.0h0M489.7 285.3h0M494.5 279.7h0M509.3 283.9h0M502.3 271.0h0M509.2 277.7h0M497.5 276.5h0M500.5 269.5h0M503.8 284.4h0M510.6 284.3h0M528.7 264.4h0M511.5 277.7h0M515.3 269.3h0M491.7 283.7h0M511.2 281.4h0M601.7 200.9h0M489.1 280.8h0M496.2 282.1h0M497.2 278.5h0M584.4 233.5h0M539.3 269.3h0M508.2 283.3h0M528.4 283.1h0M502.6 259.3h0M535.6 274.9h0M485.8 278.0h0M574.5 252.9h0M514.3 271.6h0M503.5 271.7h0M504.8 277.8h0M558.7 262.6h0M519.7 282.6h0M544.0 284.4h0M501.2 276.5h0M530.2 284.7h0M493.4 277.0h0M536.2 282.7h0M558.4 284.5h0M513.0 265.4h0M606.5 284.9h0M512.8 277.0h0M504.7 281.4h0M556.4 249.8h0M527.6 285.1h0M513.5 284.1h0M584.5 283.2h0M549.6 277.5h0"/>
<path d="M485.8 268.5h0M504.6 270.7h0M670.5 225.9h0M579.0 284.3h0M513.7 284.0h0M493.1 279.3h0M526.9 279.4h0M556.1 283.3h0M485.8 252.8h0M536.3 284.7h0M517.8 278.6h0M540.0 284.4h0M534.8 274.7h0M545.1 277.3h0M529.1 278.4h0M493.0 279.4h0M500.5 273.7h0M530.3 207.3h0M493.5 276.0h0M499.9 276.4h0M514.6 284.1h0M485.8 279.0h0M510.8 271.9h0M491.5 274.1h0M508.7 274.5h0M540.8 285.0h0M544.1 285.3h0M584.8 284.8h0M495.7 266.5h0M504.9 284.3h0M533.3 272.7h0M485.8 282.1h0M512.6 284.3h0M501.2 278.1h0M593.5 281.9h0M574.1 247.5h0M532.2 283.7h0M533.7 285.2h0M496.5 277.5h0M516.5 263.6h0M521.4 283.0h0M542.7 279.4h0M497.7 274.1h0M534.0 278.3h0M520.2 284.3h0M530.3 282.0h0M523.3 284.8h0M536.2 284.8h0M575.9 277.0h0M581.3 113.7h0M492.1 273.4h0M535.6 275.5h0M576.1 284.7h0M485.8 276.9h0M495.8 271.8h0M509.0 282.3h0M508.5 280.5h0M542.1 281.7h0M540.6 283.3h0M531.1 281.0h0M513.0 277.5h0M532.1 268.1h0M485.8 275.9h0M519.8 282.9h0M496.6 284.7h0M532.1 274.5h0M499.5 279.0h0M500.4 279.0h0M494.5 278.8h0M527.3 283.8h0M508.0 279.8h0M491.7 281.8h0M529.2 280.2h0M485.8 277.9h0M529.7 282.4h0M538.9 272.8h0M528.9 273.9h0M490.2 280.3h0M539.4 240.1h0M505.7 271.6h0M507.9 273.2h0"/>
<path d="M703.8 195.6h0M503.5 276.8h0M705.5 208.9h0M603.3 284.1h0M500.6 280.8h0M543.2 284.7h0M520.5 276.2h0M485.8 285.2h0M518.7 257.3h0M495.6 272.7h0M558.2 278.9h0M489.6 285.1h0M574.3 276.9h0M504.9 267.9h0M485.8 283.1h0M537.4 278.6h0M688.4 179.1h0M499.9 284.3h0M517.0 279.3h0M490.9 285.1h0M501.6 274.0h0M485.8 281.8h0M491.8 264.0h0M485.8 269.2h0M550.7 278.9h0M527.8 284.9h0M510.5 284.0h0M485.8 285.2h0M492.6 285.0h0M491.9 280.7h0M510.6 266.4h0M491.8 279.4h0M509.6 262.5h0M495.1 273.4h0M505.1 267.4h0M532.8 252.5h0M500.3 284.5h0M497.1 261.7h0M485.8 281.1h0M485.8 280.0h0M497.3 271.0h0M485.8 282.7h0M537.6 273.6h0M521.5 276.8h0M494.6 283.3h0M560.3 276.5h0M508.5 273.5h0M502.1 262.9h0M490.0 284.4h0M538.8 244.5h0M504.2 284.3h0M561.3 284.1h0M551.6 285.0h0M531.6 211.9h0M582.7 264.7h0M513.8 237.5h0M544.8 277.9h0M515.7 284.3h0M515.4 279.0h0M572.0 259.3h0M490.0 279.3h0M509.4 257.7h0M620.4 279.2h0M505.9 282.7h0M549.8 280.0h0M503.1 276.8h0M570.5 282.5h0M537.3 285.3h0M518.4 254.9h0M553.2 284.2h0M516.6 278.1h0M492.6 284.4h0M517.5 282.6h0M495.1 270.7h0M514.1 260.2h0M746.7 118.3h0M537.9 284.6h0M532.4 273.6h0M503.5 267.6h0M516.9 273.0h0M583.0 243.2h0"/>
<path d="M623.1 212.8h0M528.6 280.4h0M490.9 285.0h0M558.2 256.1h0M525.6 268.9h0M501.3 284.4h0M485.8 279.8h0M554.3 248.7h0M515.6 280.6h0M536.8 282.6h0M519.8 283.6h0M491.4 280.5h0M628.4 107.7h0M501.2 277.9h0M635.8 161.7h0M510.6 284.2h0M502.9 278.0h0M518.7 276.2h0M510.3 275.4h0M503.9 272.7h0M523.7 269.4h0M558.1 285.5h0M508.5 276.1h0M506.0 284.4h0M495.6 284.8h0M501.1 279.5h0M485.8 278.7h0M557.6 259.2h0M543.2 224.9h0M534.8 280.1h0M531.4 284.4h0M672.8 186.8h0M494.4 282.3h0M545.4 267.3h0M485.8 282.6h0M502.4 272.0h0M549.6 285.0h0M522.5 284.5h0M573.0 277.0h0M554.1 275.0h0M517.9 278.9h0M530.3 268.2h0M485.8 275.1h0M497.3 273.8h0M579.3 256.7h0M513.0 284.1h0M550.6 239.5h0M492.6 284.7h0M588.3 260.2h0M485.8 267.9h0M489.1 276.4h0M511.5 284.3h0M496.6 284.7h0M514.5 264.5h0M494.7 284.3h0M485.8 254.2h0M534.8 279.7h0M501.0 275.1h0M530.9 277.4h0M528.3 271.7h0M502.6 278.5h0M611.4 188.1h0M504.2 284.3h0M550.0 284.5h0M509.1 279.2h0M502.3 273.1h0M485.8 281.7h0M505.7 274.1h0M488.5 285.4h0M556.3 284.8h0M516.8 280.9h0M521.3 278.6h0M492.3 273.4h0M542.3 283.9h0M521.5 282.9h0M529.1 283.0h0M495.1 274.2h0M503.6 275.6h0M485.8 285.0h0M485.8 267.3h0M507.6 280.7h0"/>
<path d="M485.8 285.1h0M491.4 276.9h0M499.4 269.3h0M509.3 272.5h0M515.6 270.3h0M542.7 281.2h0M502.5 266.7h0M528.9 283.1h0M515.8 257.9h0M505.8 269.0h0M524.7 278.3h0M536.4 275.9h0M511.1 273.9h0M519.3 283.2h0M581.7 274.5h0M540.2 269.6h0M494.1 281.2h0M554.7 280.9h0M513.0 281.0h0M510.2 276.6h0M522.6 284.3h0M485.8 278.6h0M528.8 205.4h0M578.6 235.1h0M512.3 278.1h0M511.4 272.7h0M529.5 190.1h0M526.8 285.1h0M533.9 281.9h0M495.2 281.7h0M496.0 268.1h0M485.8 278.5h0M523.8 265.9h0M498.0 283.8h0M497.7 272.5h0M662.7 116.5h0M489.5 285.3h0M515.1 274.5h0M547.0 242.9h0M496.6 274.3h0M577.4 276.5h0M517.9 258.4h0M521.7 263.7h0M502.0 280.6h0M535.3 280.8h0M510.6 271.2h0M530.0 269.7h0M491.9 274.4h0M556.4 280.0h0M489.1 284.1h0M536.0 283.8h0M549.3 284.3h0M495.0 271.8h0M577.1 283.7h0M511.3 279.0h0M489.5 278.9h0M495.4 284.8h0M502.0 271.6h0M523.5 284.1h0M548.8 269.9h0M542.9 264.1h0M494.3 280.2h0M493.4 274.6h0M510.8 274.1h0M567.1 239.3h0M648.3 147.3h0M539.5 259.0h0M498.3 271.0h0M502.6 271.7h0M492.8 270.0h0M513.8 272.9h0M556.9 239.0h0M498.5 282.1h0M522.9 270.5h0M527.3 251.1h0M507.5 276.1h0M541.2 274.5h0M508.3 283.4h0M550.3 279.5h0M678.7 144.4h0M530.1 278.6h0"/>
<path d="M517.3 265.4h0M526.4 284.4h0M485.8 276.0h0M488.5 282.0h0M491.4 278.2h0M531.4 282.7h0M498.3 274.9h0M556.1 192.5h0M575.5 285.1h0M511.2 272.7h0M584.1 279.2h0M523.4 279.3h0M530.7 281.0h0M524.2 275.9h0M551.6 242.8h0M485.8 248.7h0M600.4 243.7h0M485.8 285.5h0M489.9 282.7h0M509.2 268.5h0M518.1 282.7h0M519.0 275.8h0M490.2 285.3h0M492.5 276.9h0M541.2 267.9h0M545.0 282.4h0M485.8 284.0h0M533.0 285.1h0M485.8 276.4h0M485.8 279.9h0M731.8 285.3h0M485.8 247.1h0M493.5 284.9h0M551.2 265.7h0M499.0 284.5h0M523.8 248.6h0M613.0 285.2h0M564.6 258.6h0M545.1 278.7h0M516.6 263.7h0M499.9 271.3h0M729.5 219.4h0M495.3 268.7h0M538.7 281.1h0M548.6 237.4h0M490.5 285.1h0M506.0 279.2h0M633.8 245.2h0M490.7 281.2h0M599.1 284.9h0M494.0 284.9h0M506.3 284.3h0M485.8 258.7h0M523.4 281.9h0M530.5 285.3h0M532.6 285.0h0M485.8 278.1h0M511.6 283.3h0M495.9 279.8h0M505.2 268.2h0M500.5 284.4h0M509.4 284.3h0M497.7 278.5h0M497.1 276.0h0M501.9 278.2h0M527.3 283.9h0M499.5 281.0h0M490.8 281.9h0M638.5 273.3h0M523.8 284.0h0M559.6 257.2h0M500.2 254.6h0M577.7 248.0h0M501.9 269.1h0M488.6 285.4h0M503.8 283.7h0M573.1 225.7h0M495.6 269.4h0M557.2 260.9h0M488.6 285.4h0M508.7 275.2h0"/>
<path d="M532.2 284.1h0M554.8 263.2h0M494.9 284.9h0M715.2 285.3h0M520.4 277.8h0M526.3 277.9h0M485.8 253.5h0M514.6 268.0h0M540.2 283.2h0M485.8 285.3h0M485.8 277.6h0M673.2 277.0h0M485.8 248.8h0M528.2 283.0h0M595.1 250.8h0M533.4 279.2h0M495.8 284.8h0M485.8 260.3h0M626.4 155.1h0M485.8 285.2h0M485.8 278.5h0M520.0 278.7h0M485.8 275.4h0M492.7 276.6h0M515.3 254.2h0M516.3 281.6h0M600.0 203.2h0M523.8 281.3h0M694.5 275.7h0M497.9 267.8h0M557.6 228.9h0M506.6 273.0h0M539.0 278.1h0M539.7 244.4h0M511.8 283.6h0M565.0 282.7h0M556.9 283.5h0M502.7 267.4h0M485.8 267.4h0M516.9 278.2h0M520.7 270.5h0M557.0 245.2h0M612.1 177.0h0M510.0 283.6h0M505.0 274.7h0M548.2 284.9h0M491.2 276.5h0M511.1 278.2h0M508.3 270.8h0M506.1 284.4h0M485.8 262.4h0M519.5 284.1h0M496.6 270.4h0M516.8 284.0h0M526.7 255.3h0M546.1 284.8h0M485.8 279.3h0M485.8 285.4h0M503.6 270.2h0M551.3 243.8h0M522.2 284.3h0M535.2 279.8h0M494.8 284.8h0M502.3 276.3h0M521.1 278.7h0M497.0 281.7h0M521.6 276.5h0M485.8 254.2h0M505.6 257.4h0M521.4 269.9h0M498.2 272.3h0M531.7 275.9h0M519.8 271.8h0M704.5 279.3h0M493.2 281.5h0M608.4 232.5h0M494.7 276.0h0M519.0 251.4h0M485.8 261.2h0M548.0 273.3h0M541.1 283.4h0"/>
<path d="M514.0 284.4h0M488.7 279.7h0M532.1 273.1h0M492.6 280.7h0M498.3 277.7h0M489.4 277.4h0M489.7 280.0h0M493.0 266.3h0M503.0 284.4h0M557.9 285.0h0M508.4 284.2h0M500.6 273.8h0M485.8 283.1h0M546.2 256.4h0M541.8 216.3h0M485.8 272.4h0M510.8 272.2h0M499.9 256.6h0M506.8 268.2h0M525.0 282.1h0M697.0 205.0h0M523.8 284.5h0M530.9 267.9h0M492.4 285.0h0M499.3 284.6h0M561.6 280.4h0M535.2 280.8h0M490.9 279.8h0M511.9 272.2h0M495.4 284.6h0M531.3 279.0h0M526.6 283.0h0M554.3 280.5h0M573.9 283.4h0M531.8 271.6h0M501.4 276.1h0M536.5 285.5h0M488.6 285.1h0M509.5 270.9h0M500.1 284.4h0M528.0 273.2h0M574.4 235.2h0M493.0 281.7h0M524.8 282.0h0M533.4 281.8h0M485.8 276.6h0M507.4 282.9h0M513.6 284.3h0M485.8 280.2h0M489.1 283.2h0M621.1 264.3h0M514.4 282.1h0M746.3 65.1h0M488.9 285.4h0M495.5 271.0h0M504.4 284.4h0M500.5 283.7h0M491.8 285.1h0M498.0 278.3h0M573.9 269.3h0M501.5 279.9h0M500.7 280.1h0M584.9 285.2h0M485.8 281.1h0M506.8 275.9h0M508.1 284.3h0M501.5 269.9h0M602.0 208.9h0M531.1 272.7h0M646.9 217.0h0M494.7 280.3h0M710.3 234.2h0M500.6 284.4h0M539.9 257.1h0M485.8 274.8h0M536.0 280.9h0M532.2 277.0h0M485.8 272.0h0M519.5 282.0h0M489.9 284.6h0M535.0 284.4h0"/>
<path d="M493.9 280.8h0M488.5 285.4h0M497.4 272.2h0M538.0 283.1h0M511.7 271.2h0M511.0 264.0h0M502.1 284.4h0M489.5 284.6h0M515.3 282.9h0M543.3 271.0h0M530.9 284.3h0M507.2 284.1h0M485.8 264.8h0M501.8 284.4h0M493.0 272.7h0M531.2 283.8h0M492.0 276.2h0M516.8 284.3h0M504.3 281.6h0M496.5 253.4h0M500.6 281.2h0M496.2 284.7h0M536.9 283.0h0M661.9 86.1h0M538.6 262.0h0M518.5 272.5h0M488.8 284.5h0M494.0 268.0h0M512.2 277.5h0M485.8 267.4h0M495.8 270.6h0M564.9 248.1h0M490.2 280.1h0M570.0 284.6h0M520.8 257.7h0M510.8 284.3h0M520.7 273.3h0M495.7 276.9h0M501.5 268.7h0M548.9 257.8h0M505.4 283.4h0M538.7 285.6h0M492.3 274.3h0M500.6 275.3h0M552.6 282.0h0M543.1 274.5h0M485.8 274.8h0M560.0 271.9h0M532.7 285.4h0M579.0 161.8h0M551.4 283.2h0M496.0 269.9h0M542.9 278.1h0M578.7 264.0h0M747.3 283.5h0M566.2 260.7h0M517.2 260.7h0M546.9 267.5h0M588.3 282.2h0M577.1 261.2h0M524.7 280.1h0M505.6 282.0h0M491.3 277.4h0M532.3 285.6h0M498.7 274.1h0M540.6 254.8h0M538.1 269.6h0M485.8 280.0h0M609.2 283.5h0M491.1 283.9h0M485.8 270.0h0M500.0 284.3h0M511.7 283.1h0M566.3 281.8h0M528.8 280.5h0M517.8 277.5h0M488.8 284.5h0M489.7 282.9h0M537.4 273.4h0M485.8 285.4h0M566.2 232.3h0"/>
</g>
<g fill="none" stroke="#000" stroke-opacity="0.28" stroke-width="3.0" stroke-linecap="round">
<path d="M496.8 566.5h0M488.8 525.0h0M507.2 571.9h0M540.0 583.2h0M496.9 579.2h0M488.7 563.0h0M490.1 573.6h0M496.4 523.1h0M544.1 560.4h0M534.4 585.0h0M490.1 538.5h0M492.1 581.0h0M517.9 548.8h0M510.7 579.1h0M516.6 535.0h0M504.3 566.6h0M506.1 437.3h0M582.7 580.7h0M488.9 550.7h0M540.2 548.2h0M514.1 574.6h0M494.7 543.7h0M488.8 569.5h0M547.2 564.8h0M530.6 583.2h0M509.4 555.2h0M498.3 575.1h0M506.4 577.3h0M551.7 560.7h0M529.8 584.4h0M493.6 532.9h0M492.6 555.3h0M567.8 584.7h0M504.6 580.0h0M501.7 529.6h0M531.9 581.8h0M543.6 584.9h0M501.6 531.4h0M534.9 578.2h0M488.6 568.4h0M493.1 538.6h0M491.6 564.3h0M516.6 574.7h0M574.8 581.0h0M504.8 568.6h0M488.5 551.8h0M710.4 565.6h0M504.3 565.8h0M504.9 581.4h0M661.4 584.9h0M544.7 576.9h0M493.0 553.3h0M530.5 569.3h0M501.4 581.9h0M491.1 580.5h0M572.1 565.0h0M490.0 545.9h0M517.9 576.2h0M500.3 552.3h0M545.4 572.2h0M521.6 549.4h0M493.7 538.5h0M557.5 564.6h0M503.4 575.9h0M628.5 580.8h0M494.7 563.4h0M517.2 551.2h0M506.4 582.4h0M488.5 564.0h0M492.8 449.8h0M513.5 581.4h0M490.8 531.9h0M515.1 580.3h0M496.0 561.7h0M491.9 572.6h0M716.9 584.3h0M489.1 580.7h0M489.3 551.9h0M503.1 575.8h0M566.7 585.0h0M495.6 560.4h0M497.5 556.5h0M491.9 543.8h0M538.7 584.2h0M537.6 575.4h0M546.2 577.9h0M542.3 583.8h0M494.9 574.1h0M498.2 536.0h0M489.7 537.9h0M488.7 544.3h0M492.1 486.8h0M648.9 542.2h0M521.8 583.4h0M494.4 572.5h0M528.3 571.2h0M629.0 585.1h0M545.7 584.5h0M495.2 576.6h0M492.6 556.8h0M534.9 578.6h0M493.0 573.1h0M490.5 576.7h0M491.8 580.8h0M494.6 557.9h0M492.9 547.4h0M507.8 556.1h0M733.6 584.3h0M506.0 564.9h0M491.0 580.9h0M506.7 567.9h0M521.8 550.2h0M511.8 572.4h0M505.1 559.4h0M515.6 583.4h0M510.6 572.0h0"/>
<path d="M516.8 583.5h0M489.1 567.9h0M506.1 582.5h0M496.9 573.1h0M547.3 584.7h0M492.4 574.1h0M489.0 561.8h0M498.9 512.7h0M535.6 576.6h0M499.0 557.9h0M505.5 573.4h0M492.4 563.5h0M489.1 522.4h0M527.2 582.3h0M519.0 572.5h0M513.6 580.7h0M490.8 580.8h0M518.3 583.7h0M500.7 559.6h0M529.5 582.7h0M525.6 567.3h0M510.8 582.7h0M494.7 560.2h0M489.3 538.4h0M489.2 533.5h0M512.6 563.0h0M537.8 582.8h0M502.1 579.9h0M488.6 554.9h0M493.0 545.7h0M623.8 584.9h0M543.7 556.6h0M503.0 562.1h0M541.2 584.7h0M492.2 566.2h0M491.0 579.0h0M497.7 514.8h0M631.4 584.9h0M489.0 573.1h0M525.7 578.0h0M504.7 517.7h0M514.8 572.5h0M494.9 560.8h0M492.6 523.2h0M497.6 561.9h0M518.5 579.6h0M510.6 582.9h0M503.4 566.3h0M514.0 567.8h0M494.9 581.2h0M526.3 557.6h0M615.7 526.2h0M491.6 569.1h0M578.9 584.8h0M509.8 582.4h0M496.9 580.2h0M501.8 581.9h0M488.5 563.4h0M491.4 577.5h0M491.9 572.1h0M489.1 580.6h0M512.9 582.5h0M492.2 506.1h0M493.1 568.0h0M527.3 582.9h0M555.2 581.3h0M538.4 584.9h0M516.5 554.3h0M489.8 524.4h0M529.0 569.7h0M506.5 576.0h0M501.2 543.2h0M562.8 576.4h0M497.4 507.0h0M510.3 566.5h0M516.9 572.6h0M490.3 548.4h0M488.7 557.2h0M496.0 572.5h0M506.3 577.1h0M489.9 498.7h0M545.3 575.4h0M558.2 581.2h0M488.6 557.5h0M519.8 563.9h0M490.2 547.6h0M492.9 540.6h0M513.7 577.3h0M516.8 581.0h0M488.5 544.7h0M565.8 554.9h0M526.4 583.9h0M494.1 549.5h0M536.5 584.7h0M500.9 564.3h0M519.3 583.7h0M515.5 583.4h0M556.4 563.8h0M583.0 566.9h0M560.3 573.3h0M492.7 496.1h0M512.6 560.1h0M518.6 583.1h0M507.8 578.9h0M567.5 584.8h0M538.8 584.5h0M488.9 546.6h0M493.0 473.6h0M497.8 581.1h0M528.8 579.4h0M510.0 578.1h0M511.0 548.0h0M500.8 545.0h0M601.7 554.6h0M540.1 580.5h0M498.4 556.3h0"/>
<path d="M496.9 513.7h0M620.1 585.0h0M510.4 576.1h0M502.6 575.8h0M505.0 524.3h0M513.9 577.8h0M491.2 533.9h0M564.7 568.1h0M489.6 572.8h0M497.7 555.7h0M546.9 584.2h0M512.8 575.2h0M508.9 582.2h0M502.5 568.2h0M507.9 567.5h0M502.3 572.3h0M488.5 574.5h0M506.6 524.3h0M631.4 569.0h0M552.5 544.3h0M500.2 523.3h0M495.4 538.4h0M520.6 563.9h0M494.8 565.6h0M505.2 574.9h0M506.3 579.0h0M657.5 560.9h0M528.8 580.1h0M508.2 581.2h0M502.6 578.8h0M503.8 577.7h0M490.1 551.6h0M495.5 539.8h0M494.3 502.6h0M505.4 582.3h0M510.5 582.3h0M488.6 574.3h0M529.5 579.3h0M488.5 564.8h0M530.3 575.4h0M494.5 513.9h0M521.1 579.5h0M492.6 571.2h0M492.6 581.0h0M527.1 540.8h0M508.1 580.7h0M512.4 572.4h0M522.0 582.2h0M493.3 535.9h0M499.8 579.9h0M491.8 577.9h0M545.0 582.9h0M502.5 529.5h0M518.1 580.1h0M583.5 535.9h0M493.6 578.3h0M554.2 583.1h0M489.2 525.1h0M711.6 574.7h0M490.5 510.8h0M535.1 584.4h0M497.6 546.2h0M551.2 582.4h0M492.5 519.6h0M503.2 565.2h0M520.1 581.2h0M496.1 577.0h0M493.2 580.9h0M544.3 569.7h0M518.7 571.9h0M515.8 572.9h0M562.1 584.9h0M495.9 575.9h0M496.6 519.6h0M516.0 575.9h0M543.1 584.0h0M589.6 584.8h0M493.9 522.9h0M516.9 575.1h0M492.4 570.1h0M677.1 569.7h0M492.4 580.6h0M488.6 580.3h0M541.9 573.9h0M494.6 542.1h0M521.1 577.1h0M509.3 581.7h0M495.5 547.1h0M492.2 571.0h0M520.1 581.2h0M570.0 584.7h0M488.8 521.5h0M494.8 473.0h0M496.8 545.3h0M555.2 580.5h0M511.1 580.0h0M506.7 567.9h0M497.0 581.5h0M558.3 580.4h0M497.9 529.8h0M489.8 580.5h0M536.1 585.0h0M488.6 553.0h0M512.1 577.0h0M507.4 579.8h0M509.8 560.4h0M506.5 580.7h0M489.2 563.3h0M546.5 584.8h0M489.6 564.3h0M493.9 527.8h0M532.6 584.6h0M548.0 577.6h0M491.2 515.1h0M559.3 584.0h0M511.7 561.1h0"/>
<path d="M489.1 570.3h0M538.3 585.1h0M493.0 577.6h0M704.4 539.8h0M528.7 559.5h0M534.9 580.9h0M492.4 501.8h0M489.4 531.7h0M593.0 561.2h0M494.0 553.5h0M502.8 573.4h0M505.9 569.2h0M496.0 513.1h0M511.9 582.2h0M596.6 583.1h0M510.5 559.8h0M530.3 581.7h0M512.8 565.1h0M488.7 537.8h0M522.4 583.7h0M509.9 582.8h0M491.7 568.7h0M551.4 583.6h0M528.6 569.9h0M507.2 578.0h0M521.4 579.6h0M654.0 565.3h0M528.0 584.0h0M611.4 552.8h0M499.0 575.5h0M503.3 576.7h0M490.0 572.6h0M492.7 444.4h0M492.4 535.4h0M489.1 577.3h0M532.3 584.8h0M519.7 577.2h0M499.3 548.4h0M488.6 561.5h0M496.1 571.4h0M503.6 560.6h0M528.0 572.7h0M492.8 520.6h0M502.4 578.9h0M503.3 565.4h0M571.0 577.1h0M493.4 525.2h0M530.7 584.3h0M497.8 579.1h0M509.3 574.9h0M513.4 582.4h0M494.7 501.1h0M537.4 552.6h0M488.6 514.4h0M537.7 563.2h0M548.9 577.4h0M503.6 546.9h0M538.3 558.2h0M516.8 578.5h0M580.2 504.3h0M488.9 567.4h0M489.0 577.0h0M496.7 572.0h0M515.1 581.3h0M495.8 520.4h0M501.2 558.7h0M518.9 578.2h0M510.1 569.2h0M490.8 566.4h0M510.2 574.0h0M560.5 552.7h0M532.2 583.3h0M489.0 568.9h0M544.9 582.8h0M501.5 559.1h0M527.3 584.2h0M505.2 571.7h0M490.2 580.3h0M489.9 567.7h0M488.9 548.1h0M535.2 580.2h0M489.2 550.3h0M519.8 567.7h0M554.8 579.8h0M488.5 550.2h0M535.4 542.2h0M504.7 567.4h0M509.9 566.1h0M511.9 563.0h0M492.4 528.1h0M497.8 572.4h0M553.5 584.6h0M499.8 555.1h0M496.9 574.4h0M492.6 484.4h0M500.3 525.7h0M501.6 581.9h0M497.1 558.4h0M502.4 566.0h0M491.7 561.3h0M509.0 571.1h0M489.1 574.1h0M492.4 503.4h0M504.4 575.8h0M489.5 497.3h0M533.2 558.7h0M495.9 538.0h0M503.6 579.0h0M533.3 569.4h0M515.1 569.2h0M489.1 435.7h0M515.7 563.9h0M511.3 580.3h0M491.9 558.0h0M530.2 584.3h0M555.7 569.8h0"/>
<path d="M491.3 543.8h0M488.9 560.9h0M520.9 571.5h0M493.0 557.9h0M521.7 579.9h0M511.3 574.9h0M527.9 582.0h0M509.7 581.8h0M544.8 579.6h0M492.3 542.6h0M514.0 559.5h0M542.1 582.2h0M491.6 548.2h0M509.4 505.2h0M533.0 584.7h0M488.9 565.2h0M488.6 568.3h0M527.5 584.3h0M499.1 575.0h0M495.5 553.0h0M489.9 565.1h0M499.9 509.7h0M520.4 575.5h0M500.0 573.2h0M494.7 577.8h0M517.7 538.0h0M507.0 580.6h0M489.8 536.0h0M489.1 468.7h0M493.1 580.2h0M491.9 572.4h0M557.0 561.3h0M513.6 576.6h0M506.5 577.2h0M509.5 578.0h0M506.8 564.9h0M524.1 510.3h0M491.5 572.6h0M490.7 557.2h0M515.6 583.3h0M517.1 555.7h0M512.8 574.0h0M497.4 569.7h0M521.4 582.1h0M523.8 543.6h0M499.4 563.2h0M498.0 557.6h0M503.5 540.0h0M496.9 526.7h0M502.9 565.4h0M505.8 568.0h0M497.6 576.0h0M492.8 527.1h0M493.5 563.6h0M527.6 566.5h0M506.2 576.5h0M513.5 577.0h0M501.6 559.0h0M528.6 563.6h0M501.8 581.8h0M535.2 581.0h0M503.0 536.3h0M502.8 568.3h0M576.9 554.6h0M489.3 547.0h0M498.3 553.3h0M488.7 556.3h0M497.9 539.2h0M520.1 581.6h0M512.4 581.7h0M492.0 561.3h0M507.1 574.3h0M575.7 584.6h0M534.5 575.5h0M499.0 581.6h0M570.7 584.7h0M522.5 582.7h0M500.3 580.2h0M493.9 547.5h0M554.7 582.3h0M576.2 544.4h0M509.5 564.1h0M505.6 558.3h0M500.7 524.4h0M488.5 485.4h0M521.5 579.6h0M535.6 576.0h0M556.1 529.5h0M499.9 536.0h0M557.8 583.6h0M522.1 555.9h0M488.6 549.1h0M514.8 567.5h0M523.5 584.2h0M573.0 516.2h0M503.3 562.6h0M493.4 549.7h0M515.5 559.1h0M574.3 581.0h0M494.1 524.4h0M489.3 556.8h0M498.1 581.6h0M505.9 581.0h0M490.0 580.6h0M510.8 568.5h0M488.7 575.8h0M500.4 530.6h0M490.5 549.6h0M604.8 540.6h0M513.5 571.0h0M518.6 572.1h0M489.4 533.4h0M533.9 566.8h0M488.9 493.2h0M504.5 571.0h0M494.8 538.3h0"/>
<path d="M690.7 583.7h0M528.0 548.6h0M489.9 550.1h0M492.0 520.9h0M488.7 555.7h0M494.4 549.8h0M492.9 521.4h0M489.7 570.2h0M489.7 546.0h0M491.9 566.2h0M491.2 566.9h0M522.6 570.0h0M501.9 581.9h0M496.8 581.2h0M512.4 575.7h0M500.6 551.7h0M536.3 583.9h0M508.7 572.0h0M490.9 567.3h0M489.6 536.0h0M550.0 549.6h0M489.9 551.2h0M528.8 572.9h0M547.2 582.2h0M493.7 576.5h0M586.2 546.0h0M495.9 541.7h0M488.8 576.1h0M528.9 558.4h0M493.4 556.8h0M494.4 563.5h0M494.3 553.7h0M508.9 552.4h0M509.8 573.3h0M489.3 558.7h0M493.9 527.2h0M539.0 578.2h0M492.1 550.9h0M489.0 550.0h0M529.8 552.6h0M550.8 579.1h0M496.5 571.9h0M493.2 514.6h0M572.6 561.1h0M523.6 569.1h0M623.1 563.0h0M492.4 536.9h0M513.0 572.3h0M545.2 583.4h0M582.7 576.1h0M490.7 579.5h0M495.2 580.1h0M490.2 532.7h0M722.2 550.7h0M541.2 571.7h0M567.4 574.6h0M544.6 568.8h0M490.5 580.6h0M540.2 583.3h0M551.3 577.9h0M498.6 558.8h0M552.9 583.0h0M489.1 577.6h0M496.0 543.9h0M540.3 555.7h0M515.0 583.4h0M498.4 558.0h0M548.7 574.3h0M492.7 580.8h0M490.2 553.8h0M491.7 541.8h0M512.1 570.7h0M497.8 561.2h0M529.5 581.0h0M491.5 551.5h0M542.1 538.8h0M559.5 553.7h0M524.6 577.1h0M531.6 516.8h0M538.6 566.3h0M530.7 584.6h0M511.4 577.5h0M496.4 555.7h0M513.0 577.8h0M535.0 585.0h0M529.0 584.4h0M516.9 582.9h0M496.3 527.8h0M488.9 523.6h0M512.6 572.8h0M497.0 581.3h0M490.4 537.1h0M496.2 562.5h0M494.8 572.5h0M551.5 559.2h0M503.9 557.6h0M500.9 564.9h0M508.5 575.3h0M503.7 582.1h0M500.0 568.9h0M505.7 554.3h0M590.7 584.9h0M488.5 560.0h0M506.0 582.4h0M500.3 581.9h0M557.6 569.7h0M564.5 584.5h0M493.9 572.3h0M490.9 554.8h0M489.4 574.6h0M501.4 551.0h0M636.9 561.2h0M554.9 585.0h0M577.7 568.0h0M519.0 580.0h0M495.6 523.3h0"/>
<path d="M491.8 545.5h0M499.4 571.7h0M503.5 563.2h0M556.2 557.4h0M507.4 580.7h0M499.8 554.5h0M521.5 561.0h0M496.4 538.2h0M506.3 566.9h0M488.9 520.2h0M508.7 568.8h0M721.2 570.5h0M491.4 576.2h0M489.4 526.4h0M494.7 519.9h0M547.0 584.0h0M490.2 544.3h0M528.8 570.4h0M562.9 581.5h0M535.1 560.4h0M585.3 569.7h0M584.0 582.6h0M492.0 484.6h0M491.0 535.3h0M523.1 567.3h0M499.3 571.7h0M529.7 582.0h0M511.9 579.0h0M496.1 563.4h0M540.9 584.4h0M493.4 572.0h0M492.6 571.8h0M499.3 576.1h0M500.6 571.8h0M502.6 581.8h0M491.0 549.5h0M549.5 584.8h0M489.5 563.0h0M519.9 583.3h0M532.3 585.1h0M509.7 580.8h0M495.8 529.4h0M494.6 529.3h0M521.2 578.1h0M518.4 581.5h0M554.3 582.0h0M624.5 569.9h0M500.6 549.1h0M497.8 556.7h0M611.8 557.7h0M494.3 563.0h0M518.0 583.4h0M666.5 539.9h0M516.3 578.7h0M639.6 552.3h0M498.3 557.6h0M508.2 581.0h0M492.0 554.9h0M531.0 569.3h0M499.1 581.1h0M488.8 579.8h0M488.6 567.8h0M502.3 544.7h0M544.4 582.2h0M488.8 557.5h0M520.4 575.0h0M554.8 566.5h0M519.6 576.5h0M525.3 580.1h0M495.3 540.5h0M499.9 547.9h0M563.1 584.8h0M488.6 578.0h0M547.0 545.9h0M490.8 540.1h0M509.0 578.9h0M521.8 577.3h0M496.0 541.2h0M559.0 582.7h0M608.4 567.1h0M500.2 569.5h0M499.2 569.0h0M521.2 573.9h0M489.5 515.6h0M526.9 576.4h0M489.7 551.8h0M497.2 569.1h0M539.6 583.7h0M490.4 531.9h0M506.9 581.1h0M539.2 576.6h0M489.2 564.9h0M513.6 555.6h0M529.1 582.5h0M566.2 557.3h0M489.6 513.6h0M648.7 577.9h0M708.3 555.9h0M529.1 582.6h0M625.3 583.7h0M504.2 580.1h0M489.0 575.8h0M549.0 581.5h0M572.0 572.4h0M490.0 496.7h0M499.2 562.1h0M501.9 564.4h0M488.7 567.7h0M520.5 581.9h0M515.3 561.3h0M503.3 532.4h0M517.4 578.0h0M510.0 582.8h0M490.3 544.2h0M532.9 579.2h0M534.7 581.3h0"/>
<path d="M489.5 578.3h0M524.8 574.7h0M503.5 548.9h0M579.3 572.2h0M489.5 551.1h0M589.4 583.1h0M499.9 539.3h0M513.8 570.2h0M544.7 582.8h0M488.7 550.8h0M504.0 569.6h0M540.1 580.0h0M511.6 574.3h0M595.9 567.1h0M493.8 580.8h0M515.2 580.3h0M495.5 555.1h0M489.6 531.9h0M489.0 534.4h0M491.1 572.0h0M504.1 582.2h0M492.6 548.6h0M495.1 522.9h0M516.0 582.8h0M490.4 566.7h0M497.6 522.8h0M492.1 576.3h0M518.7 572.9h0M508.1 567.6h0M501.5 561.5h0M490.3 533.2h0M670.5 583.7h0M504.5 580.0h0M500.1 580.8h0M533.0 582.4h0M499.1 570.1h0M490.4 564.9h0M495.4 570.6h0M539.0 571.1h0M534.9 584.9h0M499.6 581.0h0M513.6 583.1h0M491.6 580.4h0M505.7 577.7h0M532.4 582.1h0M515.8 563.5h0M573.0 581.0h0M538.7 585.0h0M509.8 575.8h0M492.2 555.3h0M489.4 533.9h0M565.0 583.6h0M498.3 564.5h0M495.1 577.6h0M539.8 572.3h0M537.4 577.6h0M512.9 572.8h0M559.9 583.9h0M514.7 566.6h0M495.6 581.4h0M505.7 559.8h0M497.6 559.3h0M538.8 552.4h0M503.5 568.4h0M489.2 519.3h0M493.2 517.3h0M577.1 573.9h0M504.3 578.7h0M508.1 569.3h0M691.3 568.2h0M489.2 560.6h0M493.6 581.1h0M501.2 548.2h0M536.0 566.7h0M543.6 556.8h0M547.9 577.3h0M493.9 550.9h0M488.5 482.5h0M512.1 571.2h0M696.3 582.6h0M489.3 524.2h0M510.4 579.9h0M505.3 580.9h0M541.0 577.1h0M507.2 574.0h0M488.5 569.1h0M499.6 568.1h0M489.2 533.4h0M507.7 574.4h0M490.9 538.9h0M706.2 572.3h0M547.0 555.8h0M500.5 536.0h0M508.3 582.5h0M498.1 570.3h0M542.8 577.2h0M504.5 564.6h0M498.5 546.7h0M501.1 578.3h0M489.1 572.6h0M539.5 584.6h0M505.5 532.8h0M501.3 546.8h0M503.5 572.4h0M548.2 584.7h0M509.1 469.9h0M702.4 573.7h0M495.1 524.3h0M502.0 533.2h0M540.7 584.5h0M489.0 560.5h0M626.8 579.7h0M495.0 567.9h0M488.5 554.2h0M505.0 581.6h0M492.8 524.4h0"/>
<path d="M506.1 574.1h0M502.0 546.8h0M584.5 584.2h0M516.1 579.3h0M536.2 584.2h0M519.2 569.0h0M533.1 584.8h0M491.0 553.2h0M500.2 545.5h0M497.4 574.8h0M507.0 572.8h0M552.5 585.1h0M492.3 542.3h0M494.5 569.1h0M491.5 534.3h0M498.4 580.5h0M505.3 571.7h0M548.2 583.7h0M502.5 570.7h0M530.6 565.4h0M504.8 571.3h0M490.1 580.7h0M494.6 532.2h0M501.6 573.9h0M490.6 553.2h0M505.2 582.2h0M496.7 549.4h0M497.7 557.7h0M492.5 570.6h0M492.5 542.7h0M596.3 557.2h0M509.5 577.7h0M488.8 567.1h0M492.7 533.3h0M496.3 546.7h0M528.4 568.2h0M519.8 583.8h0M498.6 577.4h0M518.3 583.6h0M641.4 563.3h0M489.3 566.7h0M493.9 521.6h0M525.5 577.7h0M545.1 580.2h0M509.1 582.6h0M514.7 544.4h0M488.6 553.0h0M716.9 570.0h0M514.3 563.9h0M534.0 578.7h0M533.5 584.0h0M550.5 580.3h0M490.5 568.9h0M503.2 556.8h0M509.3 560.9h0M691.9 550.4h0M509.0 575.0h0M508.4 568.4h0M505.3 558.6h0M497.8 566.5h0M495.5 555.1h0M489.1 512.9h0M530.4 574.9h0M500.4 580.6h0M499.5 563.0h0M565.5 570.2h0M489.2 551.6h0M495.8 580.3h0M495.4 522.1h0M493.7 540.9h0M490.5 580.6h0M489.2 580.4h0M514.4 569.7h0M540.6 561.4h0M513.4 582.2h0M527.1 573.4h0M492.2 540.6h0M514.5 515.3h0M513.9 582.0h0M533.7 584.8h0M494.0 581.2h0M491.0 580.9h0M524.6 562.3h0M498.8 543.5h0M524.9 580.3h0M503.1 563.0h0M488.5 555.0h0M523.7 572.4h0M522.9 582.2h0M489.9 580.3h0M491.8 567.5h0M499.3 561.0h0M674.3 561.8h0M507.4 566.2h0M489.3 554.1h0M490.3 507.3h0M492.0 525.6h0M518.2 576.8h0M495.6 537.2h0M493.4 529.8h0M512.5 574.1h0M494.6 560.9h0M497.0 548.6h0M524.8 573.7h0M514.8 574.5h0M492.0 559.3h0M520.0 573.0h0M493.8 548.5h0M499.6 558.7h0M553.2 561.9h0M494.9 555.1h0M496.2 565.6h0M488.7 579.9h0M488.5 548.4h0M557.4 583.8h0M492.1 562.5h0"/>
<path d="M488.7 580.0h0M491.2 494.5h0M488.9 578.4h0M490.0 549.8h0M521.2 575.2h0M504.1 548.1h0M502.5 545.8h0M529.4 583.3h0M500.6 581.9h0M530.1 578.4h0M502.2 571.6h0M548.6 552.8h0M582.6 584.2h0M514.3 583.0h0M491.1 580.8h0M489.6 545.4h0M490.4 404.6h0M500.8 547.0h0M524.0 581.4h0M508.1 582.3h0M489.4 563.7h0M489.3 557.9h0M514.0 583.1h0M543.4 581.8h0M490.4 563.3h0M508.5 575.6h0M563.4 582.7h0M534.9 576.9h0M508.2 573.7h0M535.0 575.7h0M510.6 576.7h0M505.6 563.7h0M698.2 584.0h0M539.0 556.3h0M547.7 585.1h0M488.8 529.4h0M493.4 557.5h0M497.1 545.0h0M522.6 521.9h0M494.6 579.6h0M568.0 575.3h0M520.6 573.2h0M505.6 577.2h0M488.5 559.7h0M497.4 550.7h0M493.7 571.6h0M516.5 543.7h0M502.2 553.1h0M584.4 582.1h0M541.9 547.9h0M488.6 546.5h0M492.0 580.6h0M521.6 579.0h0M535.3 581.1h0M577.2 573.8h0M561.9 579.0h0M505.9 578.9h0M492.1 567.1h0M500.7 573.9h0M551.7 581.4h0M525.9 571.8h0M716.0 566.0h0M512.2 576.9h0M531.7 576.2h0M498.8 564.9h0M489.6 519.2h0M490.6 536.6h0M495.9 569.8h0M497.9 569.1h0M525.3 580.2h0M489.4 554.5h0M505.6 567.0h0M488.5 575.9h0M562.4 584.9h0M494.3 579.6h0M524.9 580.7h0M514.1 582.9h0M553.2 560.9h0M493.9 549.6h0M492.1 580.7h0M573.1 556.4h0M517.0 583.6h0M489.1 488.7h0M496.7 527.6h0M511.2 582.6h0M551.1 579.8h0M503.3 566.2h0M531.1 580.2h0M488.8 565.9h0M526.1 582.9h0M495.5 496.2h0M491.3 552.0h0M510.6 560.0h0M489.6 553.1h0M490.2 552.9h0M502.3 553.1h0M489.0 545.0h0M489.0 561.9h0M490.1 512.1h0M496.6 581.4h0M512.2 566.2h0M491.1 581.0h0M511.1 582.1h0M495.5 536.3h0M506.5 556.2h0M494.7 567.7h0M501.0 553.9h0M490.4 497.8h0M520.2 582.6h0M515.6 563.1h0M509.2 553.4h0M489.9 522.6h0M488.8 559.6h0M499.4 562.3h0M510.6 566.6h0M524.7 563.7h0"/>
<path d="M503.2 578.7h0M537.2 568.5h0M490.0 535.3h0M491.9 516.2h0M491.0 558.7h0M524.2 574.4h0M563.9 533.3h0M491.8 579.7h0M489.3 576.5h0M488.6 552.2h0M494.0 567.8h0M516.3 571.8h0M515.4 548.4h0M500.6 581.4h0M515.5 579.4h0M498.6 571.7h0M554.3 580.4h0M497.4 548.0h0M511.6 580.8h0M506.0 567.3h0M497.3 581.4h0M490.0 556.7h0M488.7 539.5h0M508.3 551.4h0M533.9 560.9h0M550.0 584.4h0M491.4 545.6h0M493.0 567.3h0M492.3 518.5h0M533.9 580.3h0M500.9 516.9h0M516.2 583.4h0M547.1 576.5h0M495.0 558.4h0M490.4 563.8h0M539.4 549.3h0M493.3 560.3h0M492.1 579.3h0M502.9 567.0h0M489.6 547.2h0M502.6 566.2h0M538.9 574.9h0M488.9 531.9h0M505.9 566.0h0M537.2 577.9h0M506.1 567.6h0M505.9 562.8h0M536.3 580.2h0M507.7 582.2h0M530.0 580.6h0M491.8 546.4h0M536.0 583.2h0M495.2 544.2h0M540.1 575.8h0M531.9 583.6h0M489.5 580.5h0M489.1 538.2h0M502.3 540.6h0M576.5 576.4h0M529.5 492.3h0M502.5 574.5h0M586.2 582.4h0M489.8 571.7h0M498.3 531.9h0M493.8 518.7h0M494.7 538.0h0M527.0 581.6h0M513.4 569.0h0M514.7 573.7h0M513.5 582.8h0M494.7 558.8h0M504.6 544.9h0M491.0 491.1h0M516.5 583.4h0M643.0 540.5h0M526.9 578.6h0M541.3 487.8h0M698.6 568.6h0M512.0 570.9h0M541.0 575.2h0M510.7 582.1h0M491.7 533.4h0M506.7 582.6h0M573.9 577.4h0M522.3 575.8h0M493.4 529.9h0M510.1 564.0h0M497.2 547.1h0M493.5 552.7h0M512.6 583.0h0M507.4 580.5h0M499.0 546.5h0M520.9 573.4h0M551.2 575.1h0M516.2 571.7h0M530.4 554.6h0M498.7 565.2h0M505.1 570.1h0M503.2 560.9h0M521.7 581.6h0M489.5 569.6h0M496.7 498.3h0M501.7 572.6h0M540.4 582.4h0M535.6 584.0h0M488.5 572.2h0M488.6 569.4h0M493.5 557.2h0M551.4 565.1h0M518.4 580.8h0M523.4 577.8h0M495.4 509.0h0M493.9 546.4h0M502.5 547.9h0M519.7 581.3h0M514.2 574.8h0"/>
<path d="M495.0 556.5h0M500.2 555.6h0M570.5 583.6h0M528.6 584.2h0M488.9 545.6h0M527.4 571.5h0M516.5 572.9h0M495.3 544.0h0M510.0 582.8h0M511.8 546.3h0M526.6 574.9h0M512.6 551.5h0M491.7 531.2h0M494.9 581.3h0M492.3 547.3h0M506.4 573.6h0M495.5 516.5h0M506.0 545.4h0M530.5 584.9h0M517.0 583.6h0M512.3 570.2h0M497.5 559.1h0M493.6 549.9h0M493.6 581.0h0M503.7 560.7h0M511.5 576.7h0M492.6 548.7h0M489.2 562.1h0M561.7 583.6h0M513.8 569.0h0M504.7 581.9h0M489.4 550.3h0M497.0 555.6h0M508.4 557.0h0M533.5 574.8h0M503.4 568.9h0M494.4 519.2h0M508.9 582.7h0M579.5 559.5h0M491.0 564.9h0M519.2 583.5h0M531.9 583.2h0M500.4 577.8h0M489.5 576.1h0M492.0 447.1h0M519.2 583.7h0M653.3 566.7h0M526.5 576.3h0M542.0 574.9h0M491.1 543.7h0M546.5 585.1h0M490.3 556.1h0M532.1 573.7h0M504.6 565.5h0M498.8 569.5h0M509.7 562.9h0M508.1 565.9h0M496.5 499.6h0M509.8 552.6h0M492.0 558.5h0M552.5 584.8h0M501.9 582.0h0M557.2 584.4h0M492.0 530.8h0M533.9 581.9h0M553.6 582.4h0M514.6 569.4h0M502.7 559.1h0M501.0 575.5h0M494.7 525.7h0M511.9 582.9h0M505.5 569.7h0M560.4 585.0h0M492.3 492.6h0M515.4 533.9h0M492.3 580.0h0M558.3 584.5h0M508.5 569.6h0M499.1 571.1h0M492.1 522.0h0M493.6 575.8h0M489.2 552.1h0M511.8 575.6h0M497.5 559.7h0M541.1 575.1h0M491.8 539.0h0M495.6 516.4h0M524.7 582.5h0M497.0 578.0h0M500.6 577.4h0M499.8 548.4h0M488.5 567.1h0M567.9 550.2h0M504.1 556.0h0M489.7 571.9h0M490.9 540.7h0M488.8 531.6h0M661.6 584.9h0M496.9 552.4h0M633.2 567.5h0M489.6 501.4h0M489.8 573.9h0M501.3 573.6h0M546.6 571.3h0M528.3 543.5h0M508.7 564.0h0M495.0 556.8h0M489.2 572.8h0M489.4 549.2h0M489.5 552.0h0M531.8 572.2h0M490.2 575.4h0M601.9 584.7h0M490.5 580.3h0M530.3 568.5h0M493.9 562.3h0"/>
<path d="M502.4 575.3h0M489.0 580.5h0M503.3 565.1h0M541.8 578.5h0M490.0 540.4h0M509.9 552.3h0M492.3 497.1h0M526.3 579.0h0M488.8 578.6h0M645.5 552.5h0M493.9 546.7h0M489.1 543.2h0M640.0 582.5h0M502.4 548.6h0M523.1 579.8h0M497.9 553.2h0M494.6 566.0h0M555.3 585.1h0M529.6 562.0h0M491.7 525.1h0M526.2 583.1h0M519.1 579.5h0M498.7 581.6h0M493.8 459.4h0M719.2 562.7h0M502.2 582.1h0M490.4 576.1h0M497.9 538.9h0M516.2 570.7h0M489.2 531.2h0M492.9 526.4h0M497.6 522.4h0M495.7 581.1h0M528.2 582.5h0M493.3 555.8h0M539.3 583.6h0M499.9 540.5h0M716.2 559.2h0M515.1 580.3h0M493.2 534.2h0M528.9 582.7h0M488.8 550.9h0M504.7 546.7h0M513.9 580.2h0M493.3 568.9h0M489.3 551.0h0M490.0 556.1h0M489.5 545.7h0M494.1 568.3h0M494.5 556.7h0M502.8 554.2h0M504.9 570.3h0M499.8 575.9h0M490.9 581.0h0M490.8 520.2h0M521.6 574.2h0M525.7 582.3h0M556.1 583.8h0M492.5 534.1h0M494.0 481.2h0M557.2 570.6h0M494.0 503.9h0M502.2 531.0h0M506.8 577.8h0M489.0 547.9h0M635.1 565.8h0M536.8 582.7h0M521.1 583.5h0M498.9 518.2h0M493.4 513.6h0M497.7 534.3h0M496.5 579.6h0M539.1 569.7h0M559.6 584.7h0M597.8 573.7h0M547.4 580.8h0M500.5 581.7h0M491.6 564.7h0M548.4 581.9h0M638.5 578.9h0M496.5 581.4h0M499.7 560.3h0M503.1 562.5h0M528.7 564.1h0M505.1 535.3h0M545.6 580.5h0M502.3 555.5h0M551.8 565.1h0M561.8 584.8h0M488.7 554.8h0M491.9 573.5h0M502.3 551.8h0M496.2 546.9h0M556.8 568.3h0M523.8 577.7h0M504.4 569.1h0M532.5 572.5h0M501.6 580.4h0M491.2 540.1h0M517.8 582.7h0M497.1 545.7h0M595.1 571.9h0M495.2 533.3h0M494.4 580.8h0M495.2 559.8h0M495.0 581.1h0M493.4 551.7h0M544.4 562.0h0M544.0 577.5h0M498.5 553.0h0M605.4 563.1h0M524.7 577.2h0M490.9 571.1h0M508.3 534.1h0M538.0 560.3h0M494.3 543.2h0"/>
<path d="M489.7 569.7h0M531.2 584.7h0M534.7 583.9h0M500.9 494.6h0M497.4 531.5h0M507.6 577.5h0M494.4 580.8h0M506.7 579.6h0M514.1 583.0h0M521.4 566.3h0M573.9 584.1h0M508.9 576.1h0M491.4 424.2h0M493.5 552.8h0M503.8 568.4h0M489.3 520.3h0M497.9 570.3h0M508.0 533.8h0M577.8 556.7h0M590.3 584.7h0M494.5 479.1h0M519.4 565.4h0M536.3 549.8h0M516.6 565.7h0M550.7 580.8h0M494.2 552.6h0M492.5 501.7h0M494.0 553.4h0M488.8 541.2h0M503.9 565.6h0M509.4 566.6h0M493.3 576.3h0M494.8 581.0h0M549.0 577.0h0M497.5 556.2h0M499.1 557.3h0M526.7 584.5h0M490.8 573.5h0M488.5 543.4h0M501.7 558.5h0M565.8 537.8h0M491.1 552.1h0M488.8 545.6h0M512.9 557.4h0M596.6 584.2h0M529.3 573.4h0M498.9 565.5h0M489.0 531.0h0M499.7 578.7h0M492.7 538.2h0M515.1 583.1h0M499.6 563.6h0M493.5 580.9h0M677.3 584.0h0M492.7 513.4h0M547.9 562.0h0M574.1 567.1h0M499.9 579.8h0M488.5 497.0h0M489.5 560.7h0M606.3 584.8h0M488.9 566.3h0M512.5 558.0h0M533.3 573.6h0M514.7 574.3h0M537.0 581.7h0M489.1 577.5h0M562.5 583.7h0M496.9 547.4h0M504.8 559.0h0M501.7 581.8h0M490.4 580.8h0M529.8 579.0h0M492.5 514.0h0M496.6 562.3h0M512.5 566.6h0M520.2 583.6h0M498.1 556.4h0M490.3 545.5h0M504.9 577.7h0M500.5 566.5h0M532.4 566.3h0M538.1 572.2h0M488.5 553.1h0M516.4 583.4h0M496.7 510.4h0M492.7 554.2h0M549.8 581.5h0M498.0 575.3h0M556.8 573.4h0M509.8 512.1h0M508.0 582.3h0M499.7 551.8h0M495.3 581.1h0M502.2 581.6h0M505.3 582.4h0M509.1 573.1h0M488.7 568.2h0M496.4 552.3h0M510.9 549.6h0M523.2 584.1h0M497.9 551.4h0M489.1 560.0h0M532.1 565.4h0M492.0 562.0h0M488.9 580.1h0M511.4 581.1h0M498.5 561.6h0M544.4 574.4h0M577.0 576.3h0M498.0 571.0h0M513.8 563.4h0M488.6 562.7h0M556.9 583.9h0M497.0 551.8h0M494.6 528.4h0"/>
<path d="M489.3 579.6h0M497.3 527.7h0M508.1 570.0h0M524.8 579.7h0M488.5 546.1h0M507.1 581.7h0M489.8 570.7h0M505.8 552.8h0M502.3 575.1h0M596.6 541.5h0M508.3 556.4h0M491.0 552.6h0M488.5 571.9h0M518.3 564.3h0M510.4 582.4h0M550.4 581.4h0M500.4 565.4h0M488.5 563.2h0M489.5 520.9h0M527.0 574.5h0M490.3 558.5h0M529.7 577.4h0M490.2 562.3h0M559.6 569.0h0M494.6 577.0h0M497.7 551.3h0M491.2 572.5h0M493.3 580.5h0M488.7 567.1h0M532.4 574.2h0M529.6 553.3h0M494.0 544.9h0M498.4 581.5h0M574.4 561.3h0M489.1 526.6h0M501.0 569.7h0M527.4 584.1h0M525.0 581.3h0M488.5 554.7h0M536.1 566.5h0M510.2 571.7h0M505.9 557.4h0M493.9 524.4h0M747.9 557.6h0M499.0 555.2h0M606.5 584.9h0M494.2 546.3h0M597.7 584.8h0M548.5 564.7h0M502.3 563.3h0M509.0 582.4h0M524.0 579.3h0M506.6 558.6h0M517.0 574.9h0M489.0 527.7h0M503.5 566.2h0M488.7 528.9h0M488.8 555.3h0M494.5 572.0h0M494.1 561.8h0M493.2 571.2h0M560.3 580.0h0M646.9 567.4h0M500.8 581.8h0M522.0 573.2h0M489.2 540.9h0M520.4 572.7h0M509.7 556.9h0M490.0 578.9h0M494.1 534.6h0M521.0 583.5h0M622.3 557.5h0M489.2 564.5h0M562.9 577.2h0M488.8 563.3h0M513.1 578.2h0M489.6 551.3h0M538.6 584.5h0M520.1 581.8h0M490.3 367.9h0M534.5 581.5h0M491.3 498.6h0M506.1 559.0h0M719.0 580.6h0M498.9 576.7h0M603.3 584.6h0M522.5 572.0h0M496.7 581.0h0M492.3 529.0h0M498.4 570.3h0M504.3 573.8h0M494.9 560.1h0M497.7 551.9h0M552.7 558.2h0M508.4 582.3h0M495.8 533.6h0M511.2 582.9h0M522.8 577.0h0M549.6 584.8h0M489.6 574.4h0M519.0 541.1h0M500.8 563.2h0M490.0 504.0h0M542.7 581.9h0M488.6 535.5h0M566.2 572.2h0M489.5 508.9h0M491.4 537.6h0M499.8 572.5h0M508.0 573.7h0M538.5 578.5h0M502.7 558.8h0M512.6 541.6h0M494.6 565.9h0M593.5 583.7h0M489.1 521.4h0"/>
<path d="M488.7 567.8h0M494.3 560.6h0M512.9 573.6h0M498.6 512.0h0M491.3 579.9h0M491.7 508.0h0M586.1 558.1h0M527.8 584.4h0M539.0 545.3h0M510.5 540.4h0M493.9 566.1h0M490.9 570.0h0M552.4 532.9h0M498.2 560.4h0M520.7 570.0h0M529.1 580.8h0M505.1 560.9h0M508.4 545.7h0M498.1 548.9h0M491.6 539.6h0M517.0 576.4h0M515.6 566.5h0M572.7 585.1h0M489.2 562.9h0M650.6 536.7h0M492.3 525.6h0M494.9 547.3h0M515.7 578.1h0M600.4 569.9h0M501.8 582.0h0M517.7 570.5h0M526.8 583.6h0M496.4 580.5h0M496.8 533.4h0M490.8 523.5h0M501.3 570.9h0M506.2 579.1h0M490.4 580.8h0M565.7 583.0h0M505.1 561.8h0M512.0 582.7h0M500.4 581.4h0M488.5 558.4h0M492.7 520.1h0M489.7 562.3h0M534.9 584.4h0M501.5 574.6h0M558.5 578.5h0M505.2 566.1h0M542.7 582.3h0M490.4 533.9h0M503.6 581.4h0M514.9 572.1h0M501.1 568.7h0M513.1 565.2h0M534.8 580.8h0M498.6 581.5h0M536.1 577.4h0M488.6 564.7h0M506.1 575.6h0M488.5 578.8h0M507.9 571.3h0M493.9 556.8h0M531.5 582.8h0M488.5 558.4h0M503.7 581.6h0M493.0 563.9h0M488.5 567.2h0M499.2 526.4h0M503.1 570.3h0M489.0 562.8h0M539.7 581.3h0M516.9 575.0h0M490.5 545.0h0M544.8 577.0h0M501.9 551.9h0M541.7 584.2h0M518.9 579.8h0M561.9 568.9h0M506.8 582.3h0M509.1 578.5h0M515.1 568.8h0M506.7 582.2h0M519.3 583.4h0M490.4 575.0h0M496.4 552.7h0M492.1 498.0h0M497.4 552.0h0M492.5 545.5h0M491.2 555.3h0M519.5 583.2h0M497.6 581.1h0M497.3 562.7h0M501.8 580.3h0M512.6 581.9h0M500.1 581.8h0M545.2 578.3h0M503.9 549.2h0M493.7 553.7h0M523.6 583.1h0M508.4 582.0h0M499.9 491.8h0M543.9 568.4h0M494.7 473.3h0M505.0 577.2h0M535.6 585.0h0M491.5 546.5h0M508.8 550.5h0M498.4 560.8h0M493.5 541.8h0M500.2 566.8h0M492.3 551.1h0M489.7 554.6h0M527.3 583.4h0M515.6 546.1h0M494.1 560.4h0"/>
<path d="M493.6 569.6h0M515.6 583.4h0M590.7 536.8h0M546.6 579.2h0M504.7 562.0h0M499.6 552.8h0M494.7 546.4h0M490.3 554.2h0M517.1 582.1h0M505.3 582.3h0M519.5 580.5h0M600.9 585.0h0M499.4 577.9h0M528.4 582.7h0M645.7 529.2h0M502.7 482.3h0M488.8 572.1h0M500.7 536.2h0M488.9 575.2h0M504.4 566.0h0M544.0 584.3h0M492.6 580.6h0M511.9 583.0h0M494.8 578.2h0M497.5 549.3h0M490.0 538.6h0M497.4 575.7h0M488.5 558.5h0M488.7 506.0h0M522.5 582.4h0M501.5 536.8h0M493.1 532.2h0M543.2 582.0h0M491.2 547.9h0M490.4 559.3h0M495.1 581.3h0M497.1 580.9h0M510.2 567.5h0M492.2 548.3h0M492.8 474.9h0M488.5 558.2h0M489.0 558.8h0M488.8 555.9h0M488.8 566.5h0M718.9 569.3h0M491.0 547.9h0M509.4 582.3h0M539.6 582.5h0M489.9 580.4h0M493.4 531.2h0M500.3 580.3h0M495.1 527.1h0M496.5 547.5h0M527.5 570.6h0M489.4 578.4h0M493.8 580.9h0M558.5 585.0h0M488.6 573.7h0M528.2 578.6h0M647.6 574.1h0M513.2 562.7h0M488.8 572.9h0M520.6 519.9h0M539.0 579.2h0M571.3 572.3h0M490.5 553.7h0M508.8 564.6h0M522.3 583.2h0M488.6 518.5h0M500.2 560.6h0M513.5 579.9h0M533.4 579.4h0M538.6 570.4h0M497.3 568.9h0M521.9 581.1h0M526.0 580.8h0M546.1 585.1h0M491.0 552.3h0M505.0 561.2h0M493.7 551.5h0M505.8 568.2h0M497.2 545.1h0M511.7 582.8h0M498.5 462.7h0M510.1 582.9h0M546.8 582.5h0M537.2 583.6h0M507.8 548.9h0M521.5 580.0h0M516.8 583.2h0M533.8 583.0h0M562.6 566.7h0M491.8 557.6h0M498.5 578.5h0M524.8 574.4h0M521.5 566.4h0M516.4 574.2h0M509.6 571.8h0M489.0 565.5h0M509.6 562.3h0M517.1 583.4h0M515.6 580.5h0M518.8 568.9h0M493.6 580.1h0M494.5 521.1h0M491.8 552.5h0M506.5 577.7h0M499.5 518.7h0M559.0 579.7h0M488.8 544.0h0M518.0 508.3h0M497.5 550.7h0M510.2 582.6h0M510.1 565.2h0M505.8 572.0h0M516.2 529.7h0"/>
<path d="M506.8 572.5h0M505.6 561.1h0M499.2 541.6h0M493.4 569.0h0M498.0 573.7h0M497.9 554.1h0M504.7 568.6h0M519.5 583.3h0M508.2 550.0h0M500.6 581.5h0M638.5 581.8h0M491.5 479.4h0M511.5 571.8h0M505.4 563.0h0M569.5 545.2h0M656.2 564.6h0M515.1 549.6h0M534.6 582.7h0M578.5 584.5h0M499.8 564.4h0M511.8 576.7h0M500.4 581.8h0M512.8 573.1h0M538.5 581.1h0M583.7 580.4h0M489.1 545.7h0M561.6 582.3h0M492.8 479.7h0M515.2 582.9h0M493.7 514.1h0M492.8 549.3h0M494.4 553.0h0M493.2 549.7h0M557.6 581.6h0M499.7 543.0h0M575.9 581.1h0M524.0 579.7h0M492.8 570.9h0M488.5 568.8h0M491.2 571.0h0M532.6 585.0h0M497.1 537.3h0M496.2 550.3h0M505.3 544.8h0M491.1 533.8h0M515.3 581.1h0M496.7 554.6h0M533.9 582.9h0M490.7 580.9h0M546.3 582.6h0M546.1 584.6h0M510.4 570.2h0M534.1 583.9h0M518.3 583.4h0M499.0 581.4h0M497.2 560.0h0M497.1 550.3h0M502.8 565.7h0M538.0 568.1h0M506.9 576.6h0M501.8 447.8h0M497.0 572.9h0M536.8 584.9h0M511.9 568.3h0M489.2 564.2h0M489.3 571.0h0M537.5 580.4h0M512.5 583.1h0M520.1 583.3h0M536.0 580.5h0M516.3 568.6h0M496.9 566.0h0M499.6 554.8h0M491.3 562.4h0M509.5 574.9h0M495.4 502.4h0M489.8 535.3h0M507.5 524.0h0M668.6 569.3h0M490.7 543.7h0M532.6 581.4h0M494.5 570.6h0M488.6 566.8h0M496.6 520.1h0M500.0 558.6h0M500.4 565.3h0M504.6 553.8h0M552.6 559.0h0M490.9 580.3h0M490.9 542.8h0M491.9 505.9h0M557.8 584.2h0M499.5 581.8h0M522.2 583.7h0M502.3 569.0h0M496.3 551.8h0M499.5 569.9h0M519.5 578.9h0M542.9 579.6h0M495.1 564.8h0M494.4 577.5h0M508.8 581.4h0M529.7 538.1h0M489.4 548.0h0M514.1 546.4h0M488.6 540.9h0M600.9 575.2h0M510.2 461.5h0M489.2 490.9h0M489.4 500.1h0M501.3 540.7h0M544.2 572.7h0M494.0 568.5h0M513.0 573.2h0M497.4 566.7h0M489.6 534.8h0"/>
<path d="M504.2 577.5h0M493.0 523.6h0M549.6 550.9h0M491.9 558.4h0M512.9 583.1h0M489.0 542.2h0M494.5 549.8h0M590.6 547.2h0M492.4 575.1h0M536.2 582.8h0M523.7 576.3h0M514.0 583.1h0M519.6 572.6h0M548.7 584.4h0M501.1 574.4h0M493.4 556.2h0M495.5 552.1h0M491.4 457.7h0M491.5 580.9h0M578.8 584.3h0M532.5 584.5h0M493.9 577.7h0M496.6 551.6h0M528.3 571.7h0M491.5 564.6h0M495.4 581.4h0M558.1 585.1h0M488.7 504.1h0M497.9 520.2h0M496.6 554.1h0M493.3 580.6h0M494.5 568.9h0M500.3 581.8h0M506.0 582.4h0M489.5 560.1h0M495.4 555.9h0M488.7 559.4h0M496.1 573.2h0M543.3 583.8h0M569.9 566.5h0M500.6 580.7h0M495.0 569.3h0M497.4 556.7h0M522.6 578.8h0M504.7 508.9h0M548.8 574.6h0M574.1 530.9h0M509.7 581.3h0M529.6 555.0h0M530.9 583.9h0M520.5 573.6h0M506.2 581.7h0M558.2 584.2h0M740.4 553.1h0M489.8 574.9h0M555.8 568.4h0M515.5 581.3h0M514.6 571.6h0M497.1 552.7h0M496.3 581.2h0M548.9 566.6h0M519.7 499.3h0M553.2 584.2h0M515.3 568.7h0M492.4 574.4h0M562.1 559.4h0M518.4 571.2h0M489.8 544.3h0M541.9 584.4h0M548.0 582.6h0M540.5 584.4h0M488.7 570.8h0M494.5 543.7h0M539.8 527.6h0M492.0 546.0h0M490.4 580.2h0M518.0 567.5h0M502.9 573.3h0M504.6 539.0h0M494.2 453.6h0M490.4 533.8h0M495.6 539.4h0M506.8 570.5h0M492.5 575.5h0M488.9 563.4h0M508.1 563.1h0M495.6 557.5h0M491.6 545.3h0M511.0 569.3h0M517.6 570.5h0M510.5 569.4h0M519.5 582.4h0M492.4 563.9h0M590.5 532.2h0M507.2 567.0h0M543.5 575.9h0M495.7 577.6h0M497.5 541.0h0M527.9 575.2h0M490.8 508.9h0M500.3 559.4h0M535.9 565.8h0M490.7 511.0h0M533.8 585.0h0M498.9 521.3h0M509.6 570.5h0M496.6 536.2h0M515.4 582.8h0M489.5 573.5h0M511.8 582.9h0M488.5 544.3h0M548.8 573.3h0M673.0 570.8h0M516.3 581.6h0M493.8 554.5h0M534.8 580.1h0"/>
<path d="M496.0 567.7h0M522.6 583.8h0M516.5 579.7h0M508.0 582.5h0M492.6 579.4h0M507.5 578.4h0M492.3 553.3h0M513.9 559.0h0M532.0 575.2h0M498.4 552.7h0M495.1 566.3h0M490.6 538.5h0M639.8 585.0h0M499.9 555.6h0M501.8 580.6h0M491.2 483.5h0M575.2 580.9h0M499.5 522.8h0M509.7 529.3h0M497.5 544.7h0M705.5 567.1h0M500.6 561.5h0M489.0 561.3h0M504.6 561.9h0M495.1 572.2h0M497.8 565.8h0M498.9 502.3h0M559.0 554.1h0M521.1 576.8h0M521.2 575.4h0M538.0 583.1h0M495.8 514.6h0M503.3 571.8h0M504.2 575.8h0M538.5 572.9h0M489.2 553.8h0M492.5 561.5h0M504.3 544.5h0M553.9 567.7h0M521.5 582.0h0M488.7 555.5h0M492.9 488.9h0M500.1 575.7h0M599.1 584.9h0M495.3 429.3h0M528.4 584.4h0M576.5 563.7h0M516.8 582.0h0M558.2 568.0h0M525.4 573.5h0M493.5 529.1h0M493.7 524.9h0M490.4 488.9h0M523.8 583.9h0M505.9 582.0h0M501.7 582.0h0M527.6 584.6h0M490.2 538.0h0M506.7 582.2h0M497.1 526.0h0M550.3 581.2h0M488.8 533.6h0M488.8 574.7h0M489.9 578.0h0M496.1 549.3h0M527.3 573.2h0M488.5 550.6h0M509.5 577.7h0M503.4 558.9h0M521.2 543.4h0M535.8 580.0h0M500.9 548.1h0M513.4 556.3h0M496.4 581.4h0M493.8 546.0h0M502.6 542.3h0M510.1 496.1h0M489.8 487.4h0M518.5 568.0h0M489.5 518.0h0M506.6 560.8h0M521.8 581.8h0M512.1 574.6h0M488.8 577.9h0M567.7 576.1h0M514.8 583.1h0M489.0 542.6h0M522.5 582.8h0M516.8 578.6h0M497.0 484.0h0M633.8 573.8h0M510.8 576.3h0M542.9 583.3h0M693.1 560.9h0M493.1 496.4h0M490.2 514.5h0M488.7 567.9h0M500.8 567.5h0M516.5 579.6h0M543.1 584.6h0M499.1 557.2h0M521.3 570.2h0M540.0 584.2h0M506.3 548.2h0M501.0 564.5h0M507.8 579.4h0M504.9 575.2h0M496.2 562.1h0M530.7 579.5h0M500.9 581.5h0M577.1 584.3h0M500.7 488.9h0M490.0 504.4h0M508.2 581.3h0M548.5 562.3h0M497.6 541.2h0"/>
<path d="M496.9 575.9h0M492.8 563.6h0M498.0 561.2h0M533.0 580.2h0M610.9 562.7h0M498.5 576.4h0M529.2 584.6h0M491.7 565.2h0M502.6 553.1h0M489.6 562.2h0M530.1 577.2h0M537.5 583.9h0M492.4 581.1h0M489.1 559.1h0M489.3 503.0h0M494.7 552.8h0M612.4 518.5h0M495.8 581.0h0M496.9 556.2h0M532.8 555.3h0M492.4 576.9h0M519.1 567.4h0M505.7 559.6h0M500.6 542.7h0M520.5 580.6h0M523.4 561.3h0M501.9 564.8h0M501.3 552.6h0M510.6 583.0h0M492.0 581.1h0M492.0 573.4h0M584.4 563.1h0M538.4 585.1h0M505.2 563.6h0M496.7 545.1h0M571.9 580.0h0M488.5 544.9h0M543.6 582.5h0M490.3 513.4h0M523.4 582.4h0M488.6 579.8h0M502.7 573.7h0M508.8 565.6h0M509.7 571.5h0M577.4 581.0h0M508.0 581.2h0M536.8 554.7h0M542.7 579.7h0M551.6 572.2h0M520.2 545.9h0M490.8 488.0h0M537.8 538.3h0M518.2 582.5h0M521.3 582.5h0M494.3 544.5h0M505.6 522.3h0M667.0 535.4h0M510.0 553.0h0M490.8 546.6h0M630.8 577.8h0M495.7 561.8h0M499.2 503.5h0M508.7 579.2h0M523.0 578.9h0M520.4 571.6h0M498.1 578.7h0M494.2 571.7h0M490.0 577.3h0M558.2 581.3h0M495.7 513.2h0M493.0 580.1h0M502.8 544.6h0M550.3 577.4h0M489.2 547.6h0M506.0 581.7h0M518.8 574.9h0M500.5 569.4h0M531.8 571.4h0M494.4 562.0h0M501.8 552.0h0M545.4 585.0h0M498.0 557.8h0M548.8 581.8h0M495.0 576.1h0M497.2 567.7h0M539.3 585.0h0M501.4 577.4h0M508.6 578.8h0M620.4 583.2h0M515.0 567.2h0M489.2 556.9h0M499.0 558.1h0M500.8 552.3h0M509.4 564.8h0M561.1 579.9h0M494.6 567.9h0M496.7 526.3h0M504.3 581.9h0M497.0 560.3h0M530.9 582.2h0M635.4 584.5h0M530.8 579.5h0M515.4 575.5h0M500.4 569.6h0M536.9 583.0h0M494.7 535.4h0M495.8 558.6h0M493.1 574.4h0M517.3 573.9h0M495.7 557.4h0M491.8 538.6h0M524.9 584.0h0M513.4 574.9h0M490.7 569.8h0M495.1 581.3h0M490.3 561.7h0"/>
<path d="M521.2 572.5h0M505.3 582.3h0M489.8 516.0h0M500.2 578.5h0M503.1 571.5h0M519.5 553.8h0M495.1 522.8h0M489.8 529.1h0M497.1 563.7h0M530.7 582.1h0M499.2 581.7h0M506.9 581.9h0M519.0 581.8h0M524.3 583.3h0M522.4 579.8h0M503.0 504.5h0M555.2 569.8h0M496.5 571.5h0M525.4 562.9h0M596.9 562.8h0M501.9 561.0h0M498.5 563.1h0M488.7 572.4h0M500.2 554.4h0M498.8 578.4h0M503.9 559.3h0M488.9 565.9h0M494.8 522.5h0M508.7 565.3h0M496.6 509.9h0M503.0 546.4h0M502.0 562.7h0M490.0 576.6h0M498.3 531.4h0M502.8 551.0h0M571.1 584.9h0M511.3 572.7h0M738.9 570.1h0M496.9 580.2h0M524.9 572.7h0M496.5 510.8h0M494.7 556.6h0M540.8 581.2h0M516.8 582.2h0M502.4 569.5h0M526.4 568.4h0M499.3 558.7h0M491.5 561.2h0M579.0 584.6h0M488.5 522.4h0M629.8 585.0h0M516.9 574.3h0M545.5 581.2h0M600.0 555.0h0M507.1 582.0h0M496.7 545.7h0M500.1 573.1h0M559.0 559.9h0M509.4 580.5h0M489.3 555.5h0M488.6 556.6h0M492.9 514.3h0M500.3 569.4h0M565.2 567.3h0M497.0 544.6h0M511.6 554.9h0M544.5 577.7h0M488.5 549.8h0M489.2 534.7h0M489.3 571.0h0M587.1 584.8h0M510.4 582.5h0M489.2 532.8h0M522.5 583.9h0M529.1 570.8h0M498.4 567.3h0M490.8 571.1h0M489.9 562.6h0M501.3 531.2h0M521.3 576.7h0M514.7 565.7h0M501.1 548.6h0M549.1 585.0h0M488.9 528.0h0M576.1 578.1h0M578.8 554.8h0M537.9 584.3h0M492.3 580.1h0M551.5 584.6h0M534.4 579.9h0M560.9 544.9h0M499.2 581.0h0M494.6 421.0h0M501.3 546.1h0M510.1 577.5h0M494.8 543.3h0M499.8 565.6h0M501.2 538.2h0M502.1 546.9h0M496.2 581.4h0M545.3 567.6h0M588.9 584.8h0M489.4 520.5h0M488.8 568.4h0M557.6 551.9h0M522.3 553.1h0M498.7 548.0h0M539.3 568.1h0M556.2 571.1h0M503.0 530.0h0M493.2 569.6h0M516.2 554.8h0M490.5 579.6h0M525.0 584.2h0M539.9 581.2h0M521.2 582.2h0"/>
<path d="M512.4 575.7h0M601.8 584.2h0M536.6 584.9h0M603.9 562.7h0M498.7 578.9h0M502.0 581.8h0M498.0 560.2h0M532.8 578.5h0M494.6 565.9h0M488.6 547.3h0M560.8 584.8h0M593.3 585.1h0M528.6 568.1h0M491.2 557.5h0M607.8 580.2h0M488.5 572.4h0M523.4 578.1h0M500.9 575.4h0M609.2 584.5h0M514.5 582.7h0M506.7 581.9h0M495.4 551.5h0M488.7 561.9h0M533.0 576.5h0M506.3 582.4h0M544.0 547.6h0M501.6 571.7h0M514.5 553.4h0M499.3 575.8h0M522.0 576.9h0M488.5 576.0h0M509.6 556.4h0M489.3 543.2h0M501.2 556.2h0M489.3 580.7h0M571.9 565.3h0M494.6 560.9h0M623.5 569.4h0M488.9 561.5h0M540.1 584.8h0M491.5 507.1h0M500.0 581.8h0M497.1 559.3h0M490.0 571.5h0M490.5 531.6h0M507.2 577.5h0M488.7 459.7h0M490.6 553.4h0M542.5 582.6h0M508.8 538.2h0M533.3 567.0h0M534.4 568.0h0M488.8 554.5h0M492.4 581.0h0M490.8 536.6h0M577.5 584.7h0M507.6 582.3h0M532.1 576.4h0M494.3 545.5h0M490.9 526.7h0M489.8 540.7h0M498.5 561.4h0M497.5 527.8h0M508.4 582.4h0M542.1 581.1h0M502.0 571.5h0M503.4 582.2h0M511.8 583.0h0M489.1 560.1h0M491.7 519.7h0M499.1 537.8h0M515.2 581.7h0M489.1 569.8h0M502.6 571.6h0M495.6 578.6h0M505.2 578.5h0M488.9 495.6h0M489.2 579.7h0M517.8 565.3h0M519.8 566.6h0M531.2 578.0h0M525.4 583.7h0M496.8 554.0h0M527.5 579.2h0M516.0 581.0h0M493.4 529.4h0M506.9 578.1h0M488.5 562.8h0M513.0 549.1h0M493.2 564.5h0M680.1 553.9h0M512.0 582.1h0M523.0 583.6h0M517.3 561.7h0M513.5 558.7h0M505.1 571.6h0M507.2 580.6h0M493.7 556.8h0M492.2 536.5h0M498.6 568.0h0M489.1 528.9h0M504.4 549.2h0M503.1 559.5h0M558.4 584.5h0M491.4 564.0h0M527.5 571.5h0M495.5 514.1h0M488.6 550.1h0M493.4 573.1h0M489.9 515.2h0M574.5 569.7h0M522.4 576.5h0M539.3 552.2h0M493.5 568.4h0M514.8 582.8h0M493.1 530.4h0"/>
<path d="M498.3 544.1h0M524.2 550.8h0M488.9 569.7h0M589.7 573.9h0M499.3 567.9h0M504.9 495.3h0M490.7 580.9h0M488.6 571.8h0M523.2 574.7h0M542.7 584.9h0M537.4 579.4h0M498.7 541.4h0M497.2 556.5h0M506.1 551.4h0M499.7 557.5h0M491.4 509.8h0M488.5 571.5h0M497.2 577.8h0M520.4 564.5h0M514.9 532.7h0M505.7 551.9h0M527.5 571.8h0M520.2 569.4h0M515.2 561.2h0M496.9 551.0h0M488.9 573.9h0M522.7 583.5h0M488.6 569.2h0M495.7 566.6h0M541.8 584.8h0M494.3 527.3h0M495.6 574.4h0M506.5 576.7h0M490.2 530.2h0M497.1 540.9h0M580.7 584.9h0M549.4 580.1h0M489.1 551.7h0M492.2 578.8h0M494.1 564.1h0M504.8 582.0h0M492.2 548.3h0M511.2 569.3h0M511.9 564.6h0M494.7 578.3h0M495.5 581.2h0M496.8 581.3h0M494.1 509.1h0M492.5 577.0h0M523.0 569.7h0M612.6 582.0h0M553.8 572.2h0M536.5 562.6h0M508.8 582.7h0M500.2 555.5h0M494.2 563.3h0M496.7 579.2h0M489.1 569.5h0M529.7 583.8h0M539.4 576.0h0M533.8 578.8h0M489.7 573.8h0M494.3 562.4h0M489.1 571.6h0M569.8 549.1h0M507.5 566.1h0M490.3 530.0h0M492.3 580.8h0M497.2 537.7h0M514.1 555.7h0M520.4 578.1h0M488.6 550.8h0M520.6 582.2h0M493.7 511.6h0M553.3 529.5h0M547.8 575.7h0M499.3 558.8h0M539.5 564.2h0M517.6 583.5h0M518.3 565.2h0M494.3 508.8h0M498.5 570.6h0M515.4 568.9h0M551.6 557.8h0M496.4 579.7h0M489.1 564.4h0M536.1 582.4h0M500.6 577.1h0M491.9 569.6h0M498.8 581.8h0M488.5 579.9h0M537.6 584.2h0M488.7 506.1h0M491.9 549.2h0M489.3 550.9h0M514.4 570.2h0M655.6 510.4h0M489.5 579.0h0M496.3 555.6h0M551.9 582.6h0M506.1 581.5h0M512.5 578.8h0M502.1 523.1h0M497.3 575.4h0M494.9 581.2h0M491.6 578.6h0M492.7 508.9h0M510.2 559.5h0M538.1 575.7h0M498.6 556.9h0M520.7 566.6h0M516.1 562.1h0M488.6 482.0h0M502.2 576.3h0M503.3 579.7h0M488.7 559.0h0"/>
<path d="M495.7 577.9h0M552.9 576.5h0M528.8 505.8h0M496.2 506.4h0M553.3 563.2h0M496.5 557.4h0M518.0 583.3h0M569.0 579.1h0M503.1 561.4h0M528.7 584.0h0M602.0 557.6h0M488.7 565.6h0M504.5 576.7h0M531.1 580.9h0M549.8 571.8h0M582.1 584.6h0M496.4 580.9h0M491.7 551.7h0M497.9 549.6h0M511.2 563.2h0M538.8 578.6h0M522.1 583.7h0M502.8 581.5h0M489.1 573.1h0M510.1 567.1h0M503.6 564.6h0M506.6 577.4h0M514.2 583.3h0M496.8 565.8h0M490.6 534.6h0M665.2 568.5h0M511.4 563.3h0M521.5 577.1h0M499.1 545.3h0M602.7 579.9h0M496.5 550.0h0M489.8 522.1h0M545.1 579.2h0M510.7 570.7h0M504.4 550.1h0M509.3 582.0h0M505.0 570.4h0M513.6 573.7h0M494.5 555.5h0M496.8 564.6h0M491.6 516.2h0M495.0 552.3h0M490.6 534.8h0M497.4 555.6h0M548.8 532.3h0M508.0 574.3h0M505.5 573.4h0M489.5 564.6h0M491.7 506.8h0M540.6 565.3h0M498.2 547.9h0M544.1 584.9h0M502.3 551.4h0M489.0 571.9h0M491.4 519.2h0M535.2 576.3h0M518.0 582.9h0M513.6 577.6h0M555.2 584.5h0M530.5 583.4h0M490.9 542.7h0M533.9 575.3h0M502.3 577.4h0M493.0 578.7h0M490.9 562.2h0M490.2 565.6h0M504.3 581.8h0M497.1 581.5h0M504.4 582.3h0M491.7 546.3h0M488.7 565.8h0M536.3 584.4h0M542.8 579.8h0M539.4 573.5h0M491.7 575.0h0M521.4 583.4h0M516.3 521.0h0M546.7 585.0h0M502.3 489.2h0M524.1 583.8h0M502.8 567.6h0M488.8 548.0h0M512.5 541.6h0M509.6 542.9h0M488.6 547.9h0M496.7 465.5h0M502.2 567.2h0M508.7 572.2h0M491.8 527.7h0M490.5 494.0h0M489.5 551.6h0M531.1 580.0h0M548.7 557.3h0M497.3 548.6h0M489.9 574.6h0M521.3 528.5h0M495.7 564.3h0M537.1 579.5h0M500.2 578.6h0M512.5 578.5h0M496.7 544.8h0M522.3 582.1h0M493.7 581.2h0M549.6 579.8h0M491.2 574.6h0M493.6 541.7h0M493.0 392.0h0M489.3 527.0h0M488.7 575.9h0M489.6 558.9h0M511.2 574.3h0"/>
<path d="M601.1 568.3h0M495.0 513.6h0M495.8 557.7h0M489.3 580.5h0M491.1 554.6h0M489.5 519.8h0M492.0 580.6h0M496.8 562.0h0M506.6 569.1h0M490.1 523.0h0M546.5 585.1h0M489.2 560.8h0M488.7 562.9h0M492.3 574.1h0M507.4 573.1h0M532.6 576.3h0M494.9 551.5h0M502.2 572.4h0M530.0 581.9h0M518.8 583.5h0M581.7 584.7h0M488.8 564.2h0M545.2 584.4h0M538.9 582.1h0M613.5 577.1h0M524.6 583.5h0M500.3 552.6h0M535.8 563.7h0M550.3 581.2h0M488.9 572.7h0M527.2 552.5h0M499.2 577.4h0M516.1 559.9h0M518.5 569.9h0M489.7 491.2h0M503.8 581.1h0M489.6 549.0h0M491.6 534.8h0M488.9 580.5h0M499.9 473.9h0M532.7 577.6h0M496.4 522.9h0M528.0 581.0h0M517.0 576.5h0M554.8 571.5h0M508.0 576.7h0M496.9 555.9h0M497.5 541.9h0M491.2 559.8h0M526.5 574.9h0M494.1 534.0h0M514.0 572.5h0M491.5 576.3h0M488.5 579.0h0M536.4 584.0h0M528.6 571.6h0M488.7 560.2h0M507.4 557.7h0M492.4 559.4h0M506.5 544.7h0M492.6 578.3h0M493.8 562.1h0M525.7 583.9h0M643.8 572.1h0M504.9 582.0h0M534.4 579.3h0M489.4 580.3h0M497.5 581.4h0M707.9 576.4h0M490.8 568.2h0M528.5 582.9h0M519.6 565.6h0M541.8 582.2h0M515.6 583.3h0M542.6 584.6h0M506.6 581.3h0M511.3 573.9h0M498.2 537.3h0M507.2 572.1h0M512.0 579.8h0M588.3 583.8h0M563.9 564.1h0M495.9 580.3h0M489.7 580.4h0M488.8 570.4h0M488.6 535.6h0M492.5 580.6h0M516.9 583.3h0M524.4 582.3h0M503.2 531.7h0M489.6 502.9h0M495.7 519.0h0M489.0 570.5h0M551.3 579.7h0M494.2 557.8h0M564.1 567.5h0M499.7 552.4h0M500.3 557.0h0M559.0 570.7h0M489.0 530.0h0M614.0 563.3h0M488.6 544.9h0M493.2 581.2h0M509.4 581.5h0M499.1 581.8h0M558.7 571.9h0M510.7 580.6h0M498.1 544.5h0M517.3 582.8h0M495.7 560.4h0M502.3 569.2h0M578.6 562.4h0M508.8 569.1h0M519.5 580.4h0M607.9 555.4h0M561.4 577.5h0"/>
<path d="M578.6 551.9h0M530.2 567.5h0M497.3 537.7h0M509.4 533.7h0M488.6 569.4h0M500.6 581.6h0M496.6 571.7h0M488.7 545.7h0M489.3 545.3h0M584.9 585.0h0M575.1 583.7h0M501.7 581.8h0M755.4 570.8h0M495.4 543.4h0M506.0 582.5h0M511.8 582.5h0M494.4 580.9h0M496.8 571.4h0M548.6 566.2h0M489.2 556.5h0M505.4 567.0h0M488.7 578.5h0M683.5 557.2h0M502.6 570.2h0M529.2 579.8h0M512.9 531.2h0M563.1 584.8h0M518.6 575.6h0M489.6 576.5h0M603.9 570.1h0M501.5 563.3h0M493.5 568.0h0M509.4 582.4h0M494.4 484.5h0M497.6 574.4h0M514.1 566.2h0M630.9 567.2h0M532.6 581.4h0M519.2 566.7h0M491.9 491.6h0M515.8 582.9h0M552.1 585.1h0M538.9 581.6h0M490.9 580.9h0M534.6 578.6h0M508.5 582.6h0M488.6 555.3h0M582.9 575.9h0M491.1 546.6h0M517.0 583.3h0M552.3 582.2h0M504.8 564.8h0M532.2 583.8h0M498.4 554.5h0M521.8 563.4h0M488.9 512.1h0M500.5 561.3h0M536.8 584.9h0M536.3 569.0h0M490.4 567.1h0M567.4 566.1h0M511.5 582.9h0M504.5 556.0h0M558.4 581.0h0M562.4 580.0h0M493.4 530.6h0M490.4 563.5h0M519.0 580.9h0M539.8 580.9h0M501.6 550.8h0M512.7 579.9h0M522.4 562.2h0M503.0 574.9h0M526.8 577.7h0M524.3 577.7h0M489.7 547.1h0M489.9 523.0h0M503.7 572.1h0M489.5 552.6h0M513.1 580.4h0M497.9 517.5h0M504.7 551.1h0M540.3 581.1h0M520.0 576.4h0M510.9 582.8h0M488.6 558.6h0M558.2 584.4h0M532.6 584.7h0M499.5 579.7h0M502.2 542.8h0M495.3 578.0h0M492.3 542.4h0M521.6 562.4h0M490.6 515.0h0M504.0 570.8h0M579.3 583.9h0M507.2 580.2h0M535.5 573.0h0M551.3 558.3h0M496.7 565.9h0M492.4 560.2h0M505.1 571.5h0M512.4 576.0h0M492.1 532.4h0M488.8 538.0h0M488.7 572.1h0M502.3 579.1h0M493.3 514.6h0M491.3 568.0h0M501.6 581.7h0M497.8 578.5h0M496.6 553.5h0M547.0 573.3h0M499.9 581.2h0M511.5 579.1h0M525.3 573.0h0"/>
<path d="M506.9 571.5h0M489.0 541.4h0M488.9 548.8h0M490.8 543.9h0M489.3 417.7h0M521.9 574.7h0M515.5 583.4h0M500.3 557.3h0M496.4 528.5h0M516.6 569.5h0M490.9 577.2h0M491.0 543.9h0M499.1 561.0h0M504.5 568.7h0M496.8 537.5h0M488.6 568.6h0M493.2 579.4h0M521.5 583.8h0M492.2 544.8h0M488.9 572.9h0M530.9 577.4h0M546.8 582.7h0M534.2 577.5h0M499.7 553.8h0M549.3 580.9h0M494.2 550.9h0M491.7 530.9h0M488.6 528.0h0M551.2 572.3h0M677.8 552.6h0M504.1 573.1h0M505.9 561.7h0M488.5 566.2h0M514.9 573.9h0M491.9 514.9h0M492.3 579.1h0M499.2 576.5h0M621.1 578.6h0M563.3 575.7h0M503.3 571.5h0M546.7 578.6h0M557.6 572.5h0M489.3 498.3h0M505.3 565.0h0M497.0 544.7h0M506.8 548.0h0M496.5 579.7h0M512.3 555.7h0M552.6 582.9h0M499.6 535.0h0M496.6 558.0h0M499.3 575.9h0M497.3 553.9h0M496.6 513.7h0M488.5 570.1h0M504.9 582.3h0M532.1 575.0h0M488.8 561.3h0M496.9 571.1h0M501.1 560.1h0M502.9 577.7h0M497.4 567.0h0M503.8 573.4h0M575.3 584.8h0M544.7 569.0h0M500.6 553.9h0M503.3 560.5h0M501.5 556.8h0M532.4 580.3h0M580.8 565.8h0M505.8 568.2h0M527.2 584.1h0M525.8 578.1h0M520.2 570.1h0M530.8 584.1h0M489.0 572.2h0M521.5 583.4h0M541.2 574.5h0M498.0 463.7h0M506.9 576.4h0M490.0 547.3h0M489.5 577.1h0M506.6 581.5h0M494.6 555.0h0M502.2 559.0h0M564.8 583.0h0M489.5 546.2h0M495.4 555.9h0M504.2 582.1h0M497.2 567.6h0M503.2 539.5h0M567.6 584.7h0M500.2 559.7h0M517.8 575.8h0M530.1 571.9h0M502.2 575.5h0M525.6 583.9h0M514.9 582.4h0M498.8 571.5h0M542.2 583.3h0M490.9 555.8h0M498.0 508.0h0M542.7 580.5h0M531.5 530.5h0M491.8 565.6h0M495.1 546.2h0M518.8 552.3h0M505.0 560.1h0M514.4 579.7h0M489.6 543.4h0M489.0 554.6h0M503.2 581.4h0M524.7 548.0h0M531.2 566.0h0M490.6 568.2h0M510.8 561.4h0"/>
<path d="M566.9 581.5h0M520.8 551.1h0M509.6 569.2h0M491.6 548.6h0M498.8 543.3h0M488.7 539.9h0M508.8 556.2h0M509.8 558.2h0M611.8 545.7h0M491.4 550.6h0M498.9 559.1h0M495.2 517.5h0M516.2 564.5h0M503.5 550.3h0M488.8 551.2h0M489.1 563.1h0M489.8 538.6h0M513.8 560.9h0M502.3 545.8h0M496.3 549.8h0M492.7 580.8h0M489.7 575.6h0M496.4 569.7h0M566.3 583.2h0M528.7 566.7h0M521.9 583.4h0M506.7 559.9h0M564.4 572.3h0M529.1 578.0h0M491.3 539.7h0M540.6 566.7h0M496.0 541.7h0M541.2 583.2h0M502.2 561.9h0M500.3 572.2h0M502.0 565.3h0M489.5 553.0h0M491.9 535.4h0M504.8 575.6h0M527.9 583.3h0M493.2 558.4h0M526.4 571.4h0M512.9 563.6h0M502.2 576.4h0M499.5 566.4h0M495.8 581.4h0M493.5 532.6h0M491.4 519.8h0M547.6 584.2h0M548.2 583.8h0M488.5 555.7h0M543.1 585.1h0M589.2 580.3h0M493.9 541.6h0M491.5 532.4h0M510.4 578.1h0M507.7 582.4h0M507.5 581.8h0M617.3 584.9h0M618.1 585.0h0M489.7 534.8h0M501.3 581.5h0M490.4 559.1h0M494.4 578.2h0M488.8 557.7h0M488.6 539.2h0M495.2 564.9h0M510.3 568.8h0M492.7 550.4h0M494.2 574.2h0M499.9 570.5h0M492.6 566.4h0M533.0 580.4h0M509.5 581.5h0M506.4 575.1h0M488.8 531.9h0M535.8 582.5h0M493.4 563.8h0M489.9 580.1h0M541.1 583.7h0M501.3 573.5h0M542.0 584.6h0M495.9 581.3h0M495.0 571.7h0M488.9 513.1h0M513.7 578.8h0M516.8 582.2h0M492.7 574.4h0M508.8 582.6h0M530.2 584.1h0M489.4 542.9h0M488.6 537.8h0M550.1 563.8h0M492.5 535.7h0M500.2 476.3h0M523.4 573.9h0M489.4 546.2h0M488.7 554.5h0M502.6 570.4h0M492.2 538.4h0M495.2 543.7h0M502.0 567.8h0M519.8 583.3h0M489.6 580.1h0M489.7 569.3h0M488.8 568.3h0M517.0 549.4h0M523.7 583.1h0M515.6 559.0h0M494.3 540.0h0M491.4 537.4h0M489.1 530.9h0M489.9 531.2h0M489.3 490.6h0M502.9 563.0h0M503.4 578.6h0"/>
<path d="M525.8 584.1h0M492.1 540.8h0M500.2 525.1h0M518.6 583.3h0M506.1 582.1h0M500.8 568.7h0M512.4 548.4h0M523.3 584.2h0M499.8 573.6h0M511.5 574.8h0M489.5 542.9h0M493.0 542.5h0M513.0 583.0h0M540.4 584.9h0M489.4 565.4h0M508.1 570.2h0M495.1 573.5h0M586.6 536.6h0M490.8 565.7h0M488.7 542.3h0M500.6 581.9h0M500.5 527.1h0M490.8 548.0h0M539.9 584.4h0M490.9 560.4h0M499.1 578.8h0M528.2 581.7h0M493.0 567.9h0M495.8 579.4h0M492.3 550.2h0M537.3 584.9h0M560.6 578.1h0M502.2 567.6h0M489.4 540.9h0M495.8 577.0h0M494.5 534.1h0M489.9 568.2h0M531.5 575.9h0M492.2 527.1h0M496.4 572.5h0M502.2 563.2h0M538.4 581.6h0M521.2 583.6h0M503.1 569.7h0M489.8 559.6h0M494.3 512.4h0M500.0 557.6h0M505.8 573.6h0M496.5 549.7h0M550.6 575.7h0M489.5 486.4h0M494.9 548.2h0M489.1 576.7h0M493.1 581.0h0M488.7 566.8h0M541.8 532.9h0M495.2 579.3h0M523.2 582.3h0M499.4 545.6h0M494.9 523.2h0M489.4 536.5h0M495.0 571.0h0M492.3 581.0h0M509.5 561.4h0M488.5 580.2h0M499.1 581.3h0M493.4 532.5h0M499.7 558.6h0M536.5 585.1h0M575.5 584.9h0M509.9 581.2h0M530.1 584.6h0M493.0 544.7h0M506.0 580.8h0M497.0 535.0h0M490.7 538.5h0M498.7 540.5h0M501.3 561.1h0M520.7 563.6h0M504.5 582.1h0M488.9 544.5h0M491.1 570.6h0M516.4 565.8h0M508.2 577.4h0M524.1 584.1h0M488.5 555.5h0M505.0 572.9h0M489.4 542.1h0M494.9 527.8h0M496.4 553.2h0M519.1 576.4h0M527.2 583.1h0M506.5 556.1h0M505.4 572.9h0M499.1 563.4h0M514.0 556.6h0M520.3 578.9h0M507.8 564.5h0M531.0 584.5h0M513.4 574.6h0M491.3 536.9h0M490.6 561.3h0M488.5 559.8h0M500.3 549.4h0M533.9 583.7h0M491.0 540.4h0M501.5 571.0h0M504.8 575.5h0M490.7 495.3h0M511.7 569.1h0M507.4 577.8h0M525.0 555.8h0M547.6 559.0h0M494.2 576.9h0M520.3 562.5h0"/>
<path d="M492.7 515.0h0M495.1 540.6h0M582.5 567.5h0M489.2 490.7h0M516.0 581.0h0M638.8 554.7h0M491.7 547.8h0M507.9 560.6h0M488.8 568.3h0M496.2 549.5h0M539.2 560.2h0M515.6 572.0h0M496.4 534.7h0M498.8 573.7h0M501.2 562.7h0M501.5 471.4h0M488.8 559.8h0M546.2 571.9h0M490.8 550.9h0M534.7 584.0h0M514.9 571.1h0M491.9 572.8h0M505.3 572.4h0M494.0 574.2h0M512.1 579.4h0M499.4 548.4h0M491.3 546.3h0M650.0 546.5h0M592.0 537.3h0M524.4 567.9h0M503.5 581.6h0M488.9 576.3h0M523.4 576.0h0M488.7 524.1h0M489.9 504.7h0M498.1 579.7h0M489.1 562.2h0M551.6 570.6h0M495.0 568.4h0M511.9 563.8h0M501.9 575.0h0M526.4 584.0h0M501.9 582.1h0M505.0 578.7h0M520.1 573.2h0M547.0 584.2h0M548.0 576.8h0M503.5 581.8h0M489.4 579.5h0M491.5 549.7h0M490.7 519.6h0M540.2 585.0h0M633.6 549.8h0M572.4 585.1h0M506.8 572.2h0M508.5 561.9h0M495.3 564.0h0M536.0 581.1h0M497.2 575.9h0M497.5 581.5h0M509.3 572.5h0M515.9 575.9h0M539.8 575.7h0M494.5 573.0h0M492.4 551.0h0M499.5 545.3h0M508.3 582.5h0M502.5 544.3h0M492.2 570.5h0M488.6 580.2h0M491.1 540.7h0M499.4 571.1h0M509.3 580.6h0M511.6 566.6h0M499.4 549.6h0M518.6 575.9h0M494.1 553.4h0M493.0 545.0h0M497.1 579.6h0M501.0 536.4h0M506.0 580.1h0M509.6 582.6h0M583.6 584.7h0M496.2 540.3h0M494.7 525.3h0M493.8 542.5h0M492.8 464.5h0M506.1 567.4h0M516.4 583.3h0M525.7 576.0h0M497.2 572.4h0M520.6 574.1h0M498.9 576.8h0M509.7 572.3h0M518.4 544.6h0M515.7 516.3h0M489.0 555.6h0M508.0 582.5h0M549.1 584.1h0M504.2 541.7h0M493.5 580.1h0M513.8 565.6h0M494.5 580.1h0M493.5 524.3h0M526.4 564.9h0M490.7 535.1h0M489.1 571.3h0M543.4 571.9h0M502.4 568.9h0M514.5 577.8h0M522.6 559.4h0M493.8 552.7h0M498.3 546.1h0M488.5 576.9h0M490.7 512.0h0"/>
<path d="M529.2 583.9h0M639.4 552.5h0M522.1 571.3h0M504.8 582.2h0M520.9 583.4h0M540.0 570.6h0M513.3 550.3h0M495.1 541.0h0M541.1 564.8h0M509.1 568.1h0M507.8 582.3h0M490.7 545.8h0M532.5 566.5h0M528.9 584.3h0M509.4 574.5h0M491.3 506.3h0M573.3 583.0h0M567.1 561.3h0M506.7 578.1h0M488.5 539.0h0M513.8 511.0h0M538.1 578.4h0M489.8 549.6h0M514.0 583.2h0M497.3 581.1h0M693.8 583.3h0M496.0 543.7h0M507.5 578.5h0M530.1 584.7h0M500.3 560.8h0M501.9 481.9h0M488.5 555.5h0M493.1 556.3h0M496.7 581.1h0M503.4 581.8h0M594.6 584.8h0M491.0 546.3h0M527.2 584.2h0M488.6 540.8h0M489.3 538.7h0M576.8 581.2h0M488.9 558.0h0M491.1 553.2h0M497.8 496.0h0M511.4 582.7h0M494.1 543.4h0M499.6 518.0h0M493.1 580.0h0M502.3 558.9h0M494.6 506.5h0M680.1 584.3h0M513.9 550.1h0M491.3 536.6h0M603.6 565.7h0M490.3 576.4h0M491.6 546.7h0M502.4 579.7h0M505.0 556.8h0M525.5 566.0h0M489.0 557.2h0M535.6 582.1h0M497.6 532.1h0M492.7 579.3h0M539.3 572.2h0M509.8 560.8h0M489.1 541.7h0M491.9 553.9h0M489.6 561.5h0M501.2 577.0h0M523.8 580.3h0M536.6 578.3h0M501.4 579.3h0M637.9 571.0h0M551.8 572.9h0M492.9 557.3h0M498.3 540.0h0M495.8 566.5h0M501.3 562.9h0M492.3 490.5h0M511.7 581.0h0M564.6 570.8h0M489.7 564.0h0M495.2 548.8h0M495.7 574.9h0M505.2 570.8h0M491.0 546.6h0M568.5 570.9h0M489.0 566.6h0M616.7 559.0h0M506.8 548.9h0M516.6 554.5h0M493.5 554.5h0M490.1 555.5h0M490.2 575.4h0M494.6 576.7h0M492.2 561.5h0M536.7 577.9h0M554.9 577.3h0M488.8 580.5h0M489.6 539.5h0M495.9 576.5h0M516.0 567.3h0M513.1 583.0h0M512.3 577.4h0M503.8 567.6h0M560.2 581.7h0M523.3 573.3h0M512.2 569.0h0M574.8 567.0h0M488.9 548.0h0M515.8 545.4h0M499.2 555.1h0M494.9 548.2h0M489.9 546.2h0M565.2 584.6h0"/>
<path d="M502.8 512.8h0M505.3 575.4h0M491.2 548.0h0M488.9 560.7h0M607.7 584.8h0M548.9 585.1h0M503.8 573.4h0M539.0 584.3h0M532.9 582.7h0M488.9 455.7h0M511.0 570.9h0M525.2 581.9h0M502.4 540.0h0M520.0 580.5h0M488.5 559.8h0M493.1 569.6h0M525.2 518.6h0M494.2 558.8h0M495.2 556.7h0M543.9 575.1h0M511.0 536.2h0M500.6 563.7h0M523.6 575.8h0M527.8 572.8h0M507.3 565.3h0M494.8 539.1h0M551.8 584.5h0M522.0 574.7h0M498.6 546.2h0M509.6 581.8h0M502.6 582.0h0M501.0 576.5h0M504.2 570.1h0M488.7 542.7h0M505.1 543.4h0M489.9 384.9h0M494.9 579.1h0M509.9 579.6h0M489.3 580.7h0M601.9 564.0h0M503.5 563.1h0M497.8 540.8h0M504.5 572.6h0M490.1 534.8h0M516.6 567.8h0M488.5 549.0h0M496.7 545.1h0M588.9 584.9h0M488.6 563.6h0M501.5 581.9h0M489.2 576.2h0M564.3 548.0h0M508.8 572.9h0M604.3 550.2h0M495.9 558.3h0M490.9 527.0h0M500.3 527.2h0M494.7 575.9h0M523.8 583.4h0M493.2 557.9h0M498.2 577.5h0M497.1 487.3h0M494.7 576.0h0M543.2 584.5h0M499.8 539.6h0M523.7 566.9h0M510.3 567.0h0M517.1 561.1h0M501.7 551.1h0M497.8 581.6h0M597.3 584.5h0M489.8 535.1h0M499.3 550.7h0M561.7 580.3h0M508.9 582.7h0M493.4 499.9h0M497.5 495.5h0M491.6 520.1h0M497.9 574.4h0M535.6 583.3h0M547.5 581.6h0M660.6 584.0h0M496.5 550.4h0M488.6 517.5h0M489.3 519.9h0M533.4 581.8h0M511.8 573.0h0M491.0 579.7h0M497.3 562.2h0M510.8 565.2h0M501.5 544.3h0M594.8 580.7h0M518.4 583.7h0M608.1 583.6h0M512.0 579.2h0M529.3 572.7h0M514.5 577.1h0M500.4 579.8h0M492.5 537.6h0M536.1 548.5h0M495.3 564.8h0M511.1 572.4h0M502.6 579.9h0M506.9 554.7h0M533.6 584.1h0M504.0 582.0h0M505.7 559.6h0M507.6 569.3h0M491.8 532.9h0M488.6 541.3h0M503.1 563.2h0M489.0 560.1h0M489.8 569.2h0M488.7 541.1h0M519.3 572.8h0"/>
<path d="M504.7 576.3h0M530.9 565.5h0M494.1 545.3h0M495.3 554.2h0M527.6 573.3h0M499.1 574.2h0M539.2 565.8h0M491.3 559.6h0M488.6 512.9h0M492.3 413.0h0M491.7 574.6h0M493.6 552.0h0M543.8 577.3h0M537.5 583.4h0M506.5 573.9h0M498.3 562.5h0M490.5 539.7h0M518.4 583.3h0M541.1 583.5h0M490.6 548.0h0M528.3 560.4h0M605.0 556.0h0M505.5 578.9h0M522.2 583.1h0M488.6 546.8h0M492.3 581.1h0M496.8 566.9h0M496.2 524.3h0M584.9 584.8h0M517.9 574.6h0M489.1 561.3h0M505.2 545.6h0M534.0 563.3h0M505.7 574.2h0M490.6 571.4h0M496.6 574.8h0M502.6 515.3h0M628.5 541.7h0M524.7 576.9h0M499.3 568.0h0M748.8 583.8h0M506.0 580.8h0M498.9 550.0h0M502.8 568.0h0M550.5 583.5h0M493.9 531.7h0M730.8 573.0h0M511.3 563.7h0M489.7 551.1h0M518.7 581.6h0M501.9 576.1h0M498.7 544.3h0M501.1 570.5h0M507.6 553.3h0M492.2 559.3h0M492.4 575.3h0M503.0 582.0h0M581.7 546.6h0M526.7 553.7h0M502.9 561.1h0M535.2 576.5h0M588.8 562.6h0M533.1 584.6h0M534.0 575.6h0M491.8 581.0h0M489.3 568.1h0M510.6 560.2h0M528.9 573.6h0M563.6 582.8h0M526.0 579.3h0M490.3 464.8h0M514.6 577.5h0M513.1 577.2h0M509.4 575.2h0M488.5 528.8h0M509.7 575.9h0M525.4 583.6h0M494.5 570.1h0M511.1 550.5h0M493.5 548.5h0M547.4 582.9h0M498.9 566.5h0M580.7 563.4h0M490.6 518.3h0M528.8 584.7h0M538.1 583.4h0M507.6 582.4h0M504.9 544.4h0M502.3 564.5h0M603.5 559.4h0M516.1 574.3h0M489.4 568.9h0M527.6 583.0h0M559.7 563.1h0M529.3 579.7h0M488.7 579.3h0M500.0 527.8h0M491.4 516.5h0M510.1 554.3h0M497.4 559.0h0M497.7 540.5h0M589.4 537.6h0M507.0 554.0h0M508.5 566.8h0M515.3 577.3h0M563.2 580.5h0M509.2 566.8h0M548.7 583.8h0M494.8 538.2h0M516.1 577.9h0M493.8 450.2h0M498.0 573.1h0M536.7 585.0h0M497.9 568.3h0M528.5 583.8h0"/>
<path d="M496.7 531.2h0M551.8 572.7h0M494.7 547.6h0M548.7 569.4h0M494.5 547.6h0M532.1 569.2h0M493.7 534.2h0M509.5 558.1h0M489.4 501.8h0M493.8 580.8h0M495.3 561.6h0M523.8 563.1h0M498.6 581.7h0M549.3 584.3h0M498.7 579.7h0M491.3 563.1h0M499.1 541.9h0M549.1 576.3h0M502.0 558.0h0M498.0 521.5h0M490.6 527.0h0M517.9 580.4h0M493.2 558.3h0M502.6 553.4h0M581.8 575.8h0M560.6 584.3h0M539.9 562.8h0M489.0 522.4h0M493.8 556.7h0M605.1 585.1h0M523.4 580.9h0M543.1 584.4h0M505.2 581.4h0M527.3 549.8h0M508.5 581.2h0M512.6 515.1h0M550.6 555.2h0M578.7 575.4h0M514.2 575.8h0M497.9 506.6h0M548.6 560.6h0M489.9 476.0h0M532.7 585.0h0M498.7 579.4h0M488.6 537.0h0M523.0 582.6h0M530.4 582.4h0M516.5 563.7h0M501.5 569.2h0M512.3 572.9h0M624.5 585.0h0M556.3 584.6h0M493.1 552.8h0M576.1 584.7h0M499.4 574.0h0M567.3 584.6h0M540.0 562.4h0M503.2 570.5h0M502.1 566.3h0M497.3 571.2h0M492.5 562.6h0M510.4 559.5h0M491.9 530.8h0M500.6 537.5h0M524.2 583.9h0M499.5 579.5h0M669.0 544.6h0M526.7 582.5h0M498.0 567.7h0M542.0 537.3h0M494.1 561.0h0M491.1 520.1h0M504.3 576.8h0M574.3 584.5h0M637.3 577.7h0M489.1 573.8h0M526.0 576.7h0M489.7 507.2h0M492.6 580.7h0M489.3 549.6h0M544.6 584.4h0M554.3 560.9h0M506.6 582.0h0M491.3 559.8h0M549.9 584.5h0M530.1 576.0h0M562.1 577.9h0M538.7 585.1h0M498.7 564.0h0M521.3 582.6h0M490.1 571.4h0M492.4 580.8h0M550.0 584.2h0M489.4 523.3h0M489.4 563.4h0M565.5 584.5h0M497.5 566.8h0M497.8 542.3h0M728.2 558.5h0M504.6 550.1h0M537.7 584.2h0M544.2 564.2h0M489.1 553.4h0M492.4 526.6h0M491.0 566.5h0M532.6 564.7h0M497.3 526.6h0M577.9 584.8h0M506.4 562.9h0M494.5 563.5h0M494.9 541.9h0M491.1 527.8h0M543.9 560.6h0M523.4 582.8h0M488.9 535.7h0"/>
<path d="M515.2 564.7h0M521.7 559.1h0M535.4 584.5h0M503.3 578.6h0M495.9 558.1h0M488.7 566.4h0M489.0 541.8h0M488.8 570.5h0M512.4 580.2h0M496.6 581.4h0M488.3 420.0h0M488.5 578.5h0M492.0 507.7h0M498.7 533.0h0M541.8 568.9h0M498.4 541.7h0M509.6 563.8h0M491.2 559.1h0M489.4 516.9h0M546.7 573.9h0M494.4 543.8h0M497.9 550.1h0M489.6 535.6h0M615.6 584.8h0M530.7 580.8h0M496.1 537.8h0M497.1 569.1h0M501.3 566.4h0M495.5 534.9h0M489.1 566.0h0M493.3 551.2h0M500.5 561.3h0M496.5 572.3h0M489.1 556.3h0M515.1 573.7h0M497.4 563.6h0M495.8 519.6h0M491.3 515.0h0M516.5 580.7h0M512.1 563.4h0M498.8 564.6h0M507.6 560.1h0M517.5 583.4h0M492.3 519.8h0M512.4 573.8h0M492.6 529.3h0M498.5 553.4h0M490.3 530.3h0M564.0 559.6h0M528.0 580.0h0M556.0 579.2h0M498.4 554.9h0M492.5 511.4h0M552.5 582.2h0M503.0 575.7h0M511.9 569.1h0M492.4 570.8h0M496.8 566.2h0M516.3 581.7h0M499.8 573.0h0M502.4 582.1h0M502.4 580.2h0M499.7 565.9h0M516.1 583.3h0M548.8 552.9h0M492.6 580.8h0M489.1 551.4h0M492.8 552.1h0M496.0 573.9h0M488.9 542.6h0M511.1 576.9h0M502.7 537.3h0M493.7 480.7h0M510.5 580.7h0M495.1 577.5h0M498.9 581.1h0M493.1 580.8h0M524.0 576.8h0M506.0 565.6h0M613.0 585.0h0M496.3 545.9h0M514.7 565.9h0M488.6 543.3h0M488.5 547.6h0M521.7 579.0h0M492.0 567.0h0M520.3 583.9h0M526.0 581.2h0M507.2 582.1h0M488.6 578.1h0M489.1 544.8h0M534.5 582.6h0M512.5 579.5h0M527.8 558.3h0M489.6 537.9h0M506.7 582.5h0M512.7 580.7h0M534.1 581.5h0M521.3 580.9h0M494.5 534.7h0M517.2 570.2h0M488.9 576.2h0M522.0 564.5h0M493.5 572.3h0M510.4 559.4h0M489.6 576.2h0M495.0 536.2h0M492.3 537.9h0M518.4 574.5h0M506.6 559.2h0M492.7 565.5h0M496.1 569.8h0M505.8 549.4h0M508.9 562.8h0M516.0 582.8h0"/>
<path d="M568.6 581.3h0M526.7 579.5h0M493.0 496.7h0M494.5 517.6h0M605.0 585.1h0M491.3 576.4h0M496.8 529.1h0M519.7 583.0h0M518.8 579.8h0M539.3 584.4h0M495.4 572.5h0M488.8 537.7h0M498.9 563.2h0M504.4 559.6h0M489.7 531.8h0M515.4 558.2h0M551.1 582.0h0M498.5 573.5h0M526.9 578.8h0M491.7 556.3h0M497.9 561.8h0M530.3 510.5h0M491.2 499.1h0M540.3 583.5h0M488.7 580.5h0M501.9 559.1h0M512.5 582.8h0M492.2 458.4h0M500.9 568.5h0M495.9 558.2h0M599.9 575.0h0M489.6 542.9h0M495.3 532.2h0M492.5 519.4h0M488.5 573.6h0M493.5 576.4h0M494.4 501.0h0M514.6 558.8h0M543.3 574.5h0M503.9 568.7h0M488.5 538.0h0M532.2 577.3h0M492.5 531.6h0M494.4 566.6h0M510.7 579.0h0M491.0 500.2h0M490.9 523.6h0M574.1 584.0h0M504.2 582.1h0M488.6 558.9h0M490.9 551.6h0M501.0 581.3h0M502.1 516.5h0M583.9 584.0h0M489.4 567.8h0M521.5 579.3h0M498.5 564.8h0M503.3 573.6h0M501.9 552.2h0M489.5 476.2h0M559.1 580.0h0M497.5 570.6h0M504.4 578.2h0M493.4 580.9h0M509.4 573.2h0M501.5 553.7h0M512.7 580.3h0M503.9 553.8h0M494.6 550.9h0M518.1 479.6h0M532.2 581.6h0M535.5 570.4h0M523.5 584.2h0M554.0 583.1h0M563.2 570.4h0M552.8 584.2h0M493.0 560.0h0M500.7 576.9h0M489.6 566.8h0M520.6 546.6h0M516.6 569.1h0M499.3 550.3h0M489.3 452.2h0M490.7 548.2h0M504.7 578.1h0M491.7 575.0h0M509.8 548.4h0M499.4 565.7h0M517.5 578.6h0M510.4 572.2h0M546.2 564.7h0M518.1 557.8h0M505.3 581.8h0M503.2 545.8h0M500.8 548.2h0M495.2 561.1h0M520.9 577.2h0M502.7 572.7h0M538.0 569.8h0M507.6 582.5h0M512.1 573.9h0M489.5 548.4h0M491.7 506.4h0M488.5 564.2h0M534.8 575.7h0M527.8 579.8h0M494.9 545.3h0M491.9 555.7h0M539.6 581.3h0M659.7 585.1h0M490.5 496.7h0M495.6 540.9h0M489.4 516.7h0M510.3 548.7h0M518.8 572.9h0"/>
<path d="M510.2 569.1h0M547.2 564.8h0M536.4 577.0h0M502.0 534.7h0M501.2 568.9h0M747.4 549.3h0M495.3 581.2h0M521.2 583.0h0M489.7 556.4h0M503.1 577.2h0M532.9 580.5h0M521.0 582.7h0M492.5 569.7h0M577.0 565.9h0M506.7 568.0h0M505.4 572.2h0M488.6 555.6h0M499.7 547.2h0M514.2 583.2h0M515.3 582.9h0M506.9 581.6h0M531.3 579.0h0M509.9 558.5h0M619.1 577.9h0M520.5 583.7h0M543.2 584.9h0M497.7 562.2h0M493.5 519.5h0M489.0 557.2h0M492.5 551.6h0M504.6 562.8h0M502.4 563.7h0M660.6 585.1h0M489.5 531.4h0M491.4 541.6h0M501.0 566.2h0M509.0 578.2h0M500.4 564.4h0M494.3 580.4h0M489.8 570.9h0M597.0 583.0h0M512.2 558.9h0M579.7 577.5h0M507.4 582.1h0M493.6 537.7h0M493.1 577.9h0M523.0 577.2h0M516.5 559.9h0M491.5 554.4h0M499.0 573.6h0M514.9 578.7h0M496.2 556.5h0M489.5 499.8h0M500.5 570.1h0M506.0 571.1h0M548.1 584.4h0M493.2 531.7h0M489.3 546.6h0M500.4 577.2h0M510.8 561.8h0M493.8 550.3h0M584.1 582.4h0M553.1 524.0h0M528.6 580.0h0M489.0 577.0h0M488.8 573.6h0M559.3 569.0h0M525.6 582.7h0M504.5 579.0h0M565.7 585.1h0M536.2 584.1h0M489.0 560.2h0M526.5 584.0h0M488.5 553.7h0M562.2 561.6h0M505.4 580.2h0M494.4 560.1h0M501.1 561.5h0M505.9 499.2h0M491.6 532.3h0M502.0 579.6h0M588.3 574.8h0M512.2 571.9h0M652.2 503.4h0M501.4 550.8h0M516.6 583.5h0M546.4 580.4h0M499.6 581.6h0M502.4 543.5h0M490.2 545.8h0M500.8 567.7h0M538.1 581.8h0M530.1 583.3h0M506.6 566.4h0M592.3 581.4h0M504.4 563.4h0M524.7 579.2h0M493.3 525.5h0M559.2 584.0h0M542.9 569.2h0M491.3 580.8h0M611.2 584.8h0M570.5 584.8h0M490.4 573.7h0M547.4 582.7h0M531.9 576.3h0M492.2 550.1h0M511.1 565.1h0M536.4 576.5h0M504.7 576.6h0M546.2 571.8h0M538.0 584.5h0M727.0 558.1h0M493.9 573.8h0M527.7 560.6h0"/>
<path d="M500.9 581.6h0M488.8 553.7h0M525.8 582.7h0M490.6 552.9h0M490.9 554.8h0M638.8 557.1h0M517.9 583.2h0M488.6 560.8h0M490.6 580.9h0M507.1 566.5h0M502.0 580.7h0M492.3 537.7h0M497.7 520.3h0M537.6 557.7h0M491.4 536.9h0M512.8 571.3h0M508.6 569.3h0M491.9 549.3h0M556.3 584.4h0M494.2 552.7h0M516.5 578.0h0M495.6 581.3h0M583.5 584.7h0M489.4 564.6h0M508.7 576.3h0M533.6 562.7h0M488.7 510.2h0M562.3 570.2h0M490.6 539.9h0M492.0 561.1h0M506.2 564.3h0M504.3 570.0h0M493.0 563.8h0M500.4 580.3h0M489.3 579.7h0M495.2 554.3h0M491.2 496.4h0M489.1 528.4h0M528.5 556.0h0M517.0 583.5h0M581.7 580.3h0M538.1 554.9h0M524.1 577.0h0M525.7 583.2h0M488.6 573.2h0M500.4 564.9h0M490.0 541.4h0M563.3 580.4h0M498.7 558.0h0M553.4 565.0h0M495.5 550.8h0M495.6 575.5h0M499.1 552.0h0M526.4 564.4h0M492.3 516.8h0M495.2 581.4h0M489.5 576.0h0M494.9 518.9h0M504.5 550.0h0M495.2 547.1h0M488.7 531.1h0M509.9 573.1h0M511.4 570.3h0M541.2 576.7h0M492.9 537.2h0M496.9 528.9h0M498.9 535.0h0M495.1 495.7h0M515.9 581.4h0M500.5 548.7h0M495.0 547.1h0M519.6 582.1h0M502.5 535.0h0M511.8 513.7h0M557.7 558.2h0M544.6 572.5h0M513.0 553.0h0M498.6 577.0h0M502.0 582.1h0M506.7 580.5h0M494.9 517.8h0M499.3 460.4h0M489.3 558.9h0M499.7 570.3h0M521.0 583.9h0M488.9 555.2h0M493.6 519.3h0M488.8 507.6h0M534.4 585.1h0M505.5 541.3h0M502.6 548.3h0M530.9 568.5h0M512.1 570.3h0M488.7 531.2h0M519.3 583.2h0M488.7 543.0h0M529.8 584.7h0M516.5 580.2h0M494.2 559.7h0M492.8 568.6h0M494.7 539.8h0M564.4 558.2h0M521.2 568.1h0M489.2 559.0h0M488.8 574.9h0M512.7 561.0h0M517.3 557.5h0M493.0 534.4h0M514.2 566.9h0M522.9 567.8h0M499.0 535.0h0M504.8 541.7h0M605.3 582.0h0M533.6 578.2h0M497.7 566.0h0"/>
<path d="M490.1 574.5h0M510.0 576.0h0M501.5 535.1h0M492.9 533.0h0M529.2 575.5h0M525.3 568.9h0M503.7 570.5h0M492.1 559.9h0M494.5 577.1h0M505.6 581.3h0M508.8 571.9h0M514.2 577.8h0M491.9 540.3h0M510.4 582.9h0M502.7 546.2h0M519.5 566.1h0M489.0 560.4h0M525.2 569.8h0M500.1 567.4h0M514.4 583.1h0M526.5 543.2h0M531.2 584.5h0M512.9 551.4h0M494.5 552.3h0M497.9 532.6h0M497.4 581.4h0M495.4 574.7h0M489.3 534.4h0M557.2 560.2h0M517.3 567.5h0M497.3 558.7h0M584.8 575.7h0M503.2 581.9h0M553.1 584.7h0M488.5 573.4h0M539.0 577.3h0M489.4 571.8h0M490.9 491.9h0M549.0 570.4h0M499.0 528.9h0M492.4 557.1h0M492.2 569.0h0M504.5 532.7h0M495.1 547.4h0M497.2 559.8h0M527.2 575.7h0M496.4 576.1h0M537.4 575.2h0M596.9 551.1h0M494.3 580.0h0M506.0 579.8h0M683.0 551.9h0M510.4 569.1h0M502.7 581.8h0M523.7 583.9h0M518.6 583.6h0M494.0 529.4h0M501.1 528.3h0M570.6 573.7h0M539.6 583.7h0M499.1 542.0h0M498.9 543.8h0M489.8 524.4h0M500.4 574.7h0M513.7 580.9h0M515.4 576.6h0M499.4 558.2h0M491.7 580.7h0M492.3 543.7h0M538.9 584.5h0M500.8 561.9h0M752.9 571.6h0M521.7 563.1h0M494.2 561.4h0M513.8 572.2h0M491.0 580.9h0M550.9 579.3h0M492.9 544.2h0M509.0 582.6h0M495.8 525.9h0M491.0 559.9h0M634.4 585.0h0M489.0 499.2h0M551.6 584.7h0M503.9 560.6h0M495.8 491.9h0M556.4 581.8h0M534.8 580.4h0M490.5 533.8h0M491.4 542.4h0M497.1 560.0h0M489.4 553.3h0M541.0 584.6h0M490.0 560.4h0M557.6 584.9h0M492.3 574.2h0M495.9 511.7h0M513.9 577.8h0M491.9 534.3h0M509.4 582.8h0M493.7 543.4h0M548.7 570.6h0M504.7 580.7h0M500.5 527.4h0M497.6 568.7h0M515.8 565.5h0M488.7 534.6h0M561.3 584.3h0M521.8 556.9h0M497.0 526.1h0M491.0 571.5h0M488.7 579.2h0M534.3 580.3h0M493.1 542.7h0M507.6 575.4h0"/>
<path d="M549.1 576.5h0M496.6 548.2h0M550.3 584.9h0M607.8 558.5h0M569.6 564.9h0M517.1 549.9h0M526.6 584.5h0M491.0 529.2h0M516.9 567.8h0M497.5 579.6h0M513.7 569.0h0M493.9 556.1h0M493.7 567.8h0M494.8 522.0h0M488.8 552.2h0M489.4 542.6h0M496.2 563.4h0M495.2 551.5h0M515.4 579.3h0M493.3 564.1h0M505.5 566.0h0M497.2 574.9h0M494.3 578.9h0M507.5 551.2h0M501.4 565.1h0M497.2 572.8h0M511.0 572.2h0M505.2 581.8h0M519.3 582.7h0M501.1 552.3h0M554.3 562.5h0M521.9 584.0h0M498.2 484.3h0M510.1 537.2h0M528.4 569.5h0M546.8 584.5h0M541.2 554.7h0M512.1 543.8h0M495.2 535.2h0M495.3 576.6h0M497.8 569.8h0M500.7 581.1h0M491.3 578.7h0M520.7 545.2h0M510.1 582.1h0M505.7 571.1h0M497.3 550.0h0M551.6 583.9h0M489.3 541.3h0M513.5 575.8h0M563.8 584.8h0M547.1 567.8h0M501.5 540.4h0M560.0 577.4h0M509.2 557.9h0M488.5 566.7h0M687.2 547.2h0M501.8 581.1h0M497.6 445.7h0M504.3 576.5h0M491.2 480.8h0M517.0 583.4h0M495.2 565.5h0M493.0 542.6h0M493.7 566.8h0M494.7 577.9h0M529.5 566.6h0M523.5 584.0h0M547.1 573.1h0M508.1 582.6h0M489.5 540.0h0M494.3 499.7h0M514.4 579.9h0M525.5 571.5h0M509.0 571.6h0M520.2 579.8h0M494.8 551.1h0M491.4 525.5h0M488.6 556.4h0M549.9 582.4h0M490.9 545.0h0M501.2 563.4h0M584.9 585.0h0M556.1 582.0h0M529.2 584.5h0M541.5 584.3h0M603.6 553.1h0M532.9 567.8h0M503.1 549.4h0M492.6 566.1h0M499.4 554.1h0M489.6 538.2h0M490.2 544.2h0M494.5 571.3h0M545.8 584.5h0M557.9 584.8h0M502.8 573.5h0M507.1 581.7h0M488.9 580.3h0M510.0 578.2h0M491.8 534.0h0M488.8 580.6h0M491.7 548.5h0M516.1 583.4h0M490.2 479.8h0M505.5 575.0h0M498.5 580.5h0M493.3 566.3h0M511.4 582.0h0M537.9 584.5h0M514.4 567.9h0M494.3 521.0h0M493.0 531.9h0M503.1 564.3h0M513.5 582.8h0"/>
<path d="M495.0 528.4h0M490.6 572.8h0M490.9 578.7h0M488.7 503.4h0M500.5 581.8h0M511.2 575.9h0M508.4 572.3h0M528.3 529.4h0M501.8 577.2h0M511.2 578.2h0M508.8 548.9h0M501.1 575.6h0M511.3 575.2h0M551.6 556.6h0M514.7 582.9h0M539.5 575.8h0M506.7 582.1h0M545.1 583.5h0M550.7 573.3h0M542.9 578.3h0M498.6 559.2h0M521.5 583.8h0M623.2 563.1h0M501.8 581.8h0M489.7 552.4h0M500.5 581.8h0M490.1 554.3h0M541.7 578.3h0M504.2 581.9h0M489.1 562.5h0M495.2 581.3h0M639.2 570.9h0M537.4 580.8h0M526.3 577.0h0M565.2 581.1h0M536.0 583.7h0M488.9 574.3h0M502.1 581.8h0M595.7 557.7h0M496.6 544.8h0M489.0 496.0h0M492.7 537.9h0M530.6 542.1h0M492.6 526.4h0M544.4 582.1h0M497.7 552.8h0M504.9 580.6h0M488.5 558.9h0M540.8 584.7h0M494.4 540.6h0M490.9 520.5h0M489.1 574.5h0M490.8 558.5h0M491.0 541.6h0M526.8 584.6h0M492.3 563.1h0M498.3 581.4h0M501.4 558.1h0M500.3 581.7h0M507.1 571.9h0M506.8 562.6h0M501.8 552.3h0M491.4 537.8h0M546.9 572.7h0M488.6 560.4h0M489.4 539.1h0M489.1 570.3h0M497.7 546.4h0M505.2 576.2h0M556.9 557.6h0M494.4 547.4h0M502.5 582.0h0M529.2 579.3h0M523.2 579.5h0M505.8 548.8h0M551.2 572.2h0M489.6 539.8h0M488.6 577.0h0M502.6 542.5h0M490.7 541.1h0M508.4 581.9h0M518.5 563.6h0M493.8 566.4h0M516.6 583.4h0M501.2 558.8h0M493.8 559.0h0M560.3 583.6h0M518.4 580.1h0M495.1 526.8h0M488.6 563.7h0M682.8 579.3h0M528.7 582.5h0M532.6 584.6h0M494.3 548.6h0M542.6 580.4h0M573.7 581.8h0M514.2 582.9h0M489.9 580.3h0M519.1 552.6h0M492.5 531.8h0M503.5 582.1h0M522.8 582.7h0M496.0 556.2h0M512.3 534.3h0M524.2 563.3h0M488.7 579.7h0M498.2 564.0h0M494.7 533.5h0M534.7 551.8h0M495.3 568.3h0M489.3 540.9h0M489.1 529.8h0M488.9 566.1h0M489.7 575.7h0M497.7 544.4h0"/>
<path d="M492.6 543.5h0M508.1 573.5h0M540.5 572.1h0M489.5 525.7h0M511.7 582.7h0M490.0 580.6h0M552.5 516.9h0M489.1 542.6h0M494.1 493.6h0M489.0 551.9h0M538.7 581.6h0M489.1 489.6h0M488.9 544.6h0M492.2 548.1h0M569.2 571.1h0M553.5 558.7h0M508.8 580.2h0M488.6 538.8h0M584.9 547.5h0M492.5 534.6h0M492.8 573.5h0M503.6 560.2h0M494.1 497.3h0M488.8 502.1h0M488.5 580.0h0M540.6 583.4h0M497.7 548.5h0M511.9 582.7h0M503.2 560.2h0M543.4 545.9h0M581.3 584.7h0M498.0 581.6h0M488.5 573.6h0M488.7 549.1h0M509.1 576.9h0M489.3 499.4h0M488.7 580.1h0M529.3 572.9h0M489.6 555.5h0M512.7 543.1h0M492.3 553.4h0M489.9 576.8h0M571.1 581.8h0M490.7 528.4h0M517.4 582.5h0M493.7 529.6h0M508.5 573.7h0M497.8 581.6h0M556.2 582.4h0M504.9 560.9h0M489.2 483.7h0M519.1 581.4h0M497.6 551.3h0M539.4 537.9h0M540.5 568.6h0M495.3 501.3h0M535.5 582.8h0M494.8 533.2h0M518.5 565.8h0M489.2 537.3h0M491.8 532.0h0M496.0 579.5h0M490.3 562.1h0M518.3 548.1h0M499.4 530.8h0M506.8 582.3h0M509.2 567.7h0M488.8 554.7h0M506.6 561.3h0M488.6 567.2h0M489.8 564.3h0M493.1 521.3h0M492.4 567.1h0M491.4 502.9h0M554.8 562.1h0M505.5 497.5h0M509.0 580.2h0M512.1 552.2h0M493.7 538.5h0M550.8 580.0h0M505.1 572.2h0M518.6 580.5h0M489.0 578.5h0M493.3 515.6h0M514.3 578.8h0M509.9 580.8h0M490.1 461.2h0M548.9 585.1h0M543.6 565.3h0M496.8 581.0h0M681.9 564.2h0M570.7 564.9h0M543.4 584.6h0M494.3 556.0h0M512.7 580.1h0M515.4 569.6h0M488.6 579.8h0M489.0 552.3h0M497.0 580.8h0M500.7 579.6h0M543.0 575.2h0M490.2 536.3h0M497.7 546.9h0M504.9 572.0h0M518.5 583.6h0M501.2 553.3h0M490.0 540.3h0M505.1 581.0h0M522.6 568.3h0M526.7 567.7h0M518.3 578.8h0M537.6 570.2h0M490.5 525.1h0M488.9 557.3h0M759.9 584.3h0"/>
<path d="M488.7 556.1h0M496.0 505.4h0M506.4 545.2h0M510.9 578.6h0M501.7 581.8h0M497.4 551.0h0M538.7 581.6h0M591.5 584.8h0M523.3 563.0h0M489.2 539.4h0M497.4 570.9h0M531.9 584.3h0M489.1 558.8h0M558.8 583.7h0M504.7 582.0h0M491.9 552.0h0M514.5 560.3h0M505.4 569.1h0M595.3 584.0h0M506.5 576.1h0M498.0 581.7h0M501.7 572.9h0M543.5 538.6h0M532.4 571.6h0M497.3 581.6h0M499.1 565.6h0M519.2 575.8h0M534.8 583.8h0M528.2 584.1h0M506.4 582.0h0M522.9 570.5h0M494.5 553.8h0M564.7 582.8h0M489.5 497.0h0M498.9 576.6h0M543.7 584.5h0M531.7 570.5h0M498.8 579.6h0M492.2 560.3h0M501.9 580.4h0M504.8 567.0h0M517.7 575.0h0M501.1 569.3h0M491.1 579.7h0M507.1 581.6h0M488.5 567.6h0M493.9 548.3h0M488.7 579.4h0M499.9 551.5h0M518.2 573.8h0M492.7 535.7h0M508.6 575.7h0M506.9 540.5h0M490.2 516.2h0M488.5 580.7h0M496.4 564.3h0M511.0 582.4h0M496.6 581.5h0M495.4 581.0h0M501.4 575.5h0M515.5 573.7h0M502.0 568.3h0M521.9 581.1h0M499.0 541.5h0M548.6 569.9h0M503.9 542.0h0M489.8 434.5h0M496.5 565.2h0M500.5 504.3h0M493.3 487.8h0M509.9 564.8h0M531.1 573.1h0M509.1 560.2h0M496.9 566.3h0M545.2 583.1h0M516.8 583.3h0M513.1 575.1h0M531.5 583.5h0M496.5 567.6h0M499.5 556.6h0M493.2 572.1h0M492.4 566.6h0M503.5 559.6h0M503.6 572.3h0M497.9 570.8h0M523.3 582.3h0M489.6 536.7h0M540.4 578.6h0M758.7 562.6h0M491.4 541.8h0M509.7 563.4h0M599.7 584.8h0M540.2 572.7h0M513.8 583.3h0M489.5 558.7h0M527.2 563.5h0M532.7 582.7h0M496.2 555.6h0M529.8 575.0h0M488.7 555.3h0M553.0 567.6h0M500.4 568.6h0M489.1 571.3h0M497.7 564.6h0M505.2 582.4h0M489.7 498.8h0M547.9 579.4h0M489.1 580.6h0M502.6 548.6h0M553.7 573.3h0M498.2 552.1h0M489.1 578.1h0M491.6 545.2h0M530.7 580.2h0M519.9 583.5h0"/>
<path d="M494.3 550.5h0M506.1 581.8h0M521.5 574.6h0M497.0 576.0h0M564.9 565.2h0M488.6 573.3h0M488.6 562.2h0M488.6 545.0h0M496.1 570.6h0M518.6 583.3h0M556.2 577.9h0M503.4 576.7h0M514.6 540.3h0M521.5 580.0h0M500.4 576.4h0M690.1 562.3h0M499.5 538.5h0M502.8 581.6h0M554.1 578.6h0M728.4 573.0h0M492.2 533.6h0M509.1 575.9h0M508.1 553.5h0M498.9 579.8h0M493.6 527.2h0M500.0 528.6h0M522.6 583.7h0M518.2 581.2h0M490.2 560.2h0M542.9 584.5h0M516.4 579.0h0M496.7 550.2h0M509.2 570.4h0M508.2 580.7h0M517.8 583.0h0M492.5 566.0h0M488.7 542.4h0M583.6 582.9h0M493.9 496.2h0M494.3 580.5h0M500.3 528.9h0M492.2 580.3h0M545.9 585.0h0M497.8 581.7h0M589.9 556.6h0M499.9 574.2h0M488.6 563.2h0M510.3 548.5h0M524.8 581.2h0M501.9 539.3h0M504.7 575.3h0M491.7 537.7h0M582.4 584.8h0M502.7 581.2h0M500.1 549.5h0M495.0 514.5h0M502.1 572.8h0M513.1 554.1h0M497.7 531.1h0M490.5 571.9h0M513.1 566.9h0M531.7 583.2h0M488.9 542.9h0M512.4 579.9h0M541.0 584.7h0M530.5 537.5h0M497.6 567.0h0M537.6 580.4h0M504.0 559.6h0M492.0 507.2h0M493.9 581.3h0M489.3 568.8h0M496.5 488.7h0M492.4 575.9h0M488.7 527.0h0M500.7 572.1h0M505.3 575.9h0M489.0 530.6h0M493.7 543.8h0M491.5 508.4h0M499.8 547.5h0M502.6 525.6h0M489.2 580.2h0M496.0 564.7h0M500.5 551.1h0M496.7 573.4h0M619.0 565.1h0M496.8 581.5h0M532.8 585.0h0M502.9 558.7h0M496.8 557.9h0M507.0 571.0h0M503.3 582.0h0M489.3 577.8h0M498.9 542.9h0M505.0 569.9h0M522.3 578.5h0M492.8 562.1h0M505.6 561.5h0M496.7 542.5h0M523.9 583.8h0M517.8 574.3h0M492.8 554.6h0M531.9 560.6h0M503.8 582.3h0M495.4 567.3h0M504.2 556.8h0M491.8 535.1h0M520.8 583.1h0M495.4 506.4h0M490.1 566.0h0M515.8 561.9h0M489.3 580.6h0M583.5 585.1h0M492.7 569.2h0"/>
<path d="M504.8 568.3h0M492.8 580.6h0M499.8 551.1h0M507.2 552.6h0M510.8 552.1h0M546.6 584.4h0M550.2 584.7h0M518.1 581.9h0M510.5 532.6h0M500.0 564.2h0M499.3 541.4h0M510.6 551.6h0M511.5 582.7h0M536.2 577.6h0M504.0 564.9h0M497.9 545.6h0M501.4 577.5h0M488.6 532.1h0M488.9 499.7h0M518.8 570.9h0M516.3 579.5h0M538.6 583.7h0M522.2 582.3h0M488.6 569.9h0M494.2 551.8h0M500.6 581.8h0M517.8 578.6h0M498.9 561.4h0M505.9 558.7h0M500.6 570.5h0M571.6 561.5h0M566.1 583.8h0M500.3 513.6h0M530.1 584.6h0M497.1 559.5h0M512.8 568.5h0M493.7 580.9h0M488.9 557.3h0M489.1 578.6h0M490.4 544.8h0M581.3 580.3h0M503.4 561.9h0M501.4 570.0h0M488.5 549.5h0M510.0 575.5h0M492.4 543.1h0M494.3 525.6h0M539.6 585.1h0M497.0 530.7h0M713.7 583.7h0M493.2 536.3h0M496.3 538.0h0M495.7 494.3h0M521.8 575.7h0M530.0 539.6h0M512.3 582.6h0M497.9 538.1h0M504.9 570.7h0M497.4 578.3h0M499.4 577.4h0M492.5 568.0h0M511.8 541.5h0M503.4 580.6h0M500.2 487.7h0M499.5 552.4h0M505.5 564.2h0M510.2 569.5h0M495.6 507.4h0M496.6 569.7h0M493.8 560.6h0M498.8 579.9h0M515.6 578.0h0M510.2 571.7h0M493.8 555.6h0M500.9 574.1h0M503.2 556.4h0M614.4 584.7h0M494.6 550.0h0M511.2 547.2h0M490.8 570.5h0M530.0 569.9h0M537.6 570.8h0M524.7 573.3h0M501.4 548.5h0M528.4 582.5h0M512.6 580.9h0M498.6 541.2h0M497.7 540.7h0M504.3 530.8h0M706.2 583.0h0M506.8 566.1h0M508.8 561.6h0M536.2 584.5h0M536.7 568.6h0M526.6 582.5h0M552.4 477.3h0M500.4 505.4h0M491.3 562.0h0M490.1 536.0h0M594.1 558.9h0M511.0 565.9h0M527.2 580.6h0M684.5 560.5h0M541.4 584.8h0M542.6 582.6h0M557.4 563.7h0M499.7 553.7h0M527.1 558.6h0M510.8 582.5h0M498.4 581.7h0M497.0 577.8h0M492.8 551.3h0M495.5 572.9h0M497.2 563.3h0M502.8 541.9h0"/>
<path d="M489.2 561.9h0M491.8 556.7h0M491.8 535.0h0M488.5 570.8h0M495.1 526.3h0M492.6 567.9h0M488.6 544.2h0M512.5 574.3h0M510.8 582.9h0M515.3 539.4h0M496.0 561.3h0M534.1 584.7h0M494.5 547.4h0M499.9 571.9h0M499.7 565.1h0M495.5 571.1h0M531.4 582.4h0M488.8 571.1h0M512.5 583.2h0M490.2 576.7h0M502.3 577.5h0M492.9 545.5h0M490.2 580.8h0M501.6 552.4h0M512.9 571.9h0M706.8 569.9h0M528.0 576.2h0M519.5 575.6h0M541.0 584.6h0M530.5 574.2h0M502.0 552.5h0M488.7 565.4h0M536.5 549.2h0M496.4 568.3h0M556.8 584.5h0M488.9 536.0h0M503.3 567.1h0M489.4 511.8h0M501.2 581.2h0M503.9 580.9h0M543.0 575.6h0M595.4 577.7h0M493.7 565.3h0M501.6 545.4h0M489.1 517.5h0M492.3 489.7h0M490.6 544.7h0M556.4 584.8h0M497.2 521.8h0M577.2 585.1h0M512.3 518.0h0M491.9 536.9h0M492.3 554.5h0M525.1 580.4h0M521.6 577.3h0M488.7 545.8h0M494.6 537.4h0M501.9 581.8h0M493.3 572.8h0M533.3 579.7h0M500.3 576.4h0M572.5 583.1h0M491.5 551.8h0M525.1 584.3h0M518.2 583.2h0M494.0 573.6h0M543.1 576.9h0M503.9 576.8h0M492.1 518.3h0M496.0 559.0h0M506.3 559.1h0M508.4 574.2h0M488.8 549.5h0M495.7 544.1h0M527.3 547.3h0M544.7 582.9h0M488.5 565.2h0M489.5 566.0h0M502.9 537.8h0M495.5 550.0h0M514.7 565.3h0M491.2 565.0h0M518.6 582.1h0M489.0 571.5h0M489.1 558.4h0M489.0 579.0h0M491.7 510.9h0M491.3 548.5h0M584.8 584.8h0M497.5 550.3h0M535.9 583.1h0M493.4 557.3h0M497.7 581.5h0M494.7 575.4h0M507.7 552.7h0M518.7 548.2h0M551.5 576.0h0M503.4 582.1h0M543.2 540.5h0M488.9 580.5h0M498.1 540.0h0M535.7 578.4h0M493.9 552.0h0M502.8 569.5h0M489.1 551.1h0M510.2 568.8h0M575.1 584.5h0M511.2 570.5h0M495.9 547.5h0M490.1 480.9h0M504.5 571.2h0M516.8 583.1h0M490.3 519.8h0M498.2 556.1h0M558.6 576.4h0"/>
<path d="M582.6 562.9h0M542.9 582.1h0M621.7 575.0h0M490.1 577.0h0M490.6 540.5h0M499.4 527.3h0M518.3 583.7h0M499.8 555.4h0M494.3 547.8h0M522.7 583.3h0M490.3 552.2h0M559.3 575.5h0M521.4 551.3h0M525.3 584.0h0M489.6 576.0h0M562.6 580.8h0M498.2 549.2h0M504.6 568.5h0M543.3 566.6h0M489.2 528.0h0M582.5 583.6h0M488.5 545.3h0M530.2 551.9h0M490.4 508.9h0M512.6 582.6h0M528.5 577.7h0M489.6 558.3h0M508.2 582.0h0M489.4 539.9h0M509.0 575.3h0M547.8 583.2h0M511.6 563.1h0M496.8 574.4h0M495.0 535.7h0M517.5 571.8h0M494.2 538.9h0M488.6 555.2h0M555.0 582.3h0M527.4 572.0h0M527.0 584.1h0M496.6 564.8h0M512.2 571.0h0M574.3 553.5h0M490.2 577.4h0M529.4 571.0h0M491.9 580.8h0M518.0 569.6h0M519.6 573.3h0M489.2 567.1h0M499.3 568.6h0M504.3 575.6h0M500.2 565.4h0M493.7 505.6h0M491.4 553.8h0M517.1 576.1h0M499.2 581.5h0M495.1 508.9h0M494.2 521.7h0M493.0 504.3h0M489.6 570.3h0M506.1 577.3h0M501.9 533.4h0M493.5 574.2h0M493.2 511.0h0M514.4 580.5h0M524.0 580.9h0M506.6 582.4h0M513.0 564.2h0M514.5 551.5h0M489.2 542.6h0M546.4 578.6h0M497.2 555.0h0M489.7 580.6h0M490.9 544.2h0M488.9 576.4h0M690.1 568.9h0M496.8 577.9h0M497.8 560.7h0M527.3 583.3h0M531.4 584.1h0M599.8 568.1h0M564.6 583.1h0M514.5 582.5h0M489.1 563.1h0M500.1 552.0h0M513.6 582.6h0M675.0 583.3h0M489.2 537.8h0M546.6 566.4h0M491.5 557.1h0M529.6 582.5h0M499.6 564.2h0M492.1 581.1h0M500.9 572.0h0M494.7 568.0h0M491.4 581.0h0M498.1 573.8h0M492.1 487.1h0M569.6 562.5h0M489.7 566.7h0M515.9 560.8h0M574.0 582.2h0M489.1 501.8h0M493.7 522.1h0M494.6 573.4h0M529.7 557.5h0M511.9 582.9h0M539.7 552.9h0M518.1 577.2h0M643.0 546.8h0M523.8 576.7h0M508.4 575.3h0M495.3 563.4h0M495.7 558.7h0M491.3 541.4h0"/>
</g>
<g fill="none" stroke="#000" stroke-opacity="0.28" stroke-width="3.0" stroke-linecap="round">
<path d="M504.1 879.5h0M498.8 909.3h0M487.8 925.2h0M490.3 874.9h0M488.4 904.8h0M498.9 840.2h0M508.4 923.6h0M494.7 835.8h0M510.3 914.9h0M487.8 915.5h0M490.4 876.5h0M496.5 923.9h0M515.6 917.7h0M502.2 859.7h0M499.6 903.8h0M494.2 899.4h0M490.5 911.6h0M495.3 918.3h0M489.5 930.4h0M514.5 907.2h0M505.7 918.2h0M488.2 903.1h0M503.6 918.4h0M491.5 883.9h0M499.2 903.2h0M489.9 892.4h0M523.9 906.8h0M531.7 896.4h0M500.6 894.7h0M492.0 920.7h0M488.0 904.0h0M488.6 901.5h0M489.0 915.2h0M503.1 927.1h0M503.7 883.0h0M499.8 863.0h0M498.9 921.5h0M493.7 907.6h0M498.4 879.8h0M502.5 856.3h0M491.4 880.6h0M499.7 921.5h0M494.7 900.8h0M489.6 899.4h0M499.2 907.6h0M488.2 913.4h0M500.3 824.0h0M492.7 901.1h0M514.6 889.2h0M506.0 909.2h0M495.3 927.5h0M494.7 885.0h0M527.8 910.0h0M503.0 896.2h0M578.5 909.3h0M519.3 909.5h0M488.9 929.2h0M493.2 893.6h0M739.6 882.7h0M500.1 902.8h0M489.7 902.8h0M495.6 920.3h0M489.8 885.4h0M502.8 845.3h0M532.5 915.1h0M488.3 921.9h0M501.5 904.4h0M502.9 926.4h0M490.0 922.8h0M491.2 892.8h0M521.3 888.7h0M595.7 905.2h0M490.8 897.2h0M488.3 920.3h0M489.7 929.2h0M493.5 891.6h0M496.6 859.7h0M492.1 908.4h0M491.4 929.1h0M495.3 856.0h0"/>
<path d="M490.9 912.4h0M498.8 858.7h0M516.0 904.9h0M488.3 912.5h0M488.1 916.2h0M488.8 891.0h0M487.4 925.2h0M504.8 872.1h0M491.5 922.5h0M501.0 922.4h0M505.9 888.4h0M499.0 840.0h0M532.2 886.1h0M500.3 881.0h0M488.1 928.2h0M503.0 911.5h0M488.3 928.7h0M502.2 928.7h0M488.6 897.9h0M490.6 929.7h0M496.5 898.9h0M497.8 887.8h0M503.7 889.8h0M488.9 908.4h0M492.6 909.5h0M502.2 916.5h0M495.4 893.5h0M511.6 863.6h0M499.2 909.6h0M489.7 879.8h0M500.2 881.3h0M510.7 783.0h0M524.8 812.1h0M497.5 895.4h0M496.5 927.4h0M494.2 928.9h0M488.0 906.7h0M503.4 909.9h0M559.8 897.0h0M495.7 921.9h0M505.3 882.2h0M487.2 926.8h0M504.6 878.0h0M497.5 897.5h0M497.3 926.2h0M495.9 893.9h0M490.6 897.7h0M502.2 890.9h0M488.4 928.0h0M488.9 886.9h0M488.3 914.5h0M488.4 893.4h0M495.9 912.9h0M496.3 893.5h0M494.4 918.0h0M491.1 876.5h0M498.1 865.1h0M488.8 891.0h0M493.9 847.9h0M487.5 921.0h0M497.4 922.8h0M487.8 908.6h0M491.3 883.4h0M488.6 921.6h0M496.4 909.3h0M495.6 927.1h0M498.5 873.6h0M494.2 877.5h0M488.3 907.0h0M520.4 919.3h0M490.9 931.1h0M497.1 909.7h0M490.0 864.2h0M489.8 928.5h0M520.8 843.1h0M500.1 904.2h0M489.0 878.9h0M494.0 889.2h0M577.0 901.7h0M488.3 931.4h0"/>
<path d="M490.9 899.2h0M492.3 884.2h0M490.2 890.6h0M492.4 919.8h0M571.6 902.6h0M491.9 902.7h0M487.7 927.5h0M500.6 924.2h0M493.1 875.9h0M491.5 927.9h0M521.6 895.9h0M508.6 913.7h0M492.1 837.5h0M487.6 918.2h0M489.5 929.3h0M492.6 896.2h0M495.8 905.0h0M509.0 913.5h0M501.1 879.2h0M502.3 908.0h0M489.6 930.9h0M498.9 889.0h0M501.0 884.0h0M498.6 914.8h0M487.9 911.5h0M487.1 931.9h0M494.6 900.0h0M489.3 920.4h0M507.6 917.3h0M517.1 852.3h0M488.9 881.1h0M494.8 899.3h0M510.5 921.2h0M500.1 921.6h0M489.0 931.1h0M487.7 916.7h0M491.3 924.2h0M565.4 892.2h0M493.4 909.2h0M651.1 902.3h0M524.6 885.9h0M496.9 914.3h0M487.5 925.0h0M487.7 920.4h0M500.2 876.7h0M502.7 866.8h0M489.2 892.3h0M514.7 923.8h0M501.3 875.9h0M511.2 890.1h0M495.6 919.3h0M487.0 931.9h0M503.0 910.6h0M528.2 899.5h0M488.3 916.3h0M523.5 901.7h0M529.5 900.5h0M493.9 834.6h0M504.4 917.7h0M593.4 912.8h0M489.4 891.5h0M490.4 887.0h0M488.3 931.5h0M540.9 917.5h0M495.9 918.0h0M517.8 891.2h0M489.3 888.1h0M488.4 924.6h0M505.5 896.9h0M488.2 928.5h0M512.4 889.1h0M487.6 919.7h0M487.1 931.8h0M495.8 921.1h0M488.6 931.6h0M496.9 832.1h0M487.5 924.9h0M488.1 916.9h0M498.5 887.0h0M487.9 925.5h0"/>
<path d="M499.5 908.8h0M499.6 921.8h0M527.6 911.4h0M554.9 912.5h0M503.0 908.5h0M493.2 864.1h0M489.1 896.1h0M499.9 897.9h0M492.5 869.4h0M514.4 911.5h0M491.7 878.2h0M497.1 905.8h0M532.2 901.2h0M500.7 902.7h0M495.5 902.8h0M539.4 896.3h0M491.4 913.0h0M494.8 914.3h0M502.4 915.0h0M497.3 917.2h0M493.1 876.4h0M489.5 889.0h0M489.1 906.7h0M566.1 907.6h0M491.7 912.6h0M488.7 927.6h0M488.0 931.3h0M515.5 883.9h0M488.4 927.0h0M503.7 908.3h0M520.5 905.8h0M495.4 900.2h0M492.9 920.9h0M661.6 885.5h0M550.9 871.8h0M538.6 903.8h0M495.2 894.6h0M487.9 918.1h0M498.0 917.3h0M498.3 913.6h0M487.8 927.4h0M500.3 827.7h0M496.4 891.3h0M490.7 898.1h0M492.8 888.2h0M489.3 899.9h0M490.3 878.5h0M495.9 897.7h0M497.7 923.3h0M495.0 922.4h0M491.1 872.5h0M494.2 899.4h0M492.1 904.5h0M492.4 901.0h0M494.3 895.6h0M502.9 916.1h0M567.4 901.1h0M495.6 893.0h0M529.5 818.8h0M509.9 913.1h0M505.2 860.5h0M487.6 915.4h0M501.9 910.3h0M504.1 914.9h0M490.3 917.3h0M515.6 855.0h0M491.3 911.3h0M537.5 901.4h0M492.3 925.1h0M505.7 906.0h0M501.6 921.0h0M640.4 898.1h0M491.7 862.5h0M498.4 907.4h0M489.4 888.0h0M505.0 891.9h0M491.9 889.2h0M496.9 891.7h0M493.9 879.5h0M503.7 891.1h0"/>
<path d="M489.9 927.7h0M530.5 806.7h0M498.3 903.1h0M501.5 887.8h0M496.7 894.8h0M490.0 896.3h0M503.1 926.1h0M491.8 929.3h0M496.4 882.9h0M491.8 892.3h0M505.5 902.8h0M609.1 905.1h0M506.8 907.0h0M496.2 871.8h0M488.2 907.3h0M507.3 900.5h0M566.0 907.6h0M492.9 880.6h0M491.7 921.2h0M493.6 928.0h0M489.7 876.0h0M498.5 848.0h0M492.0 890.8h0M497.6 892.4h0M500.4 918.5h0M488.1 909.3h0M490.4 903.8h0M497.6 903.0h0M492.6 912.9h0M488.4 898.1h0M487.9 907.7h0M493.3 873.7h0M490.4 890.0h0M492.2 836.3h0M498.3 888.4h0M499.3 923.0h0M496.7 907.1h0M496.0 884.3h0M505.9 913.6h0M488.3 907.5h0M491.1 886.3h0M517.7 894.7h0M488.2 898.7h0M487.1 931.8h0M507.7 831.9h0M498.3 893.5h0M503.4 912.8h0M495.7 926.2h0M499.5 924.6h0M488.7 930.5h0M506.0 844.2h0M503.4 908.1h0M487.6 919.4h0M492.7 903.6h0M495.5 930.4h0M539.4 896.4h0M511.6 909.4h0M487.7 918.1h0M490.8 927.7h0M510.8 903.2h0M497.9 904.9h0M488.9 901.2h0M522.8 912.5h0M510.1 908.7h0M509.4 901.7h0M508.1 921.0h0M494.7 891.2h0M488.2 907.0h0M489.7 883.8h0M502.4 921.9h0M591.8 874.9h0M495.6 900.2h0M493.3 891.5h0M490.0 897.9h0M492.0 896.2h0M498.0 880.0h0M503.0 902.1h0M512.9 906.5h0M491.7 904.0h0M506.9 908.0h0"/>
<path d="M499.1 900.7h0M504.4 922.3h0M508.3 883.7h0M495.5 862.4h0M573.3 815.8h0M489.2 884.7h0M507.0 900.2h0M499.5 918.1h0M491.9 888.0h0M487.2 931.7h0M491.9 871.3h0M500.1 896.6h0M496.8 916.4h0M488.9 916.4h0M492.1 893.9h0M506.9 893.7h0M494.2 927.9h0M492.7 835.2h0M499.9 888.4h0M518.0 913.3h0M489.4 872.4h0M502.5 904.4h0M487.9 918.2h0M509.8 873.1h0M528.2 923.2h0M490.5 882.6h0M498.1 911.9h0M496.8 896.5h0M490.5 914.2h0M496.4 871.0h0M523.8 891.0h0M488.6 926.3h0M503.9 887.3h0M488.1 905.7h0M494.4 904.8h0M549.6 880.3h0M490.6 886.8h0M488.8 926.3h0M499.0 850.2h0M494.0 882.8h0M497.6 865.5h0M497.8 925.4h0M508.3 897.8h0M496.5 904.7h0M507.5 874.7h0M491.1 881.0h0M497.5 897.3h0M491.7 907.9h0M489.6 926.0h0M501.2 848.2h0M496.4 894.0h0M496.7 920.4h0M501.4 779.9h0M487.9 925.5h0M496.9 861.7h0M499.3 903.5h0M504.3 851.0h0M517.9 915.4h0M488.2 909.3h0M496.9 919.9h0M488.5 922.2h0M490.7 923.8h0M533.1 911.8h0M488.5 908.2h0M487.6 917.8h0M506.5 898.7h0M498.6 880.2h0M534.8 904.1h0M495.3 904.6h0M499.5 853.6h0M498.3 905.5h0M493.1 888.2h0M541.5 888.0h0M513.9 919.4h0M505.2 912.7h0M506.1 817.5h0M491.4 833.3h0M500.0 884.0h0M488.5 905.6h0M500.2 920.9h0"/>
<path d="M541.1 905.5h0M501.4 912.5h0M495.1 895.2h0M509.9 897.0h0M489.9 906.8h0M497.9 895.9h0M497.3 902.6h0M493.4 922.4h0M565.4 901.7h0M487.7 916.5h0M497.9 878.1h0M488.8 928.7h0M488.5 888.9h0M499.6 915.2h0M488.8 893.2h0M509.7 808.8h0M506.8 918.9h0M487.8 925.5h0M494.4 925.7h0M488.9 908.4h0M488.0 904.6h0M511.1 903.5h0M496.7 880.2h0M494.0 902.0h0M517.2 888.2h0M496.2 915.5h0M506.8 879.8h0M509.6 910.2h0M490.3 914.7h0M492.1 928.6h0M567.5 911.6h0M487.6 919.6h0M490.1 923.2h0M493.4 916.6h0M491.6 880.6h0M492.3 924.7h0M492.0 911.6h0M488.6 890.9h0M488.8 885.5h0M566.9 868.6h0M489.3 928.1h0M500.5 904.9h0M498.8 904.4h0M628.7 888.7h0M490.7 867.2h0M489.8 925.1h0M509.6 910.3h0M581.5 899.2h0M495.9 912.3h0M504.7 896.2h0M514.5 896.0h0M502.9 899.9h0M502.3 908.5h0M503.4 839.3h0M492.9 925.0h0M506.4 896.6h0M487.7 916.9h0M496.9 926.2h0M488.1 911.0h0M493.2 899.0h0M487.5 922.4h0M502.0 860.7h0M494.4 890.6h0M495.5 919.9h0M489.2 888.5h0M517.3 894.5h0M488.5 929.7h0M495.4 925.8h0M501.9 912.4h0M495.8 903.9h0M490.8 859.4h0M490.4 926.4h0M621.5 893.6h0M502.8 867.5h0M499.8 902.6h0M487.7 915.9h0M497.1 875.7h0M621.3 871.0h0M492.5 828.2h0M489.3 931.5h0"/>
<path d="M492.7 926.4h0M489.2 887.5h0M539.7 905.8h0M494.1 916.9h0M487.6 922.1h0M505.0 904.5h0M491.6 917.2h0M487.5 925.5h0M496.6 924.2h0M518.4 864.9h0M493.8 924.1h0M499.1 926.5h0M538.0 869.6h0M499.0 897.2h0M533.6 853.2h0M491.3 919.9h0M488.0 907.2h0M493.3 898.8h0M508.7 872.3h0M490.2 902.1h0M496.1 863.7h0M499.2 889.3h0M503.4 835.2h0M489.3 898.5h0M487.7 912.5h0M490.6 912.9h0M497.7 929.0h0M487.5 927.4h0M490.4 894.9h0M487.5 926.5h0M492.5 909.1h0M498.2 923.7h0M504.0 831.1h0M491.4 837.3h0M533.3 902.8h0M493.4 859.7h0M492.1 900.7h0M492.0 907.4h0M491.7 904.9h0M489.2 931.1h0M693.6 894.3h0M492.7 926.2h0M491.5 922.1h0M490.9 912.3h0M496.3 906.3h0M493.9 894.2h0M506.0 914.3h0M488.2 917.3h0M502.9 888.6h0M488.4 906.3h0M516.5 910.1h0M493.9 928.9h0M488.3 920.7h0M504.3 863.3h0M498.4 863.4h0M497.3 907.4h0M494.0 929.7h0M490.4 914.8h0M505.2 902.0h0M489.4 924.7h0M488.3 898.9h0M504.5 884.8h0M526.8 908.3h0M584.1 870.6h0M490.4 910.9h0M533.6 906.0h0M516.3 907.7h0M498.9 891.5h0M502.1 893.6h0M487.4 925.4h0M506.8 879.2h0M492.1 919.4h0M494.0 927.2h0M489.4 929.4h0M490.7 910.9h0M494.0 894.5h0M498.2 922.2h0M510.5 891.0h0M504.8 905.6h0M492.6 841.3h0"/>
<path d="M516.3 883.9h0M500.6 912.8h0M514.5 891.4h0M491.7 871.4h0M488.1 919.9h0M501.8 821.1h0M496.0 898.6h0M490.3 869.0h0M489.0 928.1h0M490.5 902.2h0M499.9 895.7h0M498.6 892.8h0M492.0 915.1h0M488.5 929.4h0M493.0 921.7h0M493.6 929.1h0M497.8 895.9h0M502.2 917.9h0M487.2 931.8h0M500.2 894.1h0M488.2 906.0h0M487.3 922.8h0M494.9 908.2h0M492.9 879.7h0M496.9 927.2h0M499.3 912.8h0M520.2 911.4h0M487.2 931.8h0M489.9 927.7h0M502.4 863.6h0M560.4 898.5h0M536.3 884.6h0M492.3 899.4h0M488.3 901.7h0M488.2 898.4h0M509.8 918.9h0M490.3 930.2h0M495.2 917.6h0M498.7 914.4h0M494.8 873.2h0M492.8 907.8h0M488.5 931.0h0M488.6 894.2h0M726.5 892.5h0M500.8 891.3h0M498.4 920.7h0M500.7 882.8h0M488.2 899.4h0M519.1 902.8h0M491.7 927.3h0M497.9 889.3h0M490.0 878.4h0M488.4 891.4h0M503.9 862.2h0M497.2 884.1h0M490.1 930.2h0M494.0 911.0h0M494.7 908.3h0M496.7 895.5h0M489.8 896.2h0M501.0 923.3h0M487.8 931.6h0M488.9 896.5h0M497.7 904.9h0M489.5 901.6h0M489.1 877.3h0M491.2 929.0h0M493.3 905.8h0M497.5 927.7h0M505.8 908.5h0M489.9 895.6h0M487.7 918.5h0M488.8 891.9h0M531.3 912.5h0M496.9 927.3h0M488.1 922.3h0M491.2 900.4h0M490.8 917.3h0M493.2 868.8h0M492.6 894.9h0"/>
<path d="M495.6 873.7h0M488.6 900.1h0M493.8 885.1h0M497.5 923.0h0M488.0 905.1h0M488.4 898.5h0M491.2 911.9h0M497.3 846.1h0M490.9 866.5h0M501.9 900.0h0M495.7 826.0h0M491.0 840.5h0M502.2 921.5h0M511.1 915.7h0M492.9 883.1h0M489.0 927.7h0M489.6 917.0h0M493.5 895.8h0M560.0 849.5h0M497.8 876.9h0M526.4 891.7h0M489.5 877.8h0M487.4 926.7h0M489.5 873.3h0M500.0 862.4h0M494.2 795.8h0M487.8 927.2h0M541.8 905.7h0M562.3 874.4h0M494.2 925.3h0M491.2 910.3h0M493.7 930.7h0M496.2 922.3h0M504.7 906.5h0M502.6 903.7h0M494.0 910.1h0M487.3 924.1h0M490.9 916.2h0M517.4 875.3h0M560.9 903.0h0M520.5 894.1h0M489.0 902.0h0M494.6 890.6h0M489.2 921.9h0M489.4 889.4h0M508.4 913.0h0M489.8 930.4h0M487.6 927.3h0M494.3 909.1h0M489.4 895.2h0M543.4 894.2h0M504.1 920.3h0M491.9 910.5h0M496.5 926.5h0M497.7 902.0h0M491.1 914.2h0M500.3 857.6h0M502.7 905.4h0M489.8 893.0h0M509.2 836.4h0M493.4 926.3h0M489.4 894.6h0M489.1 885.4h0M490.0 897.0h0M487.1 931.8h0M490.2 930.6h0M501.9 899.9h0M559.7 769.2h0M532.4 895.6h0M509.0 917.2h0M547.4 907.1h0M492.6 846.1h0M510.6 908.2h0M494.7 912.0h0M497.7 887.7h0M495.2 869.1h0M496.2 850.1h0M492.4 924.0h0M492.8 897.0h0M490.9 893.6h0"/>
<path d="M495.1 859.9h0M489.7 901.4h0M488.0 906.3h0M488.2 903.8h0M574.2 844.6h0M504.5 897.1h0M514.2 856.4h0M487.6 921.1h0M500.9 918.1h0M529.8 837.3h0M487.2 926.5h0M551.7 907.3h0M496.1 910.3h0M490.1 876.1h0M488.3 904.7h0M513.8 915.9h0M492.2 922.8h0M506.7 918.2h0M488.0 910.8h0M502.2 867.5h0M496.1 896.3h0M498.6 889.6h0M503.9 894.8h0M502.2 888.2h0M492.3 925.4h0M488.4 904.2h0M515.2 892.6h0M493.7 924.9h0M488.2 897.3h0M489.6 904.6h0M496.0 909.7h0M488.1 930.5h0M498.5 897.5h0M498.6 924.7h0M506.7 868.7h0M489.9 865.7h0M492.4 930.3h0M492.0 888.2h0M491.9 911.2h0M539.0 856.2h0M495.7 921.5h0M491.5 750.2h0M497.6 874.7h0M497.4 928.4h0M503.0 893.3h0M493.3 880.5h0M488.3 899.3h0M546.9 897.3h0M488.2 905.0h0M510.4 798.2h0M488.0 903.0h0M525.9 908.4h0M491.4 928.7h0M487.9 908.3h0M492.9 926.5h0M495.0 907.8h0M488.6 931.6h0M494.7 913.7h0M493.3 924.2h0M495.7 893.7h0M490.0 872.2h0M487.5 922.6h0M494.2 925.1h0M490.0 889.2h0M516.3 907.1h0M496.0 926.0h0M488.3 922.1h0M490.9 894.6h0M487.7 917.3h0M532.5 910.7h0M492.8 918.0h0M502.9 853.7h0M544.7 912.0h0M495.8 871.6h0M491.2 914.1h0M492.5 879.8h0M490.1 881.9h0M488.6 902.8h0M488.5 928.5h0M496.9 903.3h0"/>
<path d="M487.1 931.9h0M496.1 847.4h0M493.3 905.0h0M493.7 899.7h0M513.5 820.6h0M530.8 851.5h0M493.8 885.2h0M488.6 894.1h0M489.8 879.2h0M498.0 862.5h0M541.2 833.9h0M490.1 898.5h0M496.0 914.5h0M502.1 892.5h0M488.3 928.2h0M560.0 907.2h0M492.0 926.5h0M488.2 916.6h0M488.1 908.0h0M487.6 913.9h0M490.7 909.8h0M496.8 860.9h0M491.9 904.3h0M498.6 905.2h0M491.8 896.6h0M488.9 930.1h0M504.2 909.0h0M509.8 742.4h0M497.3 908.2h0M488.1 902.5h0M496.8 836.7h0M521.2 904.5h0M488.2 919.0h0M506.2 913.6h0M488.5 892.2h0M502.8 923.2h0M506.6 899.5h0M491.5 874.8h0M497.7 903.3h0M495.5 890.0h0M497.3 799.4h0M497.3 878.1h0M493.4 823.2h0M502.0 874.1h0M502.2 885.2h0M496.6 898.9h0M487.5 921.9h0M554.0 805.0h0M487.7 911.6h0M517.4 912.6h0M488.9 905.5h0M500.9 891.5h0M491.2 860.0h0M491.6 879.4h0M491.4 877.4h0M488.0 909.9h0M501.3 908.0h0M496.6 907.0h0M487.6 922.8h0M499.5 886.9h0M488.9 927.0h0M490.4 930.3h0M491.4 897.6h0M497.0 883.2h0M538.8 891.2h0M487.7 913.4h0M500.7 914.1h0M500.2 882.3h0M506.2 917.9h0M500.7 883.8h0M536.5 892.4h0M496.5 910.8h0M490.3 892.8h0M499.8 892.2h0M504.8 905.6h0M491.9 908.9h0M506.2 871.9h0M493.2 900.9h0M499.4 868.0h0M489.0 929.3h0"/>
<path d="M488.5 897.9h0M498.2 893.9h0M487.4 921.6h0M488.0 928.0h0M492.8 905.5h0M487.9 910.9h0M506.6 917.4h0M488.7 892.7h0M500.5 891.1h0M490.3 867.5h0M491.9 901.4h0M494.7 854.8h0M497.8 900.0h0M508.8 917.7h0M554.8 900.6h0M497.3 910.9h0M489.8 907.7h0M487.7 916.2h0M499.1 866.0h0M507.9 858.2h0M497.8 853.0h0M499.3 905.7h0M496.8 917.0h0M489.3 923.7h0M493.1 867.6h0M487.2 926.8h0M499.5 911.8h0M490.6 877.8h0M520.4 887.3h0M488.6 916.8h0M549.6 896.2h0M498.5 916.5h0M487.6 919.6h0M502.9 894.5h0M492.8 881.1h0M488.3 927.6h0M488.4 906.6h0M490.5 926.1h0M493.1 902.7h0M489.2 930.9h0M502.8 903.6h0M497.5 914.2h0M525.3 907.7h0M490.0 921.7h0M497.7 910.7h0M489.4 869.0h0M491.3 858.0h0M489.0 893.1h0M488.6 894.5h0M500.0 895.3h0M498.7 883.2h0M526.4 794.9h0M488.5 921.8h0M516.2 879.1h0M499.6 929.0h0M487.6 916.2h0M505.5 799.2h0M525.3 875.5h0M488.4 907.5h0M516.2 884.0h0M490.2 898.2h0M491.1 886.5h0M545.9 897.7h0M487.4 931.8h0M500.8 859.0h0M491.8 889.2h0M513.3 904.9h0M492.9 897.0h0M492.2 928.7h0M495.9 856.0h0M522.7 896.9h0M495.3 899.5h0M489.5 875.2h0M487.1 931.9h0M490.2 860.4h0M496.2 860.0h0M510.7 877.0h0M497.1 923.3h0M489.0 906.7h0M487.3 926.8h0"/>
<path d="M553.9 905.5h0M488.5 898.9h0M487.6 921.0h0M492.0 895.6h0M501.8 891.7h0M494.0 890.2h0M488.8 888.5h0M501.1 921.0h0M492.0 884.2h0M496.6 914.7h0M489.3 895.8h0M492.5 924.0h0M490.3 900.7h0M492.7 927.4h0M491.6 878.5h0M491.6 894.2h0M494.3 912.1h0M502.8 901.0h0M492.9 929.6h0M490.5 912.9h0M507.4 884.1h0M490.8 926.1h0M488.2 916.2h0M499.3 917.4h0M496.3 927.6h0M488.6 931.6h0M500.2 923.9h0M496.8 873.0h0M520.2 909.3h0M498.6 855.3h0M500.7 908.3h0M491.8 894.2h0M494.2 924.2h0M492.8 920.1h0M487.6 922.9h0M488.4 901.2h0M487.2 931.8h0M493.1 919.3h0M489.1 900.3h0M518.4 917.7h0M490.3 916.8h0M494.8 898.3h0M490.5 865.8h0M490.9 928.9h0M583.0 889.5h0M492.4 922.6h0M508.8 858.8h0M489.5 873.0h0M493.2 888.5h0M505.3 921.3h0M499.8 916.7h0M493.4 895.2h0M562.5 910.6h0M491.4 885.9h0M494.1 926.8h0M495.7 908.3h0M494.3 886.0h0M512.1 913.4h0M604.2 878.2h0M488.5 911.3h0M497.7 850.7h0M489.2 894.9h0M513.6 910.6h0M491.4 898.4h0M488.0 913.2h0M529.6 908.7h0M537.6 855.0h0M489.8 880.5h0M501.6 929.1h0M557.8 916.4h0M504.5 880.2h0M499.8 896.6h0M518.0 907.4h0M524.1 906.4h0M493.2 873.8h0M500.7 866.7h0M503.0 892.4h0M496.9 928.4h0M487.8 922.3h0M508.4 870.7h0"/>
<path d="M493.5 914.1h0M491.0 920.3h0M510.3 871.2h0M487.3 926.3h0M494.9 854.7h0M497.0 828.4h0M499.2 835.0h0M496.1 902.7h0M489.4 895.3h0M506.8 834.1h0M490.2 891.5h0M498.1 916.0h0M494.2 890.8h0M490.7 877.2h0M491.2 931.0h0M499.2 895.7h0M489.8 884.5h0M503.9 810.6h0M514.4 912.9h0M494.9 900.5h0M491.6 892.3h0M507.7 906.8h0M513.8 912.6h0M494.8 874.8h0M498.3 927.0h0M491.3 901.9h0M488.7 887.7h0M487.6 922.5h0M489.3 879.6h0M600.5 900.9h0M544.2 916.2h0M488.5 931.6h0M499.3 923.9h0M670.7 887.6h0M500.0 896.9h0M497.4 875.1h0M494.8 912.8h0M497.2 866.0h0M488.5 914.1h0M494.6 900.2h0M500.6 904.3h0M488.1 928.0h0M494.8 910.3h0M488.8 917.3h0M493.7 872.5h0M498.7 922.5h0M497.2 918.4h0M487.5 931.8h0M501.0 908.4h0M491.5 899.8h0M518.0 901.5h0M497.7 904.4h0M500.9 857.8h0M495.2 927.7h0M500.7 914.6h0M506.4 891.0h0M496.4 890.5h0M488.9 919.8h0M509.7 852.2h0M487.7 912.8h0M487.0 931.9h0M494.3 886.3h0M491.6 855.4h0M576.9 874.4h0M505.3 894.6h0M507.3 872.5h0M492.9 927.9h0M493.2 917.4h0M488.8 891.1h0M515.5 901.6h0M505.7 913.1h0M493.5 892.7h0M503.2 893.3h0M491.1 906.5h0M504.6 911.8h0M518.7 906.8h0M488.5 928.3h0M496.3 871.1h0M603.5 902.7h0M502.2 872.4h0"/>
<path d="M494.0 915.6h0M496.4 883.4h0M491.3 861.2h0M492.3 915.4h0M497.7 887.4h0M509.7 894.8h0M491.4 886.5h0M495.5 905.6h0M505.0 853.3h0M492.3 916.2h0M503.8 888.6h0M511.6 891.4h0M522.4 797.2h0M497.6 910.0h0M495.3 811.8h0M498.1 907.3h0M489.3 898.1h0M506.3 904.1h0M495.3 912.4h0M503.2 893.2h0M497.7 920.9h0M488.9 927.0h0M517.6 916.2h0M561.1 795.8h0M508.1 907.6h0M496.0 875.8h0M504.4 845.3h0M490.2 924.6h0M490.1 888.7h0M491.5 905.0h0M504.1 905.3h0M490.6 916.6h0M553.8 858.7h0M502.9 876.7h0M492.1 912.0h0M490.0 871.2h0M490.2 924.3h0M488.8 928.5h0M491.1 891.1h0M504.0 911.2h0M585.5 901.4h0M487.7 914.5h0M487.4 921.8h0M505.4 861.9h0M500.0 925.3h0M517.3 919.5h0M487.8 911.2h0M529.5 870.9h0M537.6 913.1h0M496.7 926.3h0M515.9 909.5h0M502.3 913.2h0M494.4 887.6h0M492.2 919.0h0M489.1 930.9h0M503.4 895.3h0M499.7 913.7h0M508.8 916.6h0M504.4 903.0h0M491.1 890.9h0M496.9 920.4h0M488.6 919.8h0M509.1 911.9h0M503.2 824.7h0M489.2 910.8h0M497.2 887.5h0M499.2 900.3h0M490.4 904.7h0M491.9 899.6h0M497.9 903.7h0M503.0 888.6h0M487.8 931.6h0M490.5 844.9h0M490.5 895.2h0M500.6 909.8h0M489.0 919.1h0M497.4 877.5h0M488.2 904.7h0M493.3 920.1h0M496.2 896.8h0"/>
<path d="M489.9 903.7h0M504.5 754.9h0M513.1 917.8h0M496.8 845.3h0M492.0 848.0h0M500.6 914.0h0M497.6 924.3h0M506.4 778.7h0M487.6 917.5h0M491.1 889.2h0M491.7 840.2h0M489.2 929.2h0M500.8 888.2h0M521.2 909.8h0M488.2 919.6h0M490.8 888.6h0M493.0 877.4h0M495.5 861.2h0M488.6 890.2h0M490.5 862.8h0M506.2 914.6h0M488.4 903.2h0M500.0 907.9h0M590.8 829.7h0M491.8 878.4h0M497.9 911.5h0M509.6 870.7h0M508.7 895.6h0M489.8 872.3h0M501.5 870.2h0M494.1 872.1h0M490.6 846.5h0M494.5 900.1h0M487.4 925.1h0M487.7 927.0h0M500.5 911.1h0M488.6 895.6h0M489.3 884.1h0M487.7 923.2h0M490.9 822.1h0M497.3 881.5h0M509.1 917.6h0M488.1 912.1h0M491.5 891.6h0M493.4 875.6h0M488.2 931.4h0M500.6 912.3h0M494.2 875.4h0M488.5 892.7h0M489.8 926.4h0M493.8 897.9h0M491.8 913.4h0M499.7 918.7h0M488.4 901.1h0M497.3 899.4h0M488.2 910.0h0M493.4 842.5h0M491.3 908.1h0M507.7 915.0h0M493.6 860.7h0M489.4 908.1h0M492.9 909.3h0M679.6 874.5h0M493.5 926.1h0M570.3 901.6h0M502.5 915.9h0M496.4 881.2h0M492.6 917.8h0M492.8 886.3h0M502.0 923.5h0M505.3 917.6h0M487.4 921.7h0M504.4 885.0h0M503.3 889.3h0M493.2 919.5h0M506.4 910.8h0M488.6 930.0h0M487.9 911.3h0M496.1 892.6h0M490.9 929.2h0"/>
<path d="M492.4 921.4h0M489.5 917.9h0M497.0 921.5h0M491.8 871.6h0M487.4 931.5h0M494.5 912.1h0M515.1 844.1h0M489.0 913.8h0M505.5 905.1h0M487.5 918.7h0M518.8 899.8h0M513.9 927.4h0M501.3 923.9h0M489.9 882.2h0M506.4 887.5h0M509.9 808.4h0M488.0 920.7h0M501.6 905.1h0M489.5 895.1h0M490.4 925.1h0M490.5 844.8h0M488.3 896.5h0M488.2 930.3h0M493.5 912.2h0M492.1 902.4h0M492.4 906.5h0M488.2 903.5h0M493.9 875.0h0M492.8 896.2h0M494.4 889.2h0M488.1 915.2h0M495.5 905.6h0M488.4 893.9h0M494.0 866.3h0M559.4 898.2h0M496.0 923.6h0M496.7 870.8h0M492.5 867.9h0M504.6 898.9h0M509.5 911.2h0M493.4 893.0h0M493.8 892.8h0M510.4 882.8h0M518.9 914.1h0M497.1 868.1h0M488.7 900.7h0M490.1 888.4h0M524.8 917.3h0M493.8 905.6h0M488.4 902.7h0M490.6 891.2h0M680.1 890.6h0M488.7 898.4h0M496.9 910.9h0M510.5 910.1h0M496.6 888.7h0M488.0 924.6h0M492.7 919.5h0M498.9 868.7h0M493.1 887.1h0M487.7 927.6h0M520.3 904.6h0M495.9 886.9h0M508.9 893.8h0M490.8 904.0h0M494.2 915.3h0M492.6 837.9h0M489.7 890.0h0M506.2 884.4h0M506.7 884.1h0M493.7 879.7h0M488.4 914.3h0M492.6 894.6h0M503.8 910.4h0M506.2 917.1h0M496.9 834.2h0M506.1 908.2h0M504.5 809.1h0M488.4 914.2h0M494.5 926.5h0"/>
<path d="M499.9 900.7h0M488.6 886.9h0M650.7 899.9h0M496.3 925.9h0M491.1 878.1h0M494.9 860.3h0M504.4 918.2h0M487.0 931.9h0M490.7 922.0h0M507.2 902.2h0M493.4 876.7h0M488.5 917.5h0M497.1 882.0h0M495.6 901.7h0M495.3 919.3h0M505.2 909.1h0M493.5 916.9h0M496.9 908.0h0M530.0 905.2h0M669.3 893.9h0M508.4 907.6h0M496.0 886.6h0M491.3 837.9h0M503.9 886.1h0M527.0 907.0h0M501.9 826.0h0M488.0 908.8h0M490.3 849.4h0M494.9 920.8h0M491.0 904.9h0M510.1 924.7h0M498.5 903.5h0M488.9 913.8h0M613.3 897.4h0M491.1 860.7h0M497.9 922.4h0M495.6 884.5h0M489.8 905.4h0M516.5 902.5h0M502.7 885.7h0M502.1 879.8h0M491.9 919.5h0M493.3 902.3h0M495.5 900.0h0M490.5 891.0h0M492.7 887.6h0M512.5 916.5h0M494.8 897.7h0M488.7 917.6h0M498.9 895.8h0M491.1 918.7h0M524.7 809.5h0M488.1 928.2h0M488.0 922.1h0M495.9 920.7h0M537.7 913.3h0M524.1 883.4h0M500.5 915.4h0M493.6 878.3h0M489.2 919.3h0M493.7 904.3h0M503.5 922.3h0M487.6 927.0h0M521.8 913.1h0M492.6 786.0h0M488.1 914.9h0M492.8 916.9h0M596.3 910.7h0M529.3 922.2h0M489.4 925.9h0M496.9 876.4h0M487.4 923.3h0M533.4 899.5h0M489.0 917.2h0M490.2 880.2h0M500.4 899.8h0M495.0 930.4h0M496.5 909.5h0M491.7 894.5h0M500.4 883.5h0"/>
<path d="M534.8 910.6h0M497.9 889.1h0M491.0 915.9h0M511.2 874.2h0M526.8 904.9h0M489.7 885.1h0M503.2 920.1h0M500.2 912.2h0M539.2 850.3h0M541.7 884.6h0M487.3 931.6h0M493.3 926.5h0M487.7 926.3h0M487.2 926.9h0M487.7 921.3h0M525.5 874.1h0M556.5 909.9h0M504.0 914.7h0M490.7 877.1h0M492.1 897.9h0M495.1 898.7h0M491.5 896.9h0M673.5 849.5h0M503.7 915.1h0M492.2 892.6h0M520.8 898.7h0M490.6 911.4h0M488.7 894.0h0M560.8 837.4h0M489.0 908.4h0M505.8 868.2h0M501.3 872.0h0M500.3 885.4h0M493.5 860.4h0M536.4 861.3h0M494.3 911.5h0M507.7 911.5h0M495.0 876.0h0M489.0 926.0h0M507.6 872.7h0M501.1 885.6h0M494.6 921.6h0M509.7 922.0h0M579.0 898.3h0M488.2 914.5h0M487.4 926.9h0M518.7 751.4h0M491.9 914.6h0M490.3 915.0h0M503.4 911.5h0M497.0 914.5h0M590.5 890.1h0M498.8 919.1h0M488.6 924.1h0M491.7 863.5h0M489.1 898.3h0M494.8 889.3h0M490.0 874.2h0M530.1 896.1h0M489.1 919.6h0M489.8 918.6h0M493.3 911.8h0M487.6 921.9h0M493.5 896.3h0M488.6 907.5h0M490.7 909.3h0M489.8 895.2h0M495.3 924.1h0M487.2 926.2h0M489.2 890.5h0M493.0 926.8h0M491.0 897.6h0M497.8 906.3h0M497.2 887.8h0M491.3 882.7h0M491.6 890.8h0M505.4 908.5h0M487.2 926.5h0M509.3 892.8h0M494.0 888.8h0"/>
<path d="M488.9 923.8h0M487.4 925.6h0M498.9 917.0h0M500.3 863.3h0M499.8 921.7h0M506.4 881.7h0M515.8 842.9h0M513.8 923.0h0M498.2 876.6h0M487.4 931.5h0M487.8 925.9h0M487.7 913.4h0M495.7 896.1h0M517.7 800.2h0M487.7 931.2h0M489.2 877.2h0M493.7 921.6h0M511.7 915.9h0M490.5 901.6h0M492.2 898.1h0M495.9 892.9h0M489.5 862.9h0M499.5 876.4h0M513.8 897.4h0M503.6 907.6h0M491.2 914.2h0M488.8 928.3h0M498.0 890.9h0M495.0 890.1h0M492.8 856.0h0M499.4 892.6h0M506.6 893.2h0M504.0 885.3h0M497.6 904.5h0M508.7 829.3h0M495.3 870.4h0M494.9 903.4h0M489.0 890.9h0M522.4 848.0h0M497.2 919.2h0M499.0 869.5h0M489.0 912.3h0M488.4 910.7h0M499.7 890.4h0M488.2 899.2h0M502.6 876.7h0M491.8 875.4h0M498.4 891.0h0M493.4 916.1h0M498.4 894.4h0M528.6 905.0h0M496.7 845.7h0M507.5 876.8h0M494.9 868.0h0M491.5 882.4h0M492.5 914.8h0M488.4 930.0h0M500.7 918.4h0M489.0 887.3h0M499.2 861.3h0M488.1 928.2h0M492.7 860.0h0M557.5 902.1h0M508.3 837.8h0M504.0 920.8h0M494.7 913.5h0M487.8 912.9h0M504.7 923.4h0M488.0 913.6h0M494.0 914.0h0M495.3 831.6h0M550.9 908.6h0M491.5 865.0h0M549.6 898.6h0M488.7 888.6h0M494.2 903.2h0M499.0 895.0h0M529.3 900.7h0M531.0 909.6h0M494.5 928.2h0"/>
<path d="M490.8 914.8h0M487.9 920.7h0M500.2 860.1h0M491.1 923.5h0M501.3 834.2h0M504.5 877.8h0M496.6 891.7h0M488.7 895.3h0M495.8 895.1h0M498.9 915.4h0M541.9 902.2h0M489.3 883.8h0M497.2 903.3h0M487.7 915.8h0M489.6 930.2h0M512.9 824.2h0M494.0 903.9h0M529.6 835.4h0M496.5 907.8h0M489.7 899.5h0M487.7 922.7h0M499.5 914.2h0M488.7 901.9h0M500.6 919.3h0M493.6 918.0h0M490.6 887.5h0M498.7 835.9h0M494.2 905.8h0M561.5 912.4h0M498.1 906.3h0M492.9 914.5h0M492.2 918.9h0M500.5 912.8h0M489.3 886.0h0M495.0 900.1h0M508.3 845.9h0M489.6 870.5h0M535.6 922.0h0M491.4 865.1h0M488.6 905.4h0M493.8 903.7h0M488.3 928.6h0M495.1 902.0h0M496.3 927.4h0M495.1 911.1h0M489.9 876.4h0M493.3 901.7h0M492.8 910.0h0M487.9 912.3h0M509.9 908.1h0M500.2 903.1h0M497.2 890.1h0M503.5 892.3h0M529.2 907.6h0M488.5 897.3h0M503.2 919.6h0M488.4 916.5h0M488.1 902.7h0M502.4 863.3h0M511.7 915.1h0M499.1 866.5h0M497.8 906.4h0M500.1 899.9h0M493.4 914.3h0M487.4 931.8h0M507.8 917.2h0M497.8 900.7h0M487.4 926.9h0M493.2 906.7h0M500.0 864.9h0M518.3 904.7h0M500.1 911.8h0M502.9 909.2h0M514.6 915.0h0M489.7 883.2h0M518.7 909.4h0M500.3 823.6h0M498.9 896.8h0M489.6 880.3h0M487.2 931.8h0"/>
<path d="M496.6 829.3h0M489.3 873.5h0M488.2 900.3h0M501.0 921.4h0M491.7 882.7h0M487.8 927.7h0M487.6 927.4h0M487.7 920.4h0M492.2 893.6h0M491.1 907.5h0M504.0 928.7h0M489.8 871.8h0M496.9 924.3h0M488.2 919.5h0M497.6 873.6h0M489.1 892.7h0M507.6 868.0h0M488.1 903.0h0M497.1 898.9h0M545.9 892.8h0M505.5 850.1h0M493.7 913.1h0M495.3 915.5h0M490.6 861.7h0M495.0 897.7h0M540.8 890.9h0M492.8 929.4h0M491.1 921.1h0M493.9 913.2h0M494.9 927.3h0M493.4 876.8h0M490.4 880.7h0M488.4 898.2h0M502.1 891.4h0M490.4 873.1h0M587.0 909.6h0M492.5 865.8h0M489.1 916.6h0M495.8 890.5h0M490.6 880.6h0M510.3 899.5h0M509.6 906.8h0M494.4 890.4h0M499.9 908.6h0M489.3 894.5h0M487.9 925.5h0M511.8 913.9h0M491.6 929.4h0M488.5 902.5h0M507.7 922.2h0M496.5 918.4h0M496.6 897.0h0M499.8 843.0h0M498.2 897.5h0M494.2 914.5h0M497.3 916.5h0M501.8 904.7h0M531.6 895.9h0M542.8 907.5h0M490.5 904.5h0M493.1 790.3h0M490.0 886.4h0M488.5 905.3h0M488.3 901.4h0M514.4 895.7h0M493.3 925.4h0M488.3 915.4h0M496.5 856.7h0M487.8 921.1h0M488.8 883.2h0M489.3 926.5h0M504.9 908.2h0M496.0 916.2h0M491.7 921.8h0M487.2 931.7h0M491.9 888.0h0M522.9 899.1h0M496.4 927.5h0M489.5 886.4h0M516.9 920.9h0"/>
<path d="M495.4 866.3h0M492.1 891.1h0M498.1 895.2h0M487.7 918.5h0M487.9 909.4h0M492.7 928.0h0M499.5 911.5h0M496.4 837.2h0M511.7 872.1h0M495.7 882.2h0M488.0 927.9h0M491.3 879.0h0M502.6 918.5h0M495.9 858.3h0M487.5 920.6h0M640.9 907.2h0M552.6 918.0h0M501.6 916.9h0M503.6 876.7h0M507.8 895.0h0M495.7 902.8h0M490.9 928.2h0M541.5 879.4h0M490.7 873.2h0M492.9 834.9h0M497.1 893.3h0M492.4 891.7h0M487.6 917.6h0M491.4 906.9h0M488.2 901.1h0M487.6 917.2h0M494.6 911.9h0M493.1 836.8h0M488.5 915.1h0M497.2 925.2h0M516.3 899.6h0M487.2 926.8h0M493.7 902.0h0M503.5 859.8h0M498.0 893.2h0M504.0 852.6h0M489.6 910.8h0M494.4 922.3h0M490.5 927.6h0M506.4 857.5h0M488.2 927.8h0M517.9 914.1h0M507.2 874.9h0M502.0 912.7h0M495.0 909.5h0M489.0 889.4h0M495.2 886.3h0M487.7 916.0h0M489.7 883.2h0M511.8 893.3h0M517.7 911.0h0M502.2 920.1h0M493.9 900.0h0M495.1 924.7h0M491.7 909.5h0M493.0 922.5h0M491.8 909.0h0M490.0 928.9h0M540.6 908.0h0M492.0 891.4h0M585.1 896.7h0M494.4 865.8h0M502.8 920.1h0M500.8 921.7h0M488.6 909.8h0M494.8 885.9h0M494.7 917.7h0M532.4 902.4h0M487.4 925.2h0M515.8 902.4h0M492.6 904.7h0M487.6 931.4h0M497.2 908.8h0M498.6 888.9h0M490.9 880.0h0"/>
<path d="M488.6 931.3h0M488.6 915.0h0M490.6 924.2h0M487.8 926.8h0M489.9 926.4h0M493.0 895.4h0M491.6 923.7h0M488.5 887.6h0M503.7 877.8h0M488.0 924.8h0M492.0 900.6h0M493.6 897.9h0M500.1 919.0h0M509.3 851.4h0M496.0 872.5h0M487.8 909.6h0M495.3 888.1h0M495.8 907.9h0M508.3 881.2h0M490.9 902.4h0M499.6 908.4h0M487.7 914.4h0M487.7 921.5h0M488.2 905.3h0M497.3 898.1h0M490.0 900.5h0M491.9 899.2h0M488.2 920.4h0M501.2 915.2h0M497.5 908.2h0M648.3 889.2h0M488.3 896.5h0M493.2 894.2h0M516.3 916.1h0M490.5 902.0h0M515.7 914.9h0M502.6 911.6h0M495.1 886.4h0M492.0 918.3h0M498.6 854.2h0M493.0 926.6h0M491.0 930.3h0M499.6 920.5h0M487.2 931.7h0M507.8 928.1h0M496.5 914.4h0M489.6 867.9h0M506.0 921.5h0M507.1 907.7h0M499.6 890.9h0M490.9 923.3h0M489.3 872.5h0M494.5 922.3h0M534.1 854.8h0M487.2 926.8h0M488.8 883.1h0M501.0 911.4h0M500.5 883.7h0M519.9 897.3h0M492.4 840.2h0M493.6 836.7h0M490.0 926.0h0M489.0 925.8h0M502.8 892.0h0M493.2 886.1h0M503.3 887.4h0M506.0 876.9h0M487.3 931.6h0M514.5 908.3h0M501.8 873.5h0M502.6 904.2h0M494.4 920.5h0M491.1 889.5h0M492.2 877.0h0M499.7 890.1h0M497.7 912.5h0M488.8 919.0h0M535.0 924.1h0M499.9 895.4h0M491.6 923.4h0"/>
<path d="M488.1 909.2h0M549.4 903.7h0M495.8 838.4h0M487.7 913.7h0M494.1 902.4h0M488.5 898.3h0M519.2 909.5h0M511.9 910.6h0M492.9 918.1h0M501.9 907.5h0M487.8 911.0h0M488.2 907.7h0M494.6 915.8h0M492.7 875.5h0M503.3 905.3h0M488.8 912.0h0M501.4 916.9h0M508.5 919.0h0M489.9 930.2h0M495.6 885.8h0M497.3 924.7h0M488.5 905.7h0M494.8 928.5h0M548.5 914.1h0M652.5 895.5h0M512.5 874.3h0M516.6 887.0h0M506.8 886.0h0M492.6 928.7h0M493.3 858.3h0M498.5 911.0h0M495.4 913.3h0M490.9 860.5h0M487.9 926.9h0M489.2 869.9h0M492.2 881.8h0M490.0 930.5h0M489.6 909.5h0M489.7 915.3h0M537.9 903.5h0M488.8 930.0h0M496.5 847.0h0M513.9 880.3h0M490.1 923.5h0M489.1 917.5h0M488.4 929.3h0M488.4 927.7h0M502.4 880.6h0M496.4 901.6h0M489.7 892.8h0M493.0 867.9h0M504.8 923.0h0M495.5 895.9h0M492.7 914.4h0M491.3 891.9h0M496.0 747.5h0M496.4 900.5h0M491.8 876.5h0M512.6 848.9h0M487.8 917.0h0M490.1 883.9h0M492.5 917.4h0M498.3 910.0h0M501.8 905.8h0M492.5 887.5h0M497.5 913.5h0M649.5 903.2h0M515.8 865.0h0M504.5 862.8h0M498.9 899.2h0M496.5 927.4h0M500.9 916.8h0M510.3 921.6h0M531.8 858.0h0M494.0 920.0h0M506.8 892.0h0M494.1 924.7h0M499.1 926.6h0M495.2 879.7h0"/>
<path d="M497.9 902.9h0M491.1 903.6h0M536.2 907.0h0M493.7 909.8h0M488.1 927.6h0M533.7 883.1h0M511.1 893.6h0M498.1 914.9h0M496.8 886.5h0M493.9 893.0h0M493.4 894.1h0M509.0 896.5h0M505.4 914.4h0M513.6 919.6h0M581.4 905.6h0M513.0 840.7h0M493.5 843.1h0M498.3 869.4h0M489.4 884.0h0M492.1 903.1h0M503.7 848.1h0M496.7 911.3h0M493.4 803.8h0M494.0 889.6h0M489.7 929.8h0M489.5 887.2h0M494.9 893.2h0M496.0 854.5h0M499.9 912.5h0M497.7 786.0h0M524.8 895.3h0M503.1 917.0h0M499.9 891.8h0M576.5 898.7h0M491.4 884.7h0M500.3 833.9h0M488.2 922.2h0M510.6 915.9h0M491.0 876.5h0M509.0 891.5h0M494.0 916.5h0M533.7 892.4h0M499.2 913.8h0M509.8 917.6h0M498.5 905.9h0M493.9 925.1h0M501.0 869.5h0M496.3 917.9h0M492.4 927.2h0M505.4 783.3h0M490.9 860.1h0M525.6 826.3h0M496.0 909.3h0M487.3 931.7h0M489.6 921.2h0M496.6 880.0h0M523.7 912.2h0M496.8 890.4h0M501.6 857.4h0M592.9 896.3h0M488.6 889.4h0M488.6 900.4h0M496.7 860.3h0M494.1 893.7h0M487.5 919.2h0M488.1 909.1h0M494.2 923.7h0M489.6 929.8h0M501.0 918.6h0M496.0 907.4h0M490.7 852.6h0M499.4 867.7h0M503.2 848.0h0M637.6 881.7h0M487.7 918.3h0M490.8 910.9h0M496.7 909.8h0M487.7 912.2h0M506.9 888.1h0"/>
<path d="M544.6 860.1h0M497.6 918.0h0M502.2 909.4h0M493.4 912.0h0M496.3 901.4h0M515.0 910.1h0M506.4 869.6h0M495.9 845.1h0M491.6 882.9h0M487.7 912.0h0M487.9 927.0h0M526.9 898.4h0M488.3 903.1h0M490.4 922.2h0M493.3 921.3h0M492.5 879.4h0M495.9 926.7h0M499.0 925.2h0M499.8 879.6h0M489.7 920.5h0M497.7 907.5h0M504.6 919.5h0M494.3 923.0h0M497.2 926.1h0M491.6 879.9h0M501.1 905.8h0M494.2 890.8h0M488.6 912.0h0M490.6 876.5h0M497.0 913.9h0M555.9 920.8h0M490.8 891.9h0M488.1 927.8h0M492.3 886.4h0M496.7 896.2h0M498.3 918.8h0M500.4 900.6h0M493.4 915.8h0M497.6 892.0h0M495.4 907.1h0M500.5 909.2h0M528.4 912.0h0M487.5 917.9h0M583.8 890.5h0M497.8 918.1h0M491.9 841.5h0M489.1 887.7h0M501.2 905.2h0M554.8 912.2h0M493.0 915.8h0M537.7 901.5h0M488.5 908.9h0M487.5 927.2h0M491.7 899.2h0M490.5 923.7h0M497.3 884.0h0M516.7 896.6h0M488.6 898.9h0M487.3 931.8h0M492.9 897.9h0M489.5 892.4h0M500.9 920.7h0M498.0 853.9h0M497.2 846.6h0M503.1 900.2h0M498.8 923.2h0M487.9 913.9h0M493.9 910.2h0M504.1 900.2h0M487.3 925.0h0M489.6 920.5h0M494.7 901.7h0M494.1 824.3h0M488.6 889.7h0M492.7 928.5h0M519.6 882.5h0M495.8 833.0h0M487.2 926.2h0M494.0 875.1h0"/>
<path d="M491.4 898.0h0M494.6 860.0h0M490.3 888.6h0M487.9 919.4h0M493.8 873.4h0M490.2 913.2h0M491.2 870.2h0M533.4 915.3h0M487.2 926.4h0M487.9 917.2h0M499.8 895.8h0M488.3 931.1h0M488.1 919.4h0M493.3 925.6h0M498.2 870.5h0M492.8 913.7h0M487.3 931.7h0M502.2 910.5h0M492.4 873.3h0M493.9 850.1h0M488.6 888.0h0M489.0 914.0h0M530.9 905.7h0M494.6 928.2h0M493.3 921.5h0M497.8 844.9h0M492.5 892.5h0M531.2 910.1h0M495.9 901.2h0M489.1 894.2h0M500.4 895.1h0M491.9 918.5h0M489.3 876.3h0M497.6 915.4h0M492.6 928.4h0M488.8 885.8h0M490.7 842.7h0M488.6 903.0h0M487.2 927.0h0M487.6 918.4h0M505.3 903.6h0M491.4 874.2h0M553.0 882.8h0M491.0 906.1h0M497.2 891.0h0M508.0 918.4h0M490.7 930.4h0M495.2 926.5h0M512.4 833.8h0M492.8 882.5h0M497.4 864.9h0M496.4 916.2h0M495.8 909.0h0M505.4 878.7h0M497.8 885.0h0M496.5 894.7h0M499.7 861.4h0M489.9 897.3h0M503.3 910.9h0M495.8 881.0h0M492.9 870.3h0M492.8 926.5h0M489.3 902.5h0M499.2 916.8h0M488.8 904.8h0M488.0 904.2h0M494.3 930.7h0M496.2 882.0h0M489.8 864.7h0M492.2 855.8h0M503.0 874.5h0M500.4 882.2h0M491.9 895.0h0M487.9 907.3h0M487.8 919.6h0M491.4 891.2h0M496.8 886.2h0M488.9 930.0h0M501.9 854.1h0"/>
<path d="M498.9 915.7h0M489.3 913.4h0M488.8 928.1h0M489.1 894.4h0M501.8 868.5h0M520.7 824.7h0M487.5 919.4h0M489.8 917.3h0M503.3 854.3h0M495.7 921.6h0M501.7 908.2h0M506.0 916.2h0M496.5 893.9h0M488.3 912.7h0M487.3 924.4h0M502.8 871.0h0M488.4 905.1h0M515.6 917.8h0M494.2 892.7h0M499.7 879.7h0M488.2 915.6h0M490.0 918.0h0M543.4 890.5h0M489.7 929.2h0M495.8 902.2h0M488.1 918.4h0M499.2 901.6h0M506.1 918.6h0M505.7 898.0h0M491.6 904.6h0M604.9 892.2h0M500.8 915.8h0M494.4 884.2h0M488.4 918.0h0M487.2 926.2h0M502.8 873.3h0M488.4 899.3h0M595.0 893.4h0M487.0 931.9h0M487.8 910.0h0M488.0 907.5h0M492.6 927.0h0M497.2 887.8h0M490.1 931.2h0M499.0 862.1h0M533.1 904.4h0M494.0 880.2h0M505.5 903.1h0M502.0 842.5h0M495.7 882.9h0M488.6 892.3h0M488.9 909.0h0M510.3 898.5h0M493.6 896.7h0M497.7 896.3h0M506.6 903.1h0M495.1 901.6h0M487.5 923.1h0M492.7 908.3h0M488.5 899.7h0M510.8 898.2h0M500.0 894.3h0M488.5 931.2h0M488.4 908.9h0M515.4 875.3h0M487.9 913.0h0M495.2 926.4h0M492.0 863.5h0M492.7 827.9h0M491.8 883.0h0M493.6 828.4h0M488.9 895.5h0M493.5 899.7h0M503.4 837.8h0M493.1 909.6h0M487.7 917.4h0M495.1 902.9h0M493.1 929.6h0M494.9 925.9h0"/>
<path d="M491.6 910.0h0M496.8 925.5h0M498.7 907.1h0M491.9 929.5h0M496.8 912.5h0M504.0 912.9h0M487.6 923.0h0M502.0 867.1h0M519.2 886.3h0M519.2 760.5h0M544.9 901.3h0M488.7 897.0h0M492.5 879.6h0M494.9 924.1h0M498.4 894.9h0M495.3 901.6h0M496.0 903.6h0M490.0 852.4h0M488.6 887.4h0M487.2 931.8h0M487.4 927.2h0M490.7 924.2h0M499.1 910.8h0M543.4 914.6h0M508.1 914.9h0M488.4 918.0h0M488.9 885.2h0M497.4 868.8h0M508.9 905.3h0M487.7 920.8h0M492.9 927.4h0M516.9 905.2h0M488.0 919.2h0M495.4 926.7h0M495.1 899.4h0M488.0 902.2h0M510.7 787.1h0M491.1 907.9h0M489.6 889.0h0M495.8 911.9h0M496.6 907.6h0M490.6 873.3h0M521.9 906.5h0M493.2 885.2h0M497.7 898.0h0M517.3 913.5h0M501.7 888.9h0M487.2 926.1h0M491.8 863.1h0M501.0 863.8h0M499.8 859.3h0M503.5 783.7h0M496.4 886.7h0M493.8 904.0h0M497.7 887.3h0M512.1 885.4h0M496.8 864.1h0M495.8 907.7h0M492.8 913.4h0M491.6 888.4h0M492.9 897.0h0M494.1 767.7h0M497.0 914.5h0M502.2 889.6h0M487.8 910.6h0M488.9 897.6h0M490.0 868.7h0M493.9 927.1h0M504.9 917.7h0M498.1 859.6h0M493.7 928.7h0M495.4 907.1h0M502.7 904.0h0M498.3 874.8h0M503.1 910.1h0M507.5 868.4h0M493.8 915.3h0M527.9 913.1h0M488.7 913.9h0"/>
<path d="M537.4 908.3h0M489.5 883.2h0M490.4 880.7h0M502.2 917.7h0M492.2 908.0h0M494.9 920.0h0M488.6 906.8h0M487.5 921.6h0M487.6 917.6h0M494.0 872.1h0M496.1 895.4h0M488.2 931.4h0M508.5 909.1h0M495.0 878.1h0M498.8 929.5h0M490.5 912.7h0M490.6 793.8h0M489.8 920.5h0M495.2 918.7h0M497.3 861.6h0M494.3 899.5h0M505.4 816.9h0M487.2 926.4h0M499.2 883.3h0M488.1 911.6h0M488.1 910.8h0M493.4 887.3h0M488.4 895.6h0M488.7 887.5h0M543.6 907.6h0M492.9 884.8h0M502.4 914.3h0M509.2 888.5h0M493.4 915.7h0M490.9 863.9h0M526.9 914.9h0M539.9 880.1h0M506.9 915.4h0M494.6 924.5h0M608.4 898.3h0M495.2 911.0h0M488.6 918.1h0M488.5 910.4h0M494.0 917.4h0M530.6 885.7h0M501.1 912.5h0M489.9 881.2h0M489.5 913.4h0M528.0 906.6h0M501.3 797.2h0M492.8 820.3h0M488.7 929.9h0M491.6 908.0h0M500.2 918.4h0M493.6 874.3h0M492.4 899.1h0M495.5 920.0h0M498.4 896.1h0M491.0 852.4h0M531.0 903.3h0M500.7 917.2h0M497.2 924.7h0M496.4 889.6h0M502.5 907.2h0M495.2 918.7h0M496.4 859.6h0M494.9 924.9h0M498.8 905.4h0M489.3 907.9h0M490.4 891.8h0M496.5 879.3h0M498.1 902.8h0M496.3 846.1h0M523.6 896.1h0M501.6 872.9h0M499.6 895.8h0M488.3 897.8h0M505.9 892.0h0M489.8 898.7h0"/>
<path d="M487.4 924.1h0M519.4 874.1h0M492.6 877.4h0M490.5 923.5h0M507.7 895.5h0M494.0 907.9h0M492.0 884.9h0M515.5 875.7h0M546.5 910.5h0M525.2 778.6h0M490.2 905.5h0M487.2 926.8h0M494.4 927.5h0M490.8 925.4h0M527.2 910.9h0M504.6 920.0h0M507.5 863.3h0M487.4 931.6h0M503.5 900.1h0M509.5 907.4h0M487.6 920.2h0M497.3 883.6h0M498.7 841.9h0M517.5 891.1h0M499.6 923.3h0M487.4 920.1h0M487.7 924.3h0M496.3 865.1h0M543.3 916.3h0M534.1 843.9h0M497.1 897.7h0M489.3 897.9h0M491.5 924.1h0M492.4 891.8h0M502.1 859.0h0M499.6 927.0h0M494.8 900.6h0M488.4 894.1h0M493.2 903.1h0M516.5 891.9h0M488.6 903.1h0M493.7 872.2h0M488.1 927.1h0M505.7 923.5h0M497.3 905.2h0M495.2 880.6h0M490.1 886.3h0M495.6 892.4h0M494.1 850.3h0M488.7 908.8h0M503.2 916.8h0M502.0 853.1h0M487.4 926.1h0M494.5 914.9h0M489.4 923.4h0M489.4 885.1h0M489.8 910.7h0M520.4 870.4h0M504.1 882.6h0M508.7 917.8h0M490.0 930.3h0M505.7 891.3h0M487.7 923.6h0M494.0 910.2h0M487.2 925.9h0M500.4 903.4h0M488.4 899.5h0M506.3 916.4h0M503.2 791.5h0M496.7 919.8h0M487.7 920.3h0M501.5 922.1h0M507.9 912.8h0M489.7 926.9h0M488.0 930.7h0M491.1 918.7h0M487.9 908.2h0M487.4 926.0h0M488.3 900.2h0"/>
<path d="M493.2 896.2h0M488.3 907.9h0M490.1 881.7h0M517.2 920.7h0M507.5 878.1h0M487.8 925.3h0M488.4 931.3h0M494.4 888.1h0M542.2 915.1h0M494.7 873.0h0M505.9 901.4h0M488.5 931.2h0M492.2 825.8h0M492.8 898.0h0M488.5 893.3h0M493.5 921.6h0M488.1 907.3h0M488.6 913.0h0M492.5 904.0h0M510.5 914.0h0M490.2 929.3h0M496.9 911.4h0M502.9 868.7h0M498.4 919.3h0M489.3 880.0h0M511.6 914.1h0M497.3 880.4h0M487.3 925.7h0M494.9 914.4h0M510.9 898.0h0M511.9 853.1h0M494.6 848.0h0M504.3 896.0h0M502.9 841.0h0M497.3 891.5h0M492.4 910.8h0M514.5 920.5h0M488.2 898.6h0M501.5 877.9h0M493.3 927.7h0M503.6 887.0h0M489.4 893.0h0M490.5 904.2h0M499.1 922.9h0M534.4 891.6h0M487.5 926.8h0M487.7 918.6h0M497.7 765.6h0M495.1 900.6h0M490.2 875.5h0M602.6 907.2h0M498.4 895.4h0M488.5 928.7h0M516.6 821.0h0M487.9 911.1h0M491.8 853.2h0M515.0 902.7h0M497.3 888.0h0M494.0 879.9h0M493.2 878.8h0M499.7 879.2h0M506.7 821.2h0M487.7 915.1h0M505.4 839.6h0M493.6 927.5h0M494.8 866.4h0M503.1 815.8h0M493.8 878.8h0M491.2 919.7h0M502.5 868.7h0M509.3 857.9h0M500.8 862.6h0M489.0 930.3h0M492.8 900.5h0M506.1 849.1h0M501.0 910.7h0M516.3 923.7h0M495.9 901.3h0M488.4 892.1h0"/>
<path d="M503.4 860.3h0M499.2 914.6h0M502.8 916.3h0M496.9 915.4h0M512.9 900.8h0M502.2 889.8h0M555.7 907.6h0M488.0 902.5h0M493.7 884.9h0M510.4 913.2h0M556.1 880.7h0M524.2 904.6h0M562.5 914.5h0M494.6 927.9h0M506.1 905.4h0M490.6 879.5h0M489.8 885.4h0M516.4 888.9h0M488.2 909.6h0M505.5 913.2h0M490.7 857.5h0M509.0 901.5h0M491.4 927.1h0M504.2 915.1h0M498.5 862.0h0M493.3 864.1h0M488.9 883.6h0M576.1 903.2h0M492.3 907.7h0M504.2 896.9h0M491.6 875.4h0M493.6 854.7h0M492.8 907.4h0M492.0 923.8h0M495.6 901.9h0M493.3 875.0h0M490.4 925.0h0M491.9 929.2h0M494.8 870.1h0M498.6 817.1h0M489.7 873.3h0M489.8 928.0h0M491.1 909.4h0M494.1 902.4h0M530.4 898.3h0M498.1 929.4h0M491.4 915.8h0M496.2 898.2h0M489.2 885.1h0M487.7 931.4h0M499.6 919.8h0M493.3 874.6h0M488.2 901.5h0M496.2 917.6h0M495.6 917.2h0M489.0 879.8h0M499.9 870.5h0M500.2 902.3h0M617.5 907.4h0M489.5 925.0h0M500.3 928.2h0M501.3 907.6h0M489.1 879.8h0M487.3 931.7h0M489.5 904.8h0M488.3 904.7h0M499.0 853.1h0M491.3 925.6h0M499.1 894.4h0M507.7 899.4h0M498.8 887.1h0M488.0 918.1h0M488.9 884.7h0M494.9 890.2h0M556.2 879.3h0M529.3 833.0h0M494.4 879.1h0M548.6 895.4h0M492.1 926.4h0"/>
<path d="M537.1 898.9h0M487.9 931.0h0M489.8 930.9h0M497.3 870.5h0M504.7 892.6h0M495.9 874.0h0M492.4 874.6h0M488.6 911.7h0M573.6 888.0h0M487.7 919.1h0M490.7 902.8h0M494.5 920.3h0M497.8 882.5h0M491.1 929.7h0M511.7 925.1h0M496.7 792.5h0M497.5 918.8h0M487.8 907.8h0M487.5 916.9h0M547.6 870.5h0M507.8 815.1h0M495.9 913.0h0M487.6 922.0h0M495.1 930.1h0M494.6 859.3h0M488.2 925.9h0M487.8 915.9h0M703.4 879.9h0M491.9 918.1h0M493.1 928.2h0M492.9 912.5h0M496.3 870.6h0M513.2 892.8h0M499.8 830.0h0M502.0 910.6h0M511.2 928.1h0M492.6 876.2h0M491.1 886.2h0M504.9 889.6h0M500.7 922.4h0M488.7 895.7h0M500.3 907.4h0M522.3 908.5h0M505.8 895.9h0M492.2 915.6h0M491.5 830.7h0M498.5 895.8h0M489.8 931.4h0M505.0 884.3h0M495.3 926.8h0M487.6 914.2h0M499.7 909.8h0M636.7 903.7h0M668.6 901.8h0M489.8 882.1h0M493.1 914.4h0M499.0 929.4h0M498.9 875.1h0M496.5 923.5h0M491.2 881.9h0M499.4 918.9h0M490.6 906.8h0M515.1 903.7h0M504.9 878.3h0M498.0 857.3h0M491.8 885.4h0M493.4 892.4h0M489.3 897.8h0M532.1 903.1h0M491.3 856.8h0M487.8 927.7h0M502.0 922.4h0M501.8 864.9h0M492.9 885.1h0M557.2 887.0h0M491.9 900.1h0M489.8 869.0h0M489.9 857.5h0M490.0 874.9h0"/>
<path d="M509.5 891.6h0M487.7 924.1h0M488.2 931.5h0M494.2 919.6h0M490.1 928.0h0M487.3 926.4h0M497.6 909.6h0M493.6 905.6h0M489.2 922.7h0M496.5 841.4h0M490.3 886.4h0M492.3 890.2h0M487.2 931.8h0M506.6 928.3h0M502.9 903.5h0M488.2 921.2h0M488.2 928.3h0M499.1 920.7h0M488.7 886.9h0M488.3 911.7h0M487.6 927.1h0M499.5 912.9h0M552.1 900.3h0M488.7 908.9h0M507.0 915.7h0M494.7 900.4h0M513.0 911.6h0M488.2 908.9h0M496.9 902.8h0M507.1 861.6h0M511.1 911.4h0M498.9 916.2h0M500.8 910.4h0M502.8 913.4h0M487.7 917.7h0M489.9 927.4h0M495.1 908.8h0M497.1 888.4h0M546.3 862.3h0M496.5 894.6h0M523.7 904.9h0M499.4 891.5h0M491.4 859.3h0M514.0 894.5h0M491.5 928.2h0M493.8 893.0h0M507.3 915.9h0M501.3 917.2h0M497.5 909.0h0M487.7 927.4h0M514.5 915.0h0M491.6 892.4h0M489.2 924.8h0M507.8 918.9h0M500.1 919.8h0M528.7 903.1h0M487.6 923.2h0M489.7 909.8h0M502.6 887.0h0M517.8 923.9h0M499.5 904.0h0M487.6 919.9h0M508.8 865.1h0M520.8 876.0h0M527.4 906.3h0M488.8 926.7h0M500.3 826.9h0M490.0 854.0h0M497.8 919.5h0M566.0 903.5h0M491.3 882.1h0M490.6 923.8h0M494.3 876.3h0M487.5 917.7h0M494.4 877.5h0M495.3 924.6h0M490.2 870.0h0M496.2 889.8h0M491.3 889.4h0"/>
<path d="M496.8 900.9h0M493.9 895.8h0M493.2 914.0h0M503.1 889.0h0M501.5 897.4h0M499.2 883.6h0M488.4 930.4h0M487.9 908.0h0M489.1 896.5h0M522.3 909.7h0M491.0 930.2h0M507.9 914.1h0M505.9 867.2h0M489.4 920.0h0M489.5 929.0h0M492.1 923.4h0M494.6 891.3h0M488.0 913.3h0M488.7 928.1h0M492.6 916.7h0M490.5 921.4h0M487.4 926.3h0M496.8 825.0h0M487.7 915.6h0M490.7 841.9h0M495.0 856.3h0M488.1 917.2h0M503.0 902.6h0M495.4 886.2h0M503.6 693.1h0M487.6 923.5h0M503.4 897.7h0M554.2 880.9h0M488.4 930.0h0M502.1 882.8h0M626.2 901.3h0M488.1 899.3h0M537.0 902.3h0M494.2 915.1h0M489.1 914.4h0M522.5 914.9h0M510.8 911.6h0M512.3 923.9h0M491.2 896.9h0M508.2 918.2h0M495.2 880.5h0M498.4 905.2h0M509.9 894.8h0M492.0 873.0h0M487.8 921.2h0M488.0 914.2h0M507.9 866.4h0M495.2 834.6h0M487.9 914.7h0M510.5 917.9h0M489.4 919.2h0M488.7 930.7h0M495.0 917.9h0M493.0 884.9h0M499.6 888.0h0M501.4 910.1h0M488.2 906.3h0M574.3 910.0h0M489.4 912.0h0M488.8 929.0h0M492.6 875.3h0M488.3 931.6h0M487.5 925.7h0M501.8 917.0h0M488.9 911.4h0M489.7 894.9h0M555.6 918.5h0M487.2 926.0h0M506.1 845.2h0M508.1 869.4h0M495.2 920.8h0M492.5 903.9h0M487.7 918.3h0M493.5 925.7h0"/>
<path d="M499.9 896.6h0M492.8 895.3h0M489.3 927.6h0M496.4 923.2h0M494.6 917.3h0M492.1 888.8h0M517.4 916.4h0M504.0 912.3h0M517.7 862.8h0M490.7 929.1h0M527.6 898.7h0M517.7 914.1h0M494.7 898.9h0M545.2 888.7h0M488.7 885.9h0M502.0 917.4h0M488.5 906.3h0M503.4 914.0h0M491.8 873.3h0M506.6 882.2h0M496.0 816.0h0M490.6 921.6h0M497.1 904.3h0M496.2 858.5h0M493.6 879.9h0M503.1 834.0h0M512.6 911.1h0M488.7 899.4h0M517.9 878.0h0M498.3 923.9h0M513.1 842.0h0M493.2 915.8h0M488.0 917.6h0M516.6 915.6h0M492.1 895.2h0M487.6 918.9h0M499.5 867.1h0M499.1 908.6h0M564.2 900.5h0M497.8 879.1h0M500.7 872.5h0M527.1 890.2h0M516.6 915.5h0M501.0 851.9h0M533.8 919.7h0M490.2 862.8h0M488.3 904.3h0M499.3 878.1h0M509.2 847.0h0M492.2 915.8h0M488.2 927.2h0M597.7 891.5h0M501.7 901.7h0M488.7 913.4h0M490.5 917.8h0M528.9 911.9h0M499.7 919.2h0M497.7 917.2h0M494.8 912.6h0M501.2 916.8h0M489.5 927.8h0M491.6 875.5h0M489.4 918.1h0M502.4 881.8h0M489.4 928.5h0M552.1 879.9h0M506.1 902.9h0M491.1 895.7h0M507.9 865.8h0M494.2 868.7h0M493.1 909.1h0M518.5 908.8h0M488.1 908.0h0M488.2 917.9h0M492.2 894.6h0M490.0 886.6h0M487.8 916.2h0M497.4 853.6h0M488.5 890.6h0"/>
<path d="M500.3 903.2h0M501.6 870.0h0M507.4 888.0h0M515.9 719.3h0M499.2 886.8h0M613.1 877.3h0M493.1 882.8h0M512.0 917.3h0M502.9 898.4h0M492.5 878.8h0M500.0 885.8h0M567.1 895.3h0M487.8 912.0h0M494.5 884.1h0M491.5 914.3h0M490.3 917.9h0M504.3 913.5h0M493.7 898.8h0M505.1 912.2h0M491.6 928.5h0M508.0 922.1h0M490.2 869.5h0M491.2 918.9h0M488.5 904.8h0M487.2 926.1h0M495.7 873.1h0M491.8 881.0h0M494.2 921.3h0M489.4 892.1h0M494.3 927.6h0M506.6 870.0h0M491.6 898.2h0M499.2 829.0h0M495.0 896.1h0M494.5 880.7h0M492.0 910.6h0M495.4 873.3h0M495.3 910.2h0M497.9 917.5h0M493.1 919.9h0M501.3 920.8h0M495.2 890.1h0M487.7 918.5h0M493.6 875.9h0M497.3 844.7h0M498.4 914.6h0M487.8 923.3h0M491.9 919.0h0M494.3 812.0h0M498.4 859.5h0M499.3 917.9h0M499.9 886.1h0M489.0 886.6h0M497.0 905.4h0M496.7 912.5h0M493.0 885.7h0M488.4 902.0h0M494.3 890.4h0M499.0 909.5h0M495.7 867.2h0M522.9 920.7h0M506.6 904.1h0M507.9 793.6h0M582.5 887.1h0M497.7 889.8h0M532.1 909.7h0M524.5 893.0h0M491.2 818.9h0M498.0 912.1h0M531.7 909.6h0M521.1 889.5h0M507.0 912.5h0M496.8 866.3h0M487.7 924.1h0M501.3 908.8h0M497.7 914.2h0M488.2 927.9h0M487.6 923.4h0M490.3 877.3h0"/>
<path d="M496.7 882.8h0M490.5 927.5h0M494.2 921.9h0M489.3 930.9h0M498.9 891.4h0M494.7 899.7h0M497.5 922.1h0M509.8 905.6h0M493.4 886.9h0M499.5 883.0h0M492.6 910.4h0M488.4 893.0h0M487.2 926.0h0M493.8 926.8h0M488.8 895.1h0M490.7 876.8h0M498.1 903.7h0M501.0 834.6h0M492.5 921.9h0M491.8 876.3h0M502.5 866.9h0M496.2 911.9h0M488.9 881.3h0M489.0 930.0h0M519.9 864.6h0M490.3 897.3h0M488.1 913.6h0M488.6 929.9h0M492.9 851.5h0M503.2 902.2h0M487.9 910.7h0M495.8 905.9h0M511.9 856.8h0M487.5 919.2h0M487.6 921.2h0M500.3 922.9h0M499.3 879.5h0M498.3 865.0h0M491.6 907.0h0M507.8 892.0h0M488.2 930.2h0M495.7 900.1h0M487.4 922.2h0M488.0 922.0h0M567.8 917.6h0M487.6 926.9h0M506.8 895.8h0M504.0 839.4h0M535.4 900.5h0M513.9 904.7h0M493.9 905.0h0M500.1 921.5h0M510.3 913.7h0M498.8 921.3h0M495.6 892.7h0M523.6 911.6h0M492.7 896.1h0M529.2 905.2h0M497.6 854.7h0M499.2 914.0h0M493.9 890.5h0M489.0 897.2h0M498.8 921.0h0M521.0 909.8h0M499.8 923.4h0M508.4 907.8h0M572.0 849.7h0M492.5 881.8h0M504.9 882.9h0M493.0 854.1h0M497.4 920.4h0M564.8 913.6h0M487.6 918.8h0M498.3 918.0h0M533.5 901.8h0M512.5 914.6h0M488.8 928.0h0M496.5 880.3h0M500.3 863.4h0"/>
<path d="M585.0 879.8h0M500.1 915.4h0M488.5 907.6h0M501.1 853.5h0M488.0 905.9h0M491.8 930.2h0M494.9 884.0h0M499.9 896.0h0M487.3 922.9h0M490.9 923.8h0M500.7 909.9h0M505.9 894.8h0M499.5 903.8h0M497.6 922.0h0M504.7 870.0h0M493.8 920.9h0M525.2 909.2h0M487.6 918.2h0M496.5 896.8h0M494.9 900.6h0M520.1 832.2h0M492.0 882.3h0M511.3 921.5h0M499.2 896.1h0M487.5 919.9h0M488.2 904.2h0M491.1 899.1h0M505.5 887.2h0M490.0 871.0h0M496.4 925.3h0M507.2 911.6h0M494.7 887.2h0M533.5 902.2h0M521.8 898.3h0M496.9 892.4h0M510.4 914.4h0M498.2 887.4h0M493.4 877.1h0M506.6 928.6h0M500.6 906.7h0M497.5 868.2h0M514.0 917.6h0M487.8 915.1h0M565.4 887.6h0M487.7 926.9h0M487.5 917.3h0M493.9 900.7h0M487.9 927.9h0M492.3 879.8h0M487.6 917.5h0M492.9 906.0h0M490.5 896.8h0M487.3 925.1h0M494.7 912.0h0M488.0 928.0h0M495.5 904.8h0M498.3 820.1h0M495.2 900.3h0M494.4 875.7h0M556.2 907.1h0M496.6 870.2h0M487.7 924.8h0M491.5 886.3h0M495.7 915.8h0M489.4 907.2h0M498.3 909.1h0M491.0 889.5h0M489.5 931.2h0M491.8 900.8h0M495.3 867.4h0M488.1 930.7h0M492.5 900.4h0M493.9 916.5h0M496.3 885.9h0M499.5 922.9h0M493.4 926.6h0M492.2 826.7h0M505.9 915.6h0M494.5 906.7h0"/>
<path d="M492.6 909.0h0M548.9 888.7h0M503.3 915.6h0M495.8 893.2h0M490.6 864.8h0M521.6 825.9h0M501.6 917.1h0M488.9 883.5h0M488.3 895.2h0M490.0 894.1h0M493.0 920.0h0M490.9 877.9h0M625.2 808.0h0M487.5 919.0h0M495.1 877.7h0M489.8 886.0h0M492.6 878.8h0M490.0 875.1h0M508.2 908.3h0M488.4 928.7h0M506.1 833.4h0M500.4 891.2h0M491.9 883.8h0M489.2 930.6h0M493.8 892.4h0M495.6 902.2h0M490.2 879.9h0M490.3 877.8h0M492.7 902.4h0M530.8 919.4h0M511.4 894.8h0M488.3 923.6h0M506.9 911.4h0M492.0 883.9h0M488.0 910.2h0M489.0 888.4h0M499.0 911.4h0M498.7 903.8h0M508.3 906.7h0M487.8 931.3h0M496.5 875.6h0M489.5 877.5h0M488.2 910.6h0M500.2 894.4h0M502.5 881.4h0M495.8 914.5h0M509.3 910.8h0M501.0 919.2h0M500.4 922.7h0M497.7 911.7h0M489.0 895.3h0M613.3 905.3h0M637.6 892.5h0M488.9 907.0h0M494.1 888.4h0M500.7 884.4h0M501.4 838.1h0M487.9 914.1h0M488.6 898.3h0M507.3 868.1h0M528.8 895.2h0M487.7 931.7h0M492.0 903.4h0M511.3 916.9h0M499.6 923.4h0M498.5 926.2h0M644.1 896.4h0M503.9 900.8h0M489.0 900.2h0M538.7 912.0h0M496.3 918.4h0M493.3 887.8h0M495.2 895.7h0M501.2 883.8h0M506.0 849.6h0M506.9 876.3h0M491.2 886.8h0M489.9 922.4h0M487.1 931.9h0"/>
<path d="M503.1 919.0h0M499.6 883.1h0M502.9 901.9h0M509.3 891.8h0M506.5 896.1h0M499.8 863.7h0M523.7 872.5h0M505.3 840.8h0M490.2 909.0h0M487.6 916.1h0M500.1 926.5h0M496.5 916.0h0M499.1 922.5h0M539.1 780.6h0M488.4 929.8h0M513.9 899.7h0M518.9 893.5h0M505.6 887.6h0M493.3 910.5h0M495.0 907.8h0M492.5 928.2h0M491.3 923.0h0M488.4 931.4h0M495.9 926.0h0M492.2 908.0h0M489.4 920.6h0M500.9 889.9h0M489.4 885.0h0M499.6 911.1h0M487.4 927.2h0M658.8 875.7h0M488.1 904.5h0M515.9 908.9h0M500.2 906.3h0M526.0 876.8h0M495.6 912.0h0M504.3 915.7h0M501.6 906.2h0M500.7 884.3h0M488.0 907.6h0M505.6 853.2h0M499.5 882.8h0M488.2 900.5h0M488.0 931.5h0M489.7 909.7h0M494.6 888.3h0M502.2 897.9h0M525.1 880.0h0M489.6 907.0h0M487.5 918.8h0M494.9 891.9h0M494.0 891.6h0M491.2 910.2h0M492.7 839.8h0M504.0 790.6h0M488.8 912.3h0M491.6 889.6h0M501.2 910.5h0M493.7 846.2h0M500.6 911.5h0M493.8 905.6h0M487.8 912.9h0M488.6 900.1h0M694.1 896.7h0M498.7 920.7h0M488.8 894.5h0M490.7 887.7h0M498.8 915.7h0M495.5 909.9h0M499.6 905.0h0M496.7 910.4h0M488.2 904.3h0M490.6 872.7h0M518.3 857.6h0M500.0 894.1h0M514.7 882.6h0M500.4 918.2h0M491.8 917.5h0M489.0 887.1h0"/>
<path d="M521.1 881.5h0M490.4 834.9h0M497.2 892.7h0M497.4 888.5h0M489.6 901.0h0M497.3 925.9h0M496.5 893.2h0M503.5 852.7h0M495.8 868.0h0M494.5 906.3h0M501.1 844.3h0M494.1 873.8h0M494.1 860.3h0M488.5 903.3h0M488.9 880.0h0M492.4 929.7h0M495.8 849.0h0M501.4 889.7h0M501.2 913.1h0M489.3 888.5h0M497.3 918.4h0M494.8 883.2h0M489.0 907.1h0M488.2 899.4h0M492.0 927.6h0M497.3 899.3h0M500.9 917.5h0M537.3 905.6h0M492.9 912.7h0M492.0 894.8h0M495.9 874.0h0M488.6 929.6h0M501.2 894.3h0M491.3 885.2h0M489.4 891.0h0M509.7 911.7h0M519.5 892.5h0M492.8 892.9h0M506.1 922.0h0M495.3 909.2h0M491.7 851.2h0M496.9 902.9h0M487.7 914.6h0M497.3 902.1h0M506.7 854.5h0M489.9 893.0h0M488.1 915.4h0M487.9 910.4h0M490.0 899.0h0M495.0 885.8h0M495.9 894.4h0M503.6 924.1h0M509.3 911.4h0M496.0 886.2h0M488.1 902.5h0M495.6 909.8h0M488.6 931.0h0M506.2 887.1h0M496.2 914.3h0M503.9 904.4h0M487.5 920.4h0M506.9 917.6h0M504.9 881.4h0M488.9 888.3h0M490.9 877.1h0M498.9 884.3h0M499.1 913.9h0M511.8 833.2h0M494.1 877.1h0M507.9 909.7h0M490.7 851.5h0M588.1 870.7h0M488.0 904.0h0M514.3 886.4h0M490.1 905.9h0M488.2 928.3h0M489.4 926.8h0M515.5 885.6h0M493.0 897.2h0"/>
<path d="M500.3 875.0h0M522.4 888.0h0M498.0 913.4h0M489.7 892.9h0M488.6 900.8h0M508.4 863.8h0M499.1 923.6h0M493.5 917.1h0M532.8 893.0h0M492.8 890.4h0M507.4 776.6h0M506.6 903.2h0M507.7 887.4h0M501.0 907.8h0M497.3 887.5h0M519.1 913.0h0M498.7 906.1h0M494.5 922.7h0M490.5 902.6h0M489.0 882.1h0M493.9 927.7h0M496.1 924.5h0M507.0 925.9h0M487.5 931.4h0M489.7 881.6h0M488.5 924.7h0M567.1 856.7h0M498.5 866.4h0M490.5 929.4h0M491.8 876.8h0M497.0 898.5h0M494.1 908.2h0M589.2 888.8h0M495.0 897.0h0M494.9 896.7h0M505.1 914.5h0M504.8 917.7h0M501.9 921.2h0M496.6 922.1h0M489.2 885.0h0M504.6 846.3h0M495.3 889.0h0M489.7 883.6h0M500.1 888.0h0M549.6 847.4h0M517.2 911.5h0M514.4 916.0h0M514.9 893.1h0M496.1 874.4h0M501.8 920.6h0M489.1 883.5h0M497.5 903.1h0M494.5 894.8h0M490.0 930.6h0M497.6 920.7h0M575.8 907.8h0M492.5 921.4h0M621.7 899.5h0M495.3 875.8h0M500.5 906.0h0M496.4 926.8h0M509.5 845.4h0M487.9 910.2h0M490.4 895.7h0M594.9 910.6h0M487.8 927.1h0M489.7 930.3h0M492.7 923.0h0M502.3 856.4h0M487.1 931.8h0M492.2 854.9h0M491.4 929.5h0M494.1 913.1h0M488.2 904.0h0M487.5 919.2h0M498.5 880.0h0M488.1 930.7h0M497.0 877.1h0M502.1 920.8h0"/>
<path d="M488.0 903.9h0M494.1 923.1h0M506.3 918.8h0M499.2 926.6h0M488.8 926.9h0M490.0 919.0h0M492.1 925.8h0M491.6 833.8h0M512.2 919.3h0M491.5 929.5h0M498.4 854.2h0M573.0 873.7h0M495.4 897.5h0M494.3 923.8h0M489.2 930.4h0M490.1 872.5h0M489.1 904.4h0M502.1 891.6h0M497.5 918.3h0M541.9 906.8h0M504.0 911.3h0M496.6 893.5h0M516.3 927.0h0M497.3 929.5h0M487.9 917.3h0M496.4 876.2h0M496.0 867.3h0M499.9 850.9h0M493.3 853.0h0M490.7 920.5h0M499.2 892.7h0M500.1 821.3h0M501.0 897.4h0M495.0 901.6h0M493.3 908.5h0M496.7 901.3h0M490.1 861.9h0M488.6 899.9h0M492.5 878.5h0M494.4 905.8h0M511.7 892.2h0M501.7 847.9h0M497.0 899.4h0M502.7 921.5h0M492.3 921.7h0M498.0 868.3h0M487.8 919.9h0M492.4 827.9h0M497.2 912.7h0M493.1 843.3h0M488.4 898.4h0M499.9 907.3h0M497.4 918.8h0M491.2 818.4h0M489.2 909.7h0M491.3 912.0h0M495.1 874.5h0M490.8 889.4h0M518.6 829.2h0M489.9 930.2h0M562.5 891.0h0M491.7 900.7h0M501.7 733.5h0M517.7 912.7h0M498.0 918.8h0M498.5 911.4h0M489.4 885.7h0M526.4 900.2h0M487.9 908.8h0M497.0 903.1h0M500.8 901.3h0M491.0 920.7h0M488.0 911.9h0M495.6 817.1h0M495.4 915.2h0M488.4 901.3h0M523.3 902.3h0M490.6 913.5h0M497.0 899.2h0"/>
<path d="M501.0 868.8h0M505.7 918.9h0M488.5 902.9h0M488.7 901.6h0M514.0 907.8h0M511.1 825.7h0M492.3 838.3h0M501.0 907.7h0M489.2 925.0h0M505.5 860.4h0M490.7 892.6h0M490.5 867.9h0M488.3 909.3h0M498.7 923.1h0M501.9 923.4h0M489.7 858.5h0M499.5 910.0h0M496.3 888.6h0M492.1 905.1h0M489.5 870.0h0M492.6 926.8h0M489.0 880.9h0M497.7 921.3h0M516.3 911.3h0M500.4 915.2h0M501.5 907.5h0M501.7 914.9h0M577.6 899.8h0M493.7 899.0h0M500.4 711.4h0M593.4 864.5h0M494.0 851.4h0M493.9 930.6h0M538.5 881.8h0M490.7 911.1h0M559.8 907.9h0M488.4 901.2h0M561.3 893.5h0M493.0 892.9h0M585.3 894.5h0M499.1 884.7h0M500.5 891.7h0M488.2 931.3h0M489.4 888.3h0M491.3 856.6h0M508.0 899.5h0M487.6 917.0h0M510.3 921.8h0M492.2 930.6h0M499.9 886.4h0M489.0 881.6h0M489.2 895.4h0M489.8 929.1h0M527.5 818.2h0M511.4 866.4h0M488.2 896.6h0M488.2 905.8h0M487.1 931.8h0M499.4 815.5h0M503.8 910.2h0M488.1 915.9h0M494.1 911.2h0M498.4 923.5h0M489.8 920.8h0M488.0 915.5h0M500.5 880.1h0M502.9 872.8h0M492.4 913.7h0M495.6 900.8h0M509.2 920.3h0M499.7 914.8h0M509.6 873.9h0M504.6 906.3h0M496.3 904.3h0M527.2 886.2h0M488.1 907.6h0M488.9 884.9h0M494.2 896.5h0M490.1 920.1h0"/>
</g>
<g stroke="#3366FF" stroke-width="2.3" stroke-linecap="butt" fill="none">
<path d="M485.2 284.1L758.5 215.9"/>
<path d="M487.2 563.1L759.8 600.9"/>
<path d="M487.5 913.6L739.6 821.5"/>
</g>
<path d="M473.60 22.40V298.80" fill="none" stroke="#000" stroke-width="1.5"/>
<path d="M472.85 298.30H772.30" fill="none" stroke="#000" stroke-width="1.7"/>
<line x1="470.30" y1="285.60" x2="473.50" y2="285.60" stroke="#333" stroke-width="1.1"/>
<text x="469.75" y="289.10" font-size="16.5" fill="#4D4D4D" text-anchor="end" >0.00</text>
<line x1="470.30" y1="235.46" x2="473.50" y2="235.46" stroke="#333" stroke-width="1.1"/>
<text x="469.75" y="238.96" font-size="16.5" fill="#4D4D4D" text-anchor="end" >0.05</text>
<line x1="470.30" y1="185.32" x2="473.50" y2="185.32" stroke="#333" stroke-width="1.1"/>
<text x="469.75" y="188.82" font-size="16.5" fill="#4D4D4D" text-anchor="end" >0.10</text>
<line x1="470.30" y1="135.18" x2="473.50" y2="135.18" stroke="#333" stroke-width="1.1"/>
<text x="469.75" y="138.68" font-size="16.5" fill="#4D4D4D" text-anchor="end" >0.15</text>
<line x1="470.30" y1="85.04" x2="473.50" y2="85.04" stroke="#333" stroke-width="1.1"/>
<text x="469.75" y="88.54" font-size="16.5" fill="#4D4D4D" text-anchor="end" >0.20</text>
<line x1="470.30" y1="34.90" x2="473.50" y2="34.90" stroke="#333" stroke-width="1.1"/>
<text x="469.75" y="38.40" font-size="16.5" fill="#4D4D4D" text-anchor="end" >0.25</text>
<line x1="487.00" y1="297.80" x2="487.00" y2="301.00" stroke="#333" stroke-width="1.1"/>
<text x="481.10" y="313.90" font-size="16.5" fill="#4D4D4D" text-anchor="start" >0.0</text>
<line x1="577.80" y1="297.80" x2="577.80" y2="301.00" stroke="#333" stroke-width="1.1"/>
<text x="571.90" y="313.90" font-size="16.5" fill="#4D4D4D" text-anchor="start" >0.1</text>
<line x1="668.60" y1="297.80" x2="668.60" y2="301.00" stroke="#333" stroke-width="1.1"/>
<text x="662.70" y="313.90" font-size="16.5" fill="#4D4D4D" text-anchor="start" >0.2</text>
<line x1="759.40" y1="297.80" x2="759.40" y2="301.00" stroke="#333" stroke-width="1.1"/>
<text x="753.50" y="313.90" font-size="16.5" fill="#4D4D4D" text-anchor="start" >0.3</text>
<path d="M473.60 344.70V621.15" fill="none" stroke="#000" stroke-width="1.5"/>
<path d="M472.85 620.65H772.30" fill="none" stroke="#000" stroke-width="1.7"/>
<line x1="470.30" y1="585.15" x2="473.50" y2="585.15" stroke="#333" stroke-width="1.1"/>
<text x="467.55" y="588.65" font-size="16.5" fill="#4D4D4D" text-anchor="end" >0</text>
<line x1="470.30" y1="539.52" x2="473.50" y2="539.52" stroke="#333" stroke-width="1.1"/>
<text x="467.55" y="543.02" font-size="16.5" fill="#4D4D4D" text-anchor="end" >1</text>
<line x1="470.30" y1="493.89" x2="473.50" y2="493.89" stroke="#333" stroke-width="1.1"/>
<text x="467.55" y="497.39" font-size="16.5" fill="#4D4D4D" text-anchor="end" >2</text>
<line x1="470.30" y1="448.26" x2="473.50" y2="448.26" stroke="#333" stroke-width="1.1"/>
<text x="467.55" y="451.76" font-size="16.5" fill="#4D4D4D" text-anchor="end" >3</text>
<line x1="470.30" y1="402.63" x2="473.50" y2="402.63" stroke="#333" stroke-width="1.1"/>
<text x="467.55" y="406.13" font-size="16.5" fill="#4D4D4D" text-anchor="end" >4</text>
<line x1="470.30" y1="357.00" x2="473.50" y2="357.00" stroke="#333" stroke-width="1.1"/>
<text x="467.55" y="360.50" font-size="16.5" fill="#4D4D4D" text-anchor="end" >5</text>
<line x1="487.00" y1="620.50" x2="487.00" y2="623.70" stroke="#333" stroke-width="1.1"/>
<text x="481.10" y="636.60" font-size="16.5" fill="#4D4D4D" text-anchor="start" >0.0</text>
<line x1="577.80" y1="620.50" x2="577.80" y2="623.70" stroke="#333" stroke-width="1.1"/>
<text x="571.90" y="636.60" font-size="16.5" fill="#4D4D4D" text-anchor="start" >0.1</text>
<line x1="668.60" y1="620.50" x2="668.60" y2="623.70" stroke="#333" stroke-width="1.1"/>
<text x="662.70" y="636.60" font-size="16.5" fill="#4D4D4D" text-anchor="start" >0.2</text>
<line x1="759.40" y1="620.50" x2="759.40" y2="623.70" stroke="#333" stroke-width="1.1"/>
<text x="753.50" y="636.60" font-size="16.5" fill="#4D4D4D" text-anchor="start" >0.3</text>
<path d="M473.60 668.60V944.80" fill="none" stroke="#000" stroke-width="1.5"/>
<path d="M472.85 944.30H772.30" fill="none" stroke="#000" stroke-width="1.7"/>
<line x1="470.30" y1="931.90" x2="473.50" y2="931.90" stroke="#333" stroke-width="1.1"/>
<text x="467.55" y="935.40" font-size="16.5" fill="#4D4D4D" text-anchor="end" >0</text>
<line x1="470.30" y1="881.68" x2="473.50" y2="881.68" stroke="#333" stroke-width="1.1"/>
<text x="467.55" y="885.18" font-size="16.5" fill="#4D4D4D" text-anchor="end" >1</text>
<line x1="470.30" y1="831.46" x2="473.50" y2="831.46" stroke="#333" stroke-width="1.1"/>
<text x="467.55" y="834.96" font-size="16.5" fill="#4D4D4D" text-anchor="end" >2</text>
<line x1="470.30" y1="781.24" x2="473.50" y2="781.24" stroke="#333" stroke-width="1.1"/>
<text x="467.55" y="784.74" font-size="16.5" fill="#4D4D4D" text-anchor="end" >3</text>
<line x1="470.30" y1="731.02" x2="473.50" y2="731.02" stroke="#333" stroke-width="1.1"/>
<text x="467.55" y="734.52" font-size="16.5" fill="#4D4D4D" text-anchor="end" >4</text>
<line x1="470.30" y1="680.80" x2="473.50" y2="680.80" stroke="#333" stroke-width="1.1"/>
<text x="467.55" y="684.30" font-size="16.5" fill="#4D4D4D" text-anchor="end" >5</text>
<line x1="487.00" y1="944.30" x2="487.00" y2="947.50" stroke="#333" stroke-width="1.1"/>
<text x="477.30" y="960.40" font-size="16.5" fill="#4D4D4D" text-anchor="start" >0.00</text>
<line x1="541.48" y1="944.30" x2="541.48" y2="947.50" stroke="#333" stroke-width="1.1"/>
<text x="531.78" y="960.40" font-size="16.5" fill="#4D4D4D" text-anchor="start" >0.05</text>
<line x1="595.96" y1="944.30" x2="595.96" y2="947.50" stroke="#333" stroke-width="1.1"/>
<text x="586.26" y="960.40" font-size="16.5" fill="#4D4D4D" text-anchor="start" >0.10</text>
<line x1="650.44" y1="944.30" x2="650.44" y2="947.50" stroke="#333" stroke-width="1.1"/>
<text x="640.74" y="960.40" font-size="16.5" fill="#4D4D4D" text-anchor="start" >0.15</text>
<line x1="704.92" y1="944.30" x2="704.92" y2="947.50" stroke="#333" stroke-width="1.1"/>
<text x="695.22" y="960.40" font-size="16.5" fill="#4D4D4D" text-anchor="start" >0.20</text>
<line x1="759.40" y1="944.30" x2="759.40" y2="947.50" stroke="#333" stroke-width="1.1"/>
<text x="749.70" y="960.40" font-size="16.5" fill="#4D4D4D" text-anchor="start" >0.25</text>
<text x="205.20" y="328.50" font-size="19.8" fill="#000" text-anchor="middle" >Ka</text>
<text x="205.80" y="652.40" font-size="19.8" fill="#000" text-anchor="middle" >Ks</text>
<text x="209.00" y="976.60" font-size="19.8" fill="#000" text-anchor="middle" >Ka/Ks</text>
<text x="627.40" y="328.60" font-size="19.8" fill="#000" text-anchor="middle" >Ks</text>
<text x="627.40" y="652.30" font-size="19.8" fill="#000" text-anchor="middle" >Ks</text>
<text x="625.60" y="976.80" font-size="19.8" fill="#000" text-anchor="middle" >Ka</text>
<text transform="translate(14.20,145.50) rotate(-90)" x="0" y="0" font-size="19.8" fill="#000" text-anchor="middle">Frequency</text>
<text transform="translate(14.20,466.80) rotate(-90)" x="0" y="0" font-size="19.8" fill="#000" text-anchor="middle">Frequency</text>
<text transform="translate(14.20,791.00) rotate(-90)" x="0" y="0" font-size="19.8" fill="#000" text-anchor="middle">Frequency</text>
<text transform="translate(440.60,160.80) rotate(-90)" x="0" y="0" font-size="19.8" fill="#000" text-anchor="middle">Ka</text>
<text transform="translate(442.00,478.00) rotate(-90)" x="0" y="0" font-size="19.8" fill="#000" text-anchor="middle">Ka/Ks</text>
<text transform="translate(440.80,801.80) rotate(-90)" x="0" y="0" font-size="19.8" fill="#000" text-anchor="middle">Ka/Ks</text>
<text x="1.00" y="21.00" font-size="27" fill="#000" text-anchor="start" >a</text>
<text x="2.60" y="356.40" font-size="27" fill="#000" text-anchor="start" >b</text>
<text x="1.00" y="678.50" font-size="27" fill="#000" text-anchor="start" >c</text>
<text x="424.30" y="20.50" font-size="27" fill="#000" text-anchor="start" >d</text>
<text x="424.00" y="356.30" font-size="27" fill="#000" text-anchor="start" >e</text>
<text x="424.30" y="679.20" font-size="27" fill="#000" text-anchor="start" >f</text>
</svg></body></html>
